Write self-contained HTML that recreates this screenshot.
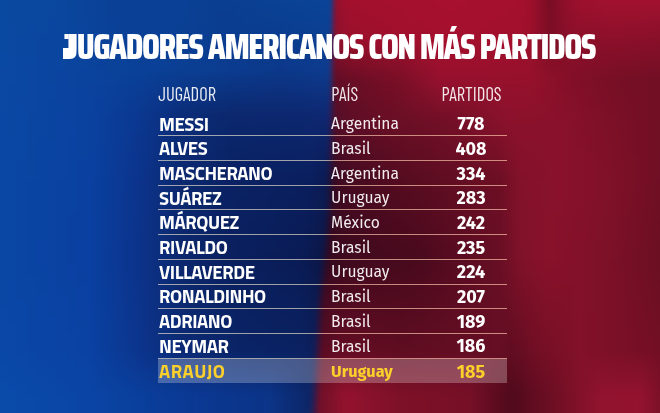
<!DOCTYPE html>
<html><head><meta charset="utf-8"><style>
html,body{margin:0;padding:0}
body{width:660px;height:413px;overflow:hidden;position:relative;background:#0b4a9c}
#bg{position:absolute;left:-10px;top:-10px;width:680px;height:433px;filter:blur(1.5px)}
#bg i{position:absolute;left:0;width:680px;display:block}

.t{position:absolute;left:62.5px;top:27.2px;font-family:'Saira Condensed','Liberation Sans Narrow','Liberation Sans',sans-serif;font-weight:800;font-size:35.5px;letter-spacing:-1.45px;word-spacing:0.2px;line-height:40px;color:#fff;white-space:nowrap}
.j{display:inline-block;position:relative;transform:scaleX(1.42);transform-origin:0 0;margin-right:4.6px}
.j:before,.j:after{content:'';position:absolute;left:1.1px;top:6.9px;width:3.4px;height:5.2px;background:#fff}
.j:after{left:-0.24px;width:4.74px;top:20.5px;height:11.2px}
.fb .j{transform:none;margin-right:0} .fb .j:before,.fb .j:after{display:none}
.h{position:absolute;top:84px;font-family:'Barlow Condensed','Liberation Sans Narrow','Liberation Sans',sans-serif;font-weight:400;font-size:18.5px;line-height:20px;color:rgba(255,255,255,.9);white-space:nowrap}
.row{position:absolute;left:0;width:660px;height:24px;color:#fff}
.row span{position:absolute;top:0;line-height:24px;white-space:nowrap}
.n{top:0.5px!important;left:159px;font-family:'Titillium Web','Liberation Sans',sans-serif;font-weight:700;font-size:18.6px;letter-spacing:-0.45px}
.c{top:1.3px!important;left:331.1px;font-family:'Fira Sans','Liberation Sans',sans-serif;font-weight:400;font-size:15.6px;color:rgba(255,255,255,.92)}
.v{top:1.2px!important;left:431px;width:80px;text-align:center;font-family:'Fira Sans','Liberation Sans',sans-serif;font-weight:700;font-size:18px}
.hl{background:rgba(255,255,255,.25);left:158px;width:349px;top:358.5px!important;height:24px}
.hl span{color:#fcd02a!important}
.hl .n{left:1px;letter-spacing:0.5px} .hl .c{left:173.1px;font-weight:700;font-size:16.3px} .hl .v{left:273px}
.ln{position:absolute;left:158px;width:349px;height:1px;background:rgba(255,238,228,.64)}
</style></head><body>
<div id="bg">
<i style="top:-2px;height:3px;background:linear-gradient(90deg,#0a49a0 0px,#0a49a0 10px,#0a489f 20px,#0a489f 30px,#0a489f 40px,#0a479e 50px,#0a479e 60px,#0a479e 70px,#0a459c 80px,#0a449b 90px,#0a4399 100px,#0a4298 110px,#0a4196 120px,#0a4196 130px,#0a4196 140px,#0a4197 150px,#0a4197 160px,#0a4298 170px,#0a4196 180px,#0a4095 190px,#0a4094 200px,#0a3f93 210px,#0a3e91 220px,#0a3e90 230px,#0a3e90 240px,#0a3f91 250px,#0a3f92 260px,#0a4093 270px,#0a4194 280px,#0a4296 290px,#0a4296 300px,#0a4296 310px,#0a4397 320px,#0a4397 330px,#0a4397 337px,#0a4397 339px,#0f4193 340px,#1e3b87 341px,#4b2a63 343px,#7a183e 345px,#93102e 347px,#97102e 349px,#98102e 350px,#a2102e 360px,#a2102e 370px,#a3102e 380px,#a4102e 390px,#a4102e 400px,#a5102f 410px,#a5102f 420px,#a6102f 430px,#a6102f 440px,#a7102f 450px,#a81030 460px,#a7102f 470px,#a6102f 480px,#a6102f 490px,#a5102e 500px,#a5102e 510px,#a4102e 520px,#a4102e 530px,#a00f2d 540px,#8c0f28 550px,#780d23 560px,#880e28 570px,#950f2b 580px,#9c102d 590px,#9e102e 600px,#a0112f 610px,#a21230 620px,#a21230 630px,#a21230 640px,#a21230 650px,#a21230 660px,#a21230 670px,#a21230 680px)"></i>
<i style="top:1px;height:3px;background:linear-gradient(90deg,#0a49a0 0px,#0a49a0 10px,#0a489f 20px,#0a489f 30px,#0a489f 40px,#0a479e 50px,#0a479e 60px,#0a479e 70px,#0a459c 80px,#0a449b 90px,#0a4399 100px,#0a4298 110px,#0a4196 120px,#0a4196 130px,#0a4196 140px,#0a4197 150px,#0a4197 160px,#0a4298 170px,#0a4196 180px,#0a4095 190px,#0a4094 200px,#0a3f93 210px,#0a3e91 220px,#0a3e90 230px,#0a3e90 240px,#0a3f91 250px,#0a3f92 260px,#0a4093 270px,#0a4194 280px,#0a4296 290px,#0a4296 300px,#0a4296 310px,#0a4397 320px,#0a4397 330px,#0a4397 337px,#0a4397 339px,#0f4193 340px,#1e3b87 341px,#4b2a63 343px,#7a183e 345px,#93102e 347px,#97102e 349px,#98102e 350px,#a2102e 360px,#a2102e 370px,#a3102e 380px,#a4102e 390px,#a4102e 400px,#a5102f 410px,#a5102f 420px,#a6102f 430px,#a6102f 440px,#a7102f 450px,#a81030 460px,#a7102f 470px,#a6102f 480px,#a6102f 490px,#a5102e 500px,#a5102e 510px,#a4102e 520px,#a4102e 530px,#a00f2d 540px,#8c0f28 550px,#780d23 560px,#880e28 570px,#950f2b 580px,#9c102d 590px,#9e102e 600px,#a0112f 610px,#a21230 620px,#a21230 630px,#a21230 640px,#a21230 650px,#a21230 660px,#a21230 670px,#a21230 680px)"></i>
<i style="top:4px;height:3px;background:linear-gradient(90deg,#0a49a0 0px,#0a49a0 10px,#0a489f 20px,#0a489f 30px,#0a489f 40px,#0a479e 50px,#0a479e 60px,#0a479e 70px,#0a459c 80px,#0a449b 90px,#0a4399 100px,#0a4298 110px,#0a4196 120px,#0a4196 130px,#0a4196 140px,#0a4197 150px,#0a4197 160px,#0a4298 170px,#0a4196 180px,#0a4095 190px,#0a4094 200px,#0a3f93 210px,#0a3e91 220px,#0a3e90 230px,#0a3e90 240px,#0a3f91 250px,#0a3f92 260px,#0a4093 270px,#0a4194 280px,#0a4296 290px,#0a4296 300px,#0a4296 310px,#0a4397 320px,#0a4397 330px,#0a4397 337px,#0a4397 339px,#0f4193 340px,#1e3b87 341px,#4b2a63 343px,#7a183e 345px,#93102e 347px,#97102e 349px,#98102e 350px,#a2102e 360px,#a2102e 370px,#a3102e 380px,#a4102e 390px,#a4102e 400px,#a5102f 410px,#a5102f 420px,#a6102f 430px,#a6102f 440px,#a7102f 450px,#a81030 460px,#a7102f 470px,#a6102f 480px,#a6102f 490px,#a5102e 500px,#a5102e 510px,#a4102e 520px,#a4102e 530px,#a00f2d 540px,#8c0f28 550px,#780d23 560px,#880e28 570px,#950f2b 580px,#9c102d 590px,#9e102e 600px,#a0112f 610px,#a21230 620px,#a21230 630px,#a21230 640px,#a21230 650px,#a21230 660px,#a21230 670px,#a21230 680px)"></i>
<i style="top:7px;height:3px;background:linear-gradient(90deg,#0a49a0 0px,#0a49a0 10px,#0a489f 20px,#0a489f 30px,#0a489f 40px,#0a479e 50px,#0a479e 60px,#0a479e 70px,#0a459c 80px,#0a449b 90px,#0a4399 100px,#0a4298 110px,#0a4196 120px,#0a4196 130px,#0a4196 140px,#0a4197 150px,#0a4197 160px,#0a4298 170px,#0a4196 180px,#0a4095 190px,#0a4094 200px,#0a3f93 210px,#0a3e91 220px,#0a3e90 230px,#0a3e90 240px,#0a3f91 250px,#0a3f92 260px,#0a4093 270px,#0a4194 280px,#0a4296 290px,#0a4296 300px,#0a4296 310px,#0a4397 320px,#0a4397 330px,#0a4397 337px,#0a4397 339px,#0f4193 340px,#1e3b87 341px,#4b2a63 343px,#7a183e 345px,#93102e 347px,#97102e 349px,#98102e 350px,#a2102e 360px,#a2102e 370px,#a3102e 380px,#a4102e 390px,#a4102e 400px,#a5102f 410px,#a5102f 420px,#a6102f 430px,#a6102f 440px,#a7102f 450px,#a81030 460px,#a7102f 470px,#a6102f 480px,#a6102f 490px,#a5102e 500px,#a5102e 510px,#a4102e 520px,#a4102e 530px,#a00f2d 540px,#8c0f28 550px,#780d23 560px,#880e28 570px,#950f2b 580px,#9c102d 590px,#9e102e 600px,#a0112f 610px,#a21230 620px,#a21230 630px,#a21230 640px,#a21230 650px,#a21230 660px,#a21230 670px,#a21230 680px)"></i>
<i style="top:10px;height:3px;background:linear-gradient(90deg,#0a49a0 0px,#0a49a0 10px,#0a489f 20px,#0a489f 30px,#0a479f 40px,#0a479e 50px,#0a479e 60px,#0a469e 70px,#0a459c 80px,#0a449b 90px,#0a4399 100px,#0a4298 110px,#0a4196 120px,#0a4196 130px,#0a4196 140px,#0a4197 150px,#0a4197 160px,#0a4197 170px,#0a4196 180px,#0a4095 190px,#0a4094 200px,#0a3f93 210px,#0a3e91 220px,#0a3e90 230px,#0a3e90 240px,#0a3f91 250px,#0a3f92 260px,#0a4093 270px,#0a4194 280px,#0a4195 290px,#0a4296 300px,#0a4296 310px,#0a4296 320px,#0a4397 330px,#0a4397 337px,#0a4397 339px,#0f4192 340px,#1e3b86 341px,#4b2962 343px,#7a173e 345px,#93102d 347px,#96102d 349px,#98102d 350px,#a2102e 360px,#a2102e 370px,#a3102e 380px,#a3102e 390px,#a4102e 400px,#a4102e 410px,#a5102f 420px,#a6102f 430px,#a6102f 440px,#a7102f 450px,#a7102f 460px,#a7102f 470px,#a6102f 480px,#a6102f 490px,#a5102e 500px,#a5102e 510px,#a4102e 520px,#a4102e 530px,#9f0f2c 540px,#8c0e28 550px,#780d23 560px,#880e27 570px,#940f2b 580px,#9b102d 590px,#9d102e 600px,#9f112e 610px,#a1112f 620px,#a1112f 630px,#a1112f 640px,#a1112f 650px,#a1112f 660px,#a1112f 670px,#a1112f 680px)"></i>
<i style="top:13px;height:3px;background:linear-gradient(90deg,#0a49a0 0px,#0a49a0 10px,#0a489f 20px,#0a489f 30px,#0a479f 40px,#0a479e 50px,#0a479e 60px,#0a469e 70px,#0a459c 80px,#0a449b 90px,#0a4399 100px,#0a4298 110px,#0a4197 120px,#0a4196 130px,#0a4196 140px,#0a4197 150px,#0a4197 160px,#0a4197 170px,#0a4196 180px,#0a4095 190px,#0a4094 200px,#0a3f93 210px,#0a3e91 220px,#0a3e90 230px,#0a3e90 240px,#0a3e91 250px,#0a3f92 260px,#0a4093 270px,#0a4094 280px,#0a4195 290px,#0a4195 300px,#0a4296 310px,#0a4296 320px,#0a4296 330px,#0a4397 337px,#0a4397 339px,#104091 340px,#1f3a85 341px,#4c2961 343px,#7b173d 345px,#92102d 347px,#96102d 349px,#97102d 350px,#a1102d 360px,#a2102e 370px,#a2102e 380px,#a3102e 390px,#a3102e 400px,#a4102e 410px,#a5102f 420px,#a5102f 430px,#a6102f 440px,#a7102f 450px,#a7102f 460px,#a7102f 470px,#a6102f 480px,#a6102f 490px,#a5102e 500px,#a5102e 510px,#a4102e 520px,#a3102d 530px,#9f0f2c 540px,#8c0e28 550px,#780d23 560px,#880e27 570px,#940f2b 580px,#9a102d 590px,#9b102d 600px,#9d112e 610px,#9f112f 620px,#9f112f 630px,#9f112f 640px,#9f112f 650px,#9f112f 660px,#9f112f 670px,#9f112f 680px)"></i>
<i style="top:16px;height:3px;background:linear-gradient(90deg,#0a49a0 0px,#0a49a0 10px,#0a48a0 20px,#0a489f 30px,#0a479f 40px,#0a479e 50px,#0a479e 60px,#0a469e 70px,#0a459c 80px,#0a449b 90px,#0a4399 100px,#0a4298 110px,#0a4197 120px,#0a4196 130px,#0a4196 140px,#0a4197 150px,#0a4197 160px,#0a4197 170px,#0a4196 180px,#0a4095 190px,#0a3f94 200px,#0a3f92 210px,#0a3e91 220px,#0a3e90 230px,#0a3e90 240px,#0a3e91 250px,#0a3f92 260px,#0a3f92 270px,#0a4093 280px,#0a4094 290px,#0a4195 300px,#0a4195 310px,#0a4295 320px,#0a4296 330px,#0a4296 337px,#0a4296 339px,#114090 340px,#213a84 341px,#4d285f 343px,#7b173c 345px,#91102d 347px,#95102d 349px,#97102d 350px,#a1102d 360px,#a1102d 370px,#a2102e 380px,#a2102e 390px,#a3102e 400px,#a4102e 410px,#a4102e 420px,#a5102f 430px,#a6102f 440px,#a6102f 450px,#a7102f 460px,#a6102f 470px,#a6102f 480px,#a5102e 490px,#a5102e 500px,#a4102e 510px,#a4102e 520px,#a3102d 530px,#9f0f2c 540px,#8c0e28 550px,#780d23 560px,#870e27 570px,#930f2b 580px,#99102c 590px,#9a102d 600px,#9c112e 610px,#9d112e 620px,#9d112e 630px,#9d112e 640px,#9d112e 650px,#9d112e 660px,#9d112e 670px,#9d112e 680px)"></i>
<i style="top:19px;height:3px;background:linear-gradient(90deg,#0a49a0 0px,#0a49a0 10px,#0a48a0 20px,#0a489f 30px,#0a479f 40px,#0a479f 50px,#0a479e 60px,#0a469e 70px,#0a459c 80px,#0a449b 90px,#0a439a 100px,#0a4298 110px,#0a4197 120px,#0a4196 130px,#0a4197 140px,#0a4197 150px,#0a4197 160px,#0a4197 170px,#0a4196 180px,#0a4095 190px,#0a3f94 200px,#0a3f92 210px,#0a3e91 220px,#0a3e90 230px,#0a3d90 240px,#0a3e91 250px,#0a3e91 260px,#0a3f92 270px,#0a3f93 280px,#0a4094 290px,#0a4094 300px,#0a4195 310px,#0a4195 320px,#0a4295 330px,#0a4296 337px,#0a4296 339px,#123f8f 340px,#223982 341px,#4e275e 343px,#7b163b 345px,#91102d 347px,#94102d 349px,#96102d 350px,#a0102d 360px,#a1102d 370px,#a1102d 380px,#a2102e 390px,#a3102e 400px,#a3102e 410px,#a4102e 420px,#a5102e 430px,#a5102f 440px,#a6102f 450px,#a7102f 460px,#a6102f 470px,#a6102e 480px,#a5102e 490px,#a5102e 500px,#a4102e 510px,#a3102d 520px,#a3102d 530px,#9f0f2c 540px,#8c0e28 550px,#790d23 560px,#870e27 570px,#920f2a 580px,#97102c 590px,#99102d 600px,#9a112d 610px,#9c112e 620px,#9c112e 630px,#9b112e 640px,#9b112e 650px,#9b112e 660px,#9b112e 670px,#9b112e 680px)"></i>
<i style="top:22px;height:3px;background:linear-gradient(90deg,#0a49a0 0px,#0a49a0 10px,#0a48a0 20px,#0a489f 30px,#0a479f 40px,#0a479f 50px,#0a479e 60px,#0a469e 70px,#0a459d 80px,#0a449b 90px,#0a439a 100px,#0a4298 110px,#0a4197 120px,#0a4196 130px,#0a4197 140px,#0a4197 150px,#0a4197 160px,#0a4197 170px,#0a4196 180px,#0a4095 190px,#0a3f94 200px,#0a3f92 210px,#0a3e91 220px,#0a3d90 230px,#0a3d90 240px,#0a3e90 250px,#0a3e91 260px,#0a3f92 270px,#0a3f92 280px,#0a4093 290px,#0a4094 300px,#0a4094 310px,#0a4195 320px,#0a4195 330px,#0a4295 337px,#0b4295 339px,#133e8e 340px,#233881 341px,#4f275d 343px,#7b163b 345px,#90102d 347px,#94102d 349px,#96102d 350px,#9f102d 360px,#a0102d 370px,#a1102d 380px,#a2102d 390px,#a2102e 400px,#a3102e 410px,#a4102e 420px,#a4102e 430px,#a5102e 440px,#a6102f 450px,#a6102f 460px,#a6102f 470px,#a5102e 480px,#a5102e 490px,#a4102e 500px,#a4102e 510px,#a3102d 520px,#a3102d 530px,#9e0f2c 540px,#8c0e28 550px,#790d23 560px,#860e27 570px,#910f2a 580px,#96102c 590px,#97102c 600px,#99102d 610px,#9a112d 620px,#9a112d 630px,#9a112d 640px,#99112d 650px,#99112d 660px,#99112d 670px,#99112d 680px)"></i>
<i style="top:25px;height:3px;background:linear-gradient(90deg,#0a49a0 0px,#0a49a0 10px,#0a48a0 20px,#0a48a0 30px,#0a479f 40px,#0a479f 50px,#0a469e 60px,#0a469e 70px,#0a459d 80px,#0a449b 90px,#0a439a 100px,#0a4299 110px,#0a4197 120px,#0a4197 130px,#0a4197 140px,#0a4197 150px,#0a4197 160px,#0a4197 170px,#0a4096 180px,#0a4095 190px,#0a3f93 200px,#0a3f92 210px,#0a3e91 220px,#0a3d90 230px,#0a3d90 240px,#0a3e90 250px,#0a3e91 260px,#0a3e91 270px,#0a3f92 280px,#0a3f93 290px,#0a4093 300px,#0a4094 310px,#0a4194 320px,#0a4195 330px,#0a4195 337px,#0b4194 339px,#143e8d 340px,#243780 341px,#4f265c 343px,#7b163a 345px,#8f102d 347px,#93102d 349px,#95102d 350px,#9f102d 360px,#a0102d 370px,#a0102d 380px,#a1102d 390px,#a2102e 400px,#a3102e 410px,#a3102e 420px,#a4102e 430px,#a5102e 440px,#a6102e 450px,#a6102f 460px,#a6102e 470px,#a5102e 480px,#a5102e 490px,#a4102e 500px,#a3102d 510px,#a3102d 520px,#a2102d 530px,#9e0f2c 540px,#8c0e28 550px,#790d23 560px,#860e27 570px,#900f2a 580px,#95102c 590px,#96102c 600px,#97102d 610px,#98112d 620px,#98112d 630px,#98112d 640px,#98112d 650px,#97112d 660px,#97112d 670px,#97112d 680px)"></i>
<i style="top:28px;height:3px;background:linear-gradient(90deg,#0a49a1 0px,#0a49a1 10px,#0a48a0 20px,#0a48a0 30px,#0a479f 40px,#0a479f 50px,#0a469e 60px,#0a469e 70px,#0a459d 80px,#0a449b 90px,#0a439a 100px,#0a4299 110px,#0a4197 120px,#0a4197 130px,#0a4197 140px,#0a4197 150px,#0a4197 160px,#0a4197 170px,#0a4096 180px,#0a4095 190px,#0a3f93 200px,#0a3f92 210px,#0a3e91 220px,#0a3d90 230px,#0a3d90 240px,#0a3d90 250px,#0a3e91 260px,#0a3e91 270px,#0a3e92 280px,#0a3f92 290px,#0a3f93 300px,#0a4093 310px,#0a4094 320px,#0a4194 330px,#0b4194 337px,#0c4194 339px,#153d8c 340px,#25377f 341px,#50255a 343px,#7b1639 345px,#8f102d 347px,#93102d 349px,#95102d 350px,#9e102d 360px,#9f102d 370px,#a0102d 380px,#a1102d 390px,#a1102d 400px,#a2102e 410px,#a3102e 420px,#a4102e 430px,#a5102e 440px,#a5102e 450px,#a6102f 460px,#a5102e 470px,#a5102e 480px,#a4102e 490px,#a4102d 500px,#a3102d 510px,#a3102d 520px,#a2102d 530px,#9e0f2c 540px,#8c0e28 550px,#790d23 560px,#860e27 570px,#900f2a 580px,#94102b 590px,#95102c 600px,#96102c 610px,#97112d 620px,#97112d 630px,#96112c 640px,#96112c 650px,#95112c 660px,#95112c 670px,#95112c 680px)"></i>
<i style="top:31px;height:3px;background:linear-gradient(90deg,#0a49a1 0px,#0a49a1 10px,#0a48a0 20px,#0a48a0 30px,#0a479f 40px,#0a479f 50px,#0a469f 60px,#0a469e 70px,#0a459d 80px,#0a449c 90px,#0a439a 100px,#0a4299 110px,#0a4198 120px,#0a4197 130px,#0a4197 140px,#0a4197 150px,#0a4197 160px,#0a4197 170px,#0a4096 180px,#0a4095 190px,#0a3f93 200px,#0a3f92 210px,#0a3e91 220px,#0a3d90 230px,#0a3d90 240px,#0a3d90 250px,#0a3e90 260px,#0a3e91 270px,#0a3e91 280px,#0a3e92 290px,#0a3f92 300px,#0a3f93 310px,#0b4093 320px,#0b4094 330px,#0b4194 337px,#0c4093 339px,#163c8b 340px,#26367d 341px,#512559 343px,#7b1539 345px,#8e102c 347px,#92102c 349px,#94102c 350px,#9e102c 360px,#9f102d 370px,#a0102d 380px,#a0102d 390px,#a1102d 400px,#a2102d 410px,#a3102e 420px,#a3102e 430px,#a4102e 440px,#a5102e 450px,#a6102e 460px,#a5102e 470px,#a5102e 480px,#a4102e 490px,#a3102d 500px,#a3102d 510px,#a2102d 520px,#a2102d 530px,#9e0f2c 540px,#8c0e28 550px,#7a0d24 560px,#850e27 570px,#8f0f2a 580px,#93102b 590px,#93102b 600px,#94102c 610px,#95102c 620px,#95102c 630px,#95102c 640px,#94102c 650px,#93102c 660px,#93102c 670px,#93102c 680px)"></i>
<i style="top:34px;height:3px;background:linear-gradient(90deg,#0a49a1 0px,#0a49a1 10px,#0a48a1 20px,#0a48a0 30px,#0a47a0 40px,#0a479f 50px,#0a469f 60px,#0a469e 70px,#0a459d 80px,#0a449c 90px,#0a439a 100px,#0a4299 110px,#0a4198 120px,#0a4197 130px,#0a4197 140px,#0a4197 150px,#0a4197 160px,#0a4197 170px,#0a4096 180px,#0a4094 190px,#0a3f93 200px,#0a3e92 210px,#0a3e91 220px,#0a3d90 230px,#0a3d8f 240px,#0a3d90 250px,#0a3d90 260px,#0a3d90 270px,#0a3e91 280px,#0a3e91 290px,#0a3e92 300px,#0b3f92 310px,#0b3f93 320px,#0b4093 330px,#0b4094 337px,#0d4092 339px,#173c8a 340px,#27357c 341px,#522458 343px,#7c1538 345px,#8e102c 347px,#91102c 349px,#93102c 350px,#9d102c 360px,#9e102d 370px,#9f102d 380px,#a0102d 390px,#a1102d 400px,#a2102d 410px,#a2102d 420px,#a3102e 430px,#a4102e 440px,#a5102e 450px,#a6102e 460px,#a5102e 470px,#a4102e 480px,#a4102d 490px,#a3102d 500px,#a3102d 510px,#a2102d 520px,#a1102c 530px,#9d0f2b 540px,#8c0e28 550px,#7a0d24 560px,#850e27 570px,#8e0f2a 580px,#91102b 590px,#92102b 600px,#93102b 610px,#93102c 620px,#93102c 630px,#93102c 640px,#92102b 650px,#92102b 660px,#91102b 670px,#91102b 680px)"></i>
<i style="top:37px;height:3px;background:linear-gradient(90deg,#0a49a1 0px,#0a49a1 10px,#0a48a1 20px,#0a48a0 30px,#0a47a0 40px,#0a479f 50px,#0a469f 60px,#0a469e 70px,#0a459d 80px,#0a449c 90px,#0a439b 100px,#0a4299 110px,#0a4198 120px,#0a4197 130px,#0a4197 140px,#0a4197 150px,#0a4197 160px,#0a4197 170px,#0a4096 180px,#0a4094 190px,#0a3f93 200px,#0a3e92 210px,#0a3e91 220px,#0a3d90 230px,#0a3d8f 240px,#0a3d90 250px,#0a3d90 260px,#0a3d90 270px,#0a3d90 280px,#0a3d91 290px,#0a3e91 300px,#0b3f92 310px,#0b3f92 320px,#0b4093 330px,#0b4093 337px,#0d3f91 339px,#173b89 340px,#28357b 341px,#532457 343px,#7c1537 345px,#8d102c 347px,#91102c 349px,#93102c 350px,#9d102c 360px,#9e102c 370px,#9f102d 380px,#9f102d 390px,#a0102d 400px,#a1102d 410px,#a2102d 420px,#a3102e 430px,#a4102e 440px,#a5102e 450px,#a5102e 460px,#a5102e 470px,#a4102e 480px,#a4102d 490px,#a3102d 500px,#a2102d 510px,#a2102d 520px,#a1102c 530px,#9d0f2b 540px,#8c0e28 550px,#7a0d24 560px,#840e27 570px,#8d0f2a 580px,#90102a 590px,#91102b 600px,#91102b 610px,#92102b 620px,#92102b 630px,#91102b 640px,#90102b 650px,#90102b 660px,#8f102b 670px,#8f102b 680px)"></i>
<i style="top:40px;height:3px;background:linear-gradient(90deg,#0a49a1 0px,#0a49a1 10px,#0a48a1 20px,#0a48a0 30px,#0a47a0 40px,#0a479f 50px,#0a469f 60px,#0a469e 70px,#0a459d 80px,#0a449c 90px,#0a439b 100px,#0a4299 110px,#0a4198 120px,#0a4197 130px,#0a4197 140px,#0a4197 150px,#0a4197 160px,#0a4197 170px,#0a4095 180px,#0a3f94 190px,#0a3f93 200px,#0a3e92 210px,#0a3e91 220px,#0a3d90 230px,#0a3d8f 240px,#0a3d90 250px,#0a3d90 260px,#0a3d90 270px,#0a3d90 280px,#0a3d90 290px,#0b3e91 300px,#0b3e91 310px,#0b3f92 320px,#0b3f92 330px,#0b4093 336px,#0b4093 338px,#183b88 340px,#3d2c68 342px,#691b45 344px,#88102e 346px,#8e102c 348px,#92102c 350px,#9c102c 360px,#9d102c 370px,#9e102c 380px,#9f102d 390px,#a0102d 400px,#a1102d 410px,#a2102d 420px,#a3102d 430px,#a3102e 440px,#a4102e 450px,#a5102e 460px,#a5102e 470px,#a4102d 480px,#a3102d 490px,#a3102d 500px,#a2102d 510px,#a1102c 520px,#a1102c 530px,#9d0f2b 540px,#8c0e28 550px,#7b0d24 560px,#840e27 570px,#8c0f29 580px,#8f102a 590px,#8f102a 600px,#90102b 610px,#90102b 620px,#90102b 630px,#8f102b 640px,#8f102a 650px,#8e102a 660px,#8d102a 670px,#8d102a 680px)"></i>
<i style="top:43px;height:3px;background:linear-gradient(90deg,#0a49a1 0px,#0a49a1 10px,#0a48a1 20px,#0a48a0 30px,#0a47a0 40px,#0a479f 50px,#0a469f 60px,#0a469e 70px,#0a459d 80px,#0a449c 90px,#0a439b 100px,#0a429a 110px,#0a4298 120px,#0a4198 130px,#0a4197 140px,#0a4197 150px,#0a4197 160px,#0a4197 170px,#0a4095 180px,#0a3f94 190px,#0a3f93 200px,#0a3e92 210px,#0a3e91 220px,#0a3d90 230px,#0a3d8f 240px,#0a3d8f 250px,#0a3d8f 260px,#0a3d8f 270px,#0a3d90 280px,#0a3d90 290px,#0b3d90 300px,#0b3e91 310px,#0b3e91 320px,#0b3f92 330px,#0b3f92 336px,#0b3f92 338px,#193a87 340px,#3e2b67 342px,#691b44 344px,#88102d 346px,#8e102c 348px,#92102c 350px,#9c102c 360px,#9d102c 370px,#9e102c 380px,#9f102c 390px,#a0102d 400px,#a0102d 410px,#a1102d 420px,#a2102d 430px,#a3102d 440px,#a4102e 450px,#a5102e 460px,#a4102e 470px,#a4102d 480px,#a3102d 490px,#a2102d 500px,#a2102c 510px,#a1102c 520px,#a1102c 530px,#9d0f2b 540px,#8c0e28 550px,#7b0d24 560px,#840e27 570px,#8c0f29 580px,#8e102a 590px,#8e102a 600px,#8e102a 610px,#8f102a 620px,#8f102a 630px,#8e102a 640px,#8d102a 650px,#8c102a 660px,#8b1029 670px,#8b1029 680px)"></i>
<i style="top:46px;height:3px;background:linear-gradient(90deg,#0a49a2 0px,#0a49a2 10px,#0a48a1 20px,#0a47a1 30px,#0a47a0 40px,#0a46a0 50px,#0a469f 60px,#0a459f 70px,#0a459d 80px,#0a449c 90px,#0a439b 100px,#0a429a 110px,#0a4299 120px,#0a4198 130px,#0a4197 140px,#0a4197 150px,#0a4197 160px,#0a4096 170px,#0a4095 180px,#0a3f94 190px,#0a3f93 200px,#0a3e92 210px,#0a3e91 220px,#0a3d90 230px,#0a3c8f 240px,#0a3c8f 250px,#0a3c8f 260px,#0a3c8f 270px,#0b3c8f 280px,#0b3c8f 290px,#0b3d90 300px,#0b3d90 310px,#0b3e91 320px,#0b3e91 330px,#0c3f92 336px,#0c3f92 338px,#1a3985 340px,#3f2b66 342px,#6a1a43 344px,#87102d 346px,#8d102c 348px,#91102c 350px,#9b102c 360px,#9c102c 370px,#9d102c 380px,#9e102c 390px,#9f102c 400px,#a0102d 410px,#a1102d 420px,#a2102d 430px,#a3102d 440px,#a4102d 450px,#a5102e 460px,#a4102d 470px,#a3102d 480px,#a3102d 490px,#a2102d 500px,#a2102c 510px,#a1102c 520px,#a0102c 530px,#9c0f2b 540px,#8c0e28 550px,#7b0d24 560px,#830e27 570px,#8b0f29 580px,#8d102a 590px,#8d102a 600px,#8d102a 610px,#8d102a 620px,#8d102a 630px,#8c102a 640px,#8b1029 650px,#8a1029 660px,#891029 670px,#891029 680px)"></i>
<i style="top:49px;height:3px;background:linear-gradient(90deg,#0a49a2 0px,#0a49a2 10px,#0a48a1 20px,#0a47a1 30px,#0a47a0 40px,#0a46a0 50px,#0a469f 60px,#0a459f 70px,#0a459d 80px,#0a449c 90px,#0a439b 100px,#0a429a 110px,#0a4299 120px,#0a4198 130px,#0a4198 140px,#0a4197 150px,#0a4197 160px,#0a4096 170px,#0a4095 180px,#0a3f94 190px,#0a3f93 200px,#0a3e92 210px,#0a3d91 220px,#0a3d90 230px,#0a3c8f 240px,#0a3c8f 250px,#0a3c8f 260px,#0b3c8f 270px,#0b3c8f 280px,#0b3c8f 290px,#0b3c8f 300px,#0b3d90 310px,#0b3e90 320px,#0c3e91 330px,#0c3e91 336px,#0c3f91 338px,#1b3984 340px,#402a64 342px,#6a1a42 344px,#87102d 346px,#8c0f2b 348px,#900f2b 350px,#9a0f2c 360px,#9b0f2c 370px,#9c0f2c 380px,#9d0f2c 390px,#9e0f2c 400px,#9f0f2c 410px,#a00f2d 420px,#a1102d 430px,#a2102d 440px,#a3102d 450px,#a4102d 460px,#a4102d 470px,#a3102d 480px,#a2102d 490px,#a2102c 500px,#a1102c 510px,#a1102c 520px,#a0102c 530px,#9c0f2b 540px,#8c0e28 550px,#7c0e25 560px,#830e27 570px,#8a0f29 580px,#8b0f29 590px,#8b0f29 600px,#8b0f29 610px,#8b0f29 620px,#8b0f29 630px,#8a0f29 640px,#890f29 650px,#880f29 660px,#870f28 670px,#870f28 680px)"></i>
<i style="top:52px;height:3px;background:linear-gradient(90deg,#0a49a2 0px,#0a49a2 10px,#0a48a1 20px,#0a47a1 30px,#0a47a0 40px,#0a46a0 50px,#0a469f 60px,#0a459f 70px,#0a459e 80px,#0a449c 90px,#0a439b 100px,#0a429a 110px,#0a4299 120px,#0a4198 130px,#0a4198 140px,#0a4197 150px,#0a4097 160px,#0a4096 170px,#0a4095 180px,#0a3f94 190px,#0a3f93 200px,#0a3e92 210px,#0a3d91 220px,#0a3d90 230px,#0a3c8f 240px,#0a3c8f 250px,#0b3c8f 260px,#0b3c8e 270px,#0b3b8e 280px,#0b3b8e 290px,#0b3c8f 300px,#0b3d8f 310px,#0b3d90 320px,#0c3e91 330px,#0c3e91 336px,#0c3e91 338px,#1c3883 340px,#402963 342px,#681941 344px,#84102c 346px,#890f2b 348px,#8d0f2b 350px,#970f2b 360px,#980f2b 370px,#990f2b 380px,#9a0f2c 390px,#9b0f2c 400px,#9c0f2c 410px,#9e0f2c 420px,#9f102d 430px,#a1102d 440px,#a2102d 450px,#a3102d 460px,#a3102d 470px,#a2102d 480px,#a1102d 490px,#a1102c 500px,#a0102c 510px,#a0102c 520px,#9f102c 530px,#9c0f2b 540px,#8c0f28 550px,#7d0e25 560px,#830e27 570px,#890f29 580px,#8a0f29 590px,#8a0f29 600px,#8a0f29 610px,#8a0f29 620px,#8a0f29 630px,#890f29 640px,#880f29 650px,#870f28 660px,#860f28 670px,#860f28 680px)"></i>
<i style="top:55px;height:3px;background:linear-gradient(90deg,#0a49a2 0px,#0a49a2 10px,#0a48a2 20px,#0a47a1 30px,#0a47a0 40px,#0a46a0 50px,#0a469f 60px,#0a459f 70px,#0a449e 80px,#0a449d 90px,#0a439b 100px,#0a429a 110px,#0a4299 120px,#0a4198 130px,#0a4198 140px,#0a4197 150px,#0a4097 160px,#0a4096 170px,#0a4095 180px,#0a3f94 190px,#0a3f93 200px,#0a3e92 210px,#0a3d91 220px,#0a3d90 230px,#0a3c8f 240px,#0a3c8f 250px,#0b3c8e 260px,#0b3b8e 270px,#0b3b8e 280px,#0b3b8e 290px,#0b3b8e 300px,#0b3c8f 310px,#0c3d8f 320px,#0c3d90 330px,#0c3e90 336px,#0c3e91 338px,#1c3782 340px,#402962 342px,#671940 344px,#81102c 346px,#860f2b 348px,#890f2b 350px,#930f2a 360px,#940f2b 370px,#950f2b 380px,#970f2b 390px,#980f2b 400px,#9a0f2c 410px,#9b0f2c 420px,#9d102c 430px,#9f102d 440px,#a1102d 450px,#a2102d 460px,#a2102d 470px,#a1102d 480px,#a0102d 490px,#a0102c 500px,#9f102c 510px,#9f102c 520px,#9e102c 530px,#9b102b 540px,#8d0f28 550px,#7e0e25 560px,#840f27 570px,#890f29 580px,#8a0f29 590px,#890f29 600px,#890f29 610px,#880f29 620px,#880f29 630px,#870f28 640px,#860f28 650px,#850f28 660px,#840f28 670px,#840f28 680px)"></i>
<i style="top:58px;height:3px;background:linear-gradient(90deg,#0a49a2 0px,#0a49a2 10px,#0a48a2 20px,#0a47a1 30px,#0a47a1 40px,#0a46a0 50px,#0a469f 60px,#0a459f 70px,#0a449e 80px,#0a449d 90px,#0a439c 100px,#0a429a 110px,#0a4299 120px,#0a4198 130px,#0a4198 140px,#0a4197 150px,#0a4097 160px,#0a4096 170px,#0a4095 180px,#0a3f94 190px,#0a3e93 200px,#0a3e92 210px,#0a3d91 220px,#0a3d90 230px,#0a3c8f 240px,#0b3c8f 250px,#0b3b8e 260px,#0b3b8e 270px,#0b3b8d 280px,#0b3a8d 290px,#0b3b8e 300px,#0b3c8e 310px,#0c3c8f 320px,#0c3d90 330px,#0c3d90 336px,#0c3e90 338px,#1d3781 340px,#3f2860 342px,#66183f 344px,#7e0f2b 346px,#830f2a 348px,#860f2a 350px,#8f0f2a 360px,#910f2a 370px,#920f2a 380px,#940f2b 390px,#950f2b 400px,#970f2b 410px,#990f2c 420px,#9b102c 430px,#9e102d 440px,#a0102d 450px,#a1102d 460px,#a0102d 470px,#a0102d 480px,#9f102d 490px,#9f102c 500px,#9e102c 510px,#9e102c 520px,#9e102c 530px,#9b102b 540px,#8d0f28 550px,#800e26 560px,#840f27 570px,#890f29 580px,#890f29 590px,#880f29 600px,#870f29 610px,#870f28 620px,#860f28 630px,#850f28 640px,#840f28 650px,#830f28 660px,#820f28 670px,#820f28 680px)"></i>
<i style="top:61px;height:3px;background:linear-gradient(90deg,#0a49a3 0px,#0a49a3 10px,#0a48a2 20px,#0a47a1 30px,#0a47a1 40px,#0a46a0 50px,#0a46a0 60px,#0a459f 70px,#0a449e 80px,#0a449d 90px,#0a439c 100px,#0a429b 110px,#0a4299 120px,#0a4199 130px,#0a4198 140px,#0a4197 150px,#0a4097 160px,#0a4096 170px,#0a3f95 180px,#0a3f94 190px,#0a3e93 200px,#0a3e92 210px,#0a3d91 220px,#0a3c90 230px,#0b3c8f 240px,#0b3c8e 250px,#0b3b8e 260px,#0b3b8d 270px,#0b3a8d 280px,#0b3a8d 290px,#0b3b8d 300px,#0c3b8e 310px,#0c3c8f 320px,#0c3d8f 330px,#0c3d90 336px,#0d3d90 338px,#1e367f 340px,#3f275f 342px,#64183e 344px,#7c0f2b 346px,#7f0f2a 348px,#820f2a 350px,#8b0f29 360px,#8d0f2a 370px,#8f0f2a 380px,#900f2a 390px,#920f2a 400px,#940f2b 410px,#970f2b 420px,#99102c 430px,#9c102d 440px,#9f102d 450px,#a0102d 460px,#9f102d 470px,#9f102d 480px,#9e102d 490px,#9e102c 500px,#9e102c 510px,#9d102c 520px,#9d102c 530px,#9a102b 540px,#8d0f28 550px,#810e26 560px,#840f27 570px,#880f28 580px,#880f29 590px,#870f28 600px,#860f28 610px,#850f28 620px,#850f28 630px,#840f28 640px,#830f28 650px,#820f27 660px,#810f27 670px,#810f27 680px)"></i>
<i style="top:64px;height:3px;background:linear-gradient(90deg,#0a49a3 0px,#0a49a3 10px,#0a48a2 20px,#0a47a1 30px,#0a47a1 40px,#0a46a0 50px,#0a46a0 60px,#0a459f 70px,#0a449e 80px,#0a449d 90px,#0a439c 100px,#0a429b 110px,#0a429a 120px,#0a4199 130px,#0a4198 140px,#0a4197 150px,#0a4097 160px,#0a4096 170px,#0a3f95 180px,#0a3f94 190px,#0a3e93 200px,#0a3e92 210px,#0a3d91 220px,#0a3c90 230px,#0b3c8f 240px,#0b3b8e 250px,#0b3b8e 260px,#0b3a8d 270px,#0b3a8d 280px,#0b3a8c 290px,#0b3a8d 300px,#0c3b8d 310px,#0c3c8e 320px,#0c3c8f 330px,#0c3d8f 336px,#0d3d8f 338px,#1e357e 340px,#3f275e 342px,#63183d 344px,#790f2a 346px,#7c0f29 348px,#7f0f29 350px,#870f29 360px,#890f29 370px,#8b0f29 380px,#8d0f2a 390px,#8f0f2a 400px,#910f2a 410px,#940f2b 420px,#98102c 430px,#9b102d 440px,#9e102d 450px,#9f102d 460px,#9e102d 470px,#9e102d 480px,#9e102d 490px,#9d102c 500px,#9d102c 510px,#9c102c 520px,#9c102c 530px,#9a102b 540px,#8e0f29 550px,#820e26 560px,#850f27 570px,#880f28 580px,#870f28 590px,#860f28 600px,#850f28 610px,#840f28 620px,#830f28 630px,#820f27 640px,#810f27 650px,#800f27 660px,#7f0f27 670px,#7f0f27 680px)"></i>
<i style="top:67px;height:3px;background:linear-gradient(90deg,#0a49a3 0px,#0a49a3 10px,#0a48a2 20px,#0a47a2 30px,#0a47a1 40px,#0a46a0 50px,#0a45a0 60px,#0a459f 70px,#0a449e 80px,#0a449d 90px,#0a439c 100px,#0a429b 110px,#0a429a 120px,#0a4199 130px,#0a4198 140px,#0a4197 150px,#0a4097 160px,#0a4096 170px,#0a3f95 180px,#0a3f94 190px,#0a3e93 200px,#0a3e92 210px,#0a3d91 220px,#0b3c90 230px,#0b3c8f 240px,#0b3b8e 250px,#0b3b8d 260px,#0b3a8d 270px,#0b3a8c 280px,#0b398b 290px,#0b3a8c 300px,#0c3b8d 310px,#0c3b8e 320px,#0c3c8e 330px,#0d3c8f 336px,#0d3c8e 338px,#1f357d 340px,#3f265d 342px,#61173c 344px,#760f2a 346px,#790f29 348px,#7c0f29 350px,#840f28 360px,#860f29 370px,#880f29 380px,#8a0f29 390px,#8c0f29 400px,#8e0f2a 410px,#920f2b 420px,#96102c 430px,#99102c 440px,#9d102d 450px,#9e102d 460px,#9d102d 470px,#9d102d 480px,#9d102d 490px,#9c102c 500px,#9c102c 510px,#9b102c 520px,#9b102c 530px,#99102b 540px,#8e0f29 550px,#830e26 560px,#850f27 570px,#870f28 580px,#860f28 590px,#850f28 600px,#840f28 610px,#820f27 620px,#810f27 630px,#800f27 640px,#7f0f27 650px,#7e0f27 660px,#7d0f27 670px,#7d0f27 680px)"></i>
<i style="top:70px;height:3px;background:linear-gradient(90deg,#0a49a3 0px,#0a49a3 10px,#0a48a2 20px,#0a47a2 30px,#0a47a1 40px,#0a46a1 50px,#0a45a0 60px,#0a459f 70px,#0a449e 80px,#0a449d 90px,#0a439c 100px,#0a429b 110px,#0a429a 120px,#0a4199 130px,#0a4198 140px,#0a4197 150px,#0a4097 160px,#0a4096 170px,#0a3f95 180px,#0a3f94 190px,#0a3e93 200px,#0a3e92 210px,#0a3d91 220px,#0b3c90 230px,#0b3c8f 240px,#0b3b8e 250px,#0b3a8d 260px,#0b3a8c 270px,#0b398c 280px,#0b398b 290px,#0c398c 300px,#0c3a8c 310px,#0c3b8d 320px,#0d3c8e 330px,#0d3c8e 336px,#0d3c8e 338px,#1f347c 340px,#3e255c 342px,#5f173b 344px,#730f29 346px,#760e28 348px,#780e28 350px,#800e28 360px,#820f28 370px,#840f28 380px,#870f29 390px,#890f29 400px,#8b0f29 410px,#8f0f2a 420px,#94102b 430px,#98102c 440px,#9c102d 450px,#9c102d 460px,#9c102d 470px,#9c102d 480px,#9c102d 490px,#9b102c 500px,#9b102c 510px,#9b102c 520px,#9a102c 530px,#99102b 540px,#8f0f29 550px,#850f27 560px,#860f27 570px,#870f28 580px,#850f28 590px,#840f28 600px,#820f27 610px,#810f27 620px,#800f27 630px,#7f0f27 640px,#7e0f27 650px,#7d0f26 660px,#7c0f26 670px,#7c0f26 680px)"></i>
<i style="top:73px;height:3px;background:linear-gradient(90deg,#0a49a3 0px,#0a49a3 10px,#0a48a3 20px,#0a47a2 30px,#0a47a1 40px,#0a46a1 50px,#0a45a0 60px,#0a459f 70px,#0a449e 80px,#0a449d 90px,#0a439c 100px,#0a429b 110px,#0a429a 120px,#0a4199 130px,#0a4198 140px,#0a4197 150px,#0a4097 160px,#0a4096 170px,#0a3f95 180px,#0a3f94 190px,#0a3e93 200px,#0a3e92 210px,#0b3d91 220px,#0b3c90 230px,#0b3b8f 240px,#0b3b8e 250px,#0b3a8d 260px,#0b3a8c 270px,#0b398b 280px,#0b388a 290px,#0c398b 300px,#0c3a8c 310px,#0c3b8d 320px,#0d3b8d 330px,#0d3c8e 336px,#0e3c8d 338px,#1f337b 340px,#3d255b 342px,#5d163a 344px,#700f29 346px,#730e28 348px,#750e28 350px,#7c0e27 360px,#7f0e28 370px,#810f28 380px,#830f28 390px,#860f29 400px,#880f29 410px,#8d0f2a 420px,#92102b 430px,#96102c 440px,#9b102d 450px,#9b102d 460px,#9b102d 470px,#9b102d 480px,#9b102d 490px,#9a102c 500px,#9a102c 510px,#9a102c 520px,#9a102c 530px,#98102b 540px,#8f0f29 550px,#860f27 560px,#860f27 570px,#860f28 580px,#840f28 590px,#830f27 600px,#810f27 610px,#800f27 620px,#7e0f26 630px,#7d0f26 640px,#7c0f26 650px,#7b0f26 660px,#7a0f26 670px,#7a0f26 680px)"></i>
<i style="top:76px;height:3px;background:linear-gradient(90deg,#0a49a3 0px,#0a49a3 10px,#0a48a3 20px,#0a47a2 30px,#0a47a1 40px,#0a46a1 50px,#0a45a0 60px,#0a459f 70px,#0a449e 80px,#0a449d 90px,#0a439c 100px,#0a429b 110px,#0a429a 120px,#0a4199 130px,#0a4198 140px,#0a4197 150px,#0a4097 160px,#0a4096 170px,#0a3f95 180px,#0a3f94 190px,#0a3e93 200px,#0a3e92 210px,#0b3d91 220px,#0b3c90 230px,#0b3b8f 240px,#0b3b8e 250px,#0b3a8d 260px,#0b398c 270px,#0b398b 280px,#0b388a 290px,#0c398b 300px,#0c398b 310px,#0d3a8c 320px,#0d3b8d 330px,#0d3b8d 336px,#0e3b8d 338px,#1f337a 340px,#3c245a 342px,#5b163a 344px,#6d0e28 346px,#6f0e28 348px,#710e27 350px,#780e27 360px,#7b0e27 370px,#7e0e27 380px,#800f28 390px,#830f28 400px,#850f28 410px,#8b0f2a 420px,#90102b 430px,#95102c 440px,#9a102d 450px,#9a102d 460px,#9a102d 470px,#9a102d 480px,#9a102d 490px,#99102c 500px,#99102c 510px,#99102c 520px,#99102c 530px,#98102b 540px,#8f1029 550px,#870f27 560px,#860f28 570px,#860f28 580px,#830f27 590px,#820f27 600px,#800f27 610px,#7e0f26 620px,#7c0f26 630px,#7b0f26 640px,#7a0f26 650px,#790f26 660px,#780f26 670px,#780f26 680px)"></i>
<i style="top:79px;height:3px;background:linear-gradient(90deg,#0a48a4 0px,#0a48a4 10px,#0a48a3 20px,#0a47a2 30px,#0a46a2 40px,#0a46a1 50px,#0a45a0 60px,#0a44a0 70px,#0a449f 80px,#0a439e 90px,#0a439d 100px,#0a429c 110px,#0a429a 120px,#0a4199 130px,#0a4198 140px,#0a4097 150px,#0a4096 160px,#0a3f95 170px,#0a3f94 180px,#0a3e93 190px,#0a3e92 200px,#0b3d91 210px,#0b3d90 220px,#0b3c8f 230px,#0b3b8e 240px,#0b3a8d 250px,#0b3a8c 260px,#0b398b 270px,#0b388a 280px,#0c3789 290px,#0c388a 300px,#0c398b 310px,#0d3a8c 320px,#0d3a8c 330px,#0d3b8d 336px,#0e3b8c 338px,#1f3279 340px,#3c2459 342px,#591639 344px,#6a0e28 346px,#6c0e27 348px,#6e0e27 350px,#740e26 360px,#770e27 370px,#7a0e27 380px,#7d0e27 390px,#800f28 400px,#830f28 410px,#880f29 420px,#8e102b 430px,#93102c 440px,#99102d 450px,#99102d 460px,#99102d 470px,#99102d 480px,#99102d 490px,#98102c 500px,#98102c 510px,#98102c 520px,#98102c 530px,#97102b 540px,#90102a 550px,#880f28 560px,#870f28 570px,#850f28 580px,#820f27 590px,#800f27 600px,#7f0f26 610px,#7d0f26 620px,#7b0f26 630px,#7a0f26 640px,#790f26 650px,#780f26 660px,#770f25 670px,#770f25 680px)"></i>
<i style="top:82px;height:3px;background:linear-gradient(90deg,#0a48a4 0px,#0a48a4 10px,#0a48a3 20px,#0a47a2 30px,#0a46a2 40px,#0a46a1 50px,#0a45a0 60px,#0a44a0 70px,#0a449f 80px,#0a439e 90px,#0a439d 100px,#0a429c 110px,#0a429a 120px,#0a4199 130px,#0a4098 140px,#0a4097 150px,#0a3f96 160px,#0a3e94 170px,#0a3e93 180px,#0a3d91 190px,#0b3d90 200px,#0b3c8f 210px,#0b3b8e 220px,#0b3a8d 230px,#0b3a8c 240px,#0b398b 250px,#0b388a 260px,#0b3889 270px,#0b3788 280px,#0c3687 290px,#0c3788 300px,#0c3889 310px,#0d388a 320px,#0d398a 330px,#0d3a8b 336px,#0f398a 338px,#1f3177 340px,#3b2357 342px,#571538 344px,#670e27 346px,#690e27 348px,#6a0e27 350px,#710e26 360px,#740e26 370px,#770e26 380px,#7a0e27 390px,#7d0e27 400px,#800f27 410px,#860f29 420px,#8c102a 430px,#92102c 440px,#98102d 450px,#98102d 460px,#98102d 470px,#98102d 480px,#98102d 490px,#98102c 500px,#97102c 510px,#97102c 520px,#97102c 530px,#97102b 540px,#90102a 550px,#8a0f28 560px,#870f28 570px,#850f28 580px,#810f27 590px,#7f0f27 600px,#7d0f26 610px,#7b0f26 620px,#790f25 630px,#780f25 640px,#770f25 650px,#760f25 660px,#750f25 670px,#750f25 680px)"></i>
<i style="top:85px;height:3px;background:linear-gradient(90deg,#0a48a4 0px,#0a48a4 10px,#0a48a3 20px,#0a47a2 30px,#0a46a2 40px,#0a46a1 50px,#0a45a0 60px,#0a44a0 70px,#0a449f 80px,#0a439e 90px,#0a439d 100px,#0a429c 110px,#0a419a 120px,#0a4199 130px,#0a4098 140px,#0a3f96 150px,#0a3e95 160px,#0a3e93 170px,#0a3d91 180px,#0b3c90 190px,#0b3b8f 200px,#0b3b8d 210px,#0b3a8c 220px,#0b398b 230px,#0b388a 240px,#0b3889 250px,#0b3788 260px,#0b3687 270px,#0b3686 280px,#0c3586 290px,#0c3686 300px,#0c3787 310px,#0d3788 320px,#0d3889 330px,#0e3889 336px,#0f3888 338px,#1f3075 340px,#3a2256 342px,#551537 344px,#640e27 346px,#660e26 348px,#670e26 350px,#6d0e25 360px,#700e26 370px,#730e26 380px,#760e26 390px,#7a0e27 400px,#7d0f27 410px,#830f29 420px,#8a102a 430px,#90102c 440px,#97102d 450px,#97102d 460px,#97102d 470px,#97102d 480px,#97102d 490px,#97102c 500px,#97102c 510px,#96102c 520px,#96102c 530px,#96102b 540px,#91102a 550px,#8b0f28 560px,#880f28 570px,#840f27 580px,#810f27 590px,#7e0f26 600px,#7c0f26 610px,#7a0f25 620px,#770f25 630px,#760f25 640px,#750f25 650px,#740f25 660px,#730f25 670px,#730f25 680px)"></i>
<i style="top:88px;height:3px;background:linear-gradient(90deg,#0a48a4 0px,#0a48a4 10px,#0a48a3 20px,#0a47a2 30px,#0a46a2 40px,#0a46a1 50px,#0a45a0 60px,#0a44a0 70px,#0a449f 80px,#0a439e 90px,#0a439d 100px,#0a429c 110px,#0a419a 120px,#0a4099 130px,#0a3f97 140px,#0a3f96 150px,#0a3e94 160px,#0a3d92 170px,#0a3c90 180px,#0b3b8e 190px,#0b3a8d 200px,#0b398b 210px,#0b398a 220px,#0b3889 230px,#0b3788 240px,#0b3687 250px,#0b3686 260px,#0b3585 270px,#0c3585 280px,#0c3484 290px,#0c3585 300px,#0c3585 310px,#0d3686 320px,#0d3787 330px,#0e3787 336px,#0f3686 338px,#1f2e73 340px,#392155 342px,#521537 344px,#610e27 346px,#620e26 348px,#640e26 350px,#690e25 360px,#6d0e25 370px,#700e25 380px,#730e26 390px,#770e26 400px,#7a0f27 410px,#810f28 420px,#88102a 430px,#8f102c 440px,#96102d 450px,#96102d 460px,#96102d 470px,#96102d 480px,#96102d 490px,#96102c 500px,#96102c 510px,#96102c 520px,#96102c 530px,#96102b 540px,#91102a 550px,#8c1029 560px,#880f28 570px,#840f27 580px,#800f27 590px,#7d0f26 600px,#7b0f26 610px,#780f25 620px,#760f25 630px,#750f25 640px,#740f25 650px,#730f25 660px,#720f25 670px,#720f25 680px)"></i>
<i style="top:91px;height:3px;background:linear-gradient(90deg,#0a48a4 0px,#0a48a4 10px,#0a48a3 20px,#0a47a2 30px,#0a46a2 40px,#0a46a1 50px,#0a45a0 60px,#0a44a0 70px,#0a449f 80px,#0a439e 90px,#0a439d 100px,#0a429c 110px,#0a419a 120px,#0a4099 130px,#0a3f97 140px,#0a3e95 150px,#0a3d93 160px,#0a3c91 170px,#0b3b8f 180px,#0b3a8c 190px,#0b398b 200px,#0b388a 210px,#0b3788 220px,#0b3787 230px,#0b3685 240px,#0b3585 250px,#0b3584 260px,#0b3483 270px,#0c3483 280px,#0c3382 290px,#0c3483 300px,#0c3483 310px,#0d3584 320px,#0d3585 330px,#0e3686 336px,#0f3584 338px,#1f2d71 340px,#382053 342px,#511436 344px,#600e27 346px,#610e26 348px,#620e26 350px,#680e25 360px,#6b0e25 370px,#6f0e25 380px,#720e26 390px,#750e26 400px,#790f26 410px,#7f0f28 420px,#860f2a 430px,#8d102b 440px,#93102d 450px,#93102d 460px,#94102d 470px,#94102d 480px,#94102c 490px,#94112c 500px,#95112c 510px,#95112c 520px,#95112c 530px,#95112b 540px,#91102a 550px,#8c1029 560px,#880f28 570px,#840f27 580px,#800f27 590px,#7d0f26 600px,#7b0f26 610px,#780f25 620px,#760f25 630px,#750f25 640px,#740f25 650px,#730f25 660px,#720f25 670px,#720f25 680px)"></i>
<i style="top:94px;height:3px;background:linear-gradient(90deg,#0a48a4 0px,#0a48a4 10px,#0a47a3 20px,#0a47a2 30px,#0a46a2 40px,#0a45a1 50px,#0a45a1 60px,#0a44a0 70px,#0a449f 80px,#0a439e 90px,#0a429e 100px,#0a419c 110px,#0a409a 120px,#0a3f98 130px,#0a3e97 140px,#0a3d95 150px,#0a3c92 160px,#0a3b90 170px,#0b3a8d 180px,#0b388b 190px,#0b3889 200px,#0b3788 210px,#0b3686 220px,#0b3585 230px,#0b3483 240px,#0b3483 250px,#0b3382 260px,#0b3381 270px,#0c3281 280px,#0c3280 290px,#0c3281 300px,#0c3382 310px,#0d3482 320px,#0e3483 330px,#0e3484 336px,#103482 338px,#202c6f 340px,#382052 342px,#501436 344px,#5f0e27 346px,#600e26 348px,#610e26 350px,#670e25 360px,#6a0e25 370px,#6e0e25 380px,#710e26 390px,#740e26 400px,#770f26 410px,#7e0f28 420px,#840f29 430px,#8a102b 440px,#91102d 450px,#91102c 460px,#91102c 470px,#92102c 480px,#92102c 490px,#93112c 500px,#94112c 510px,#94112c 520px,#94112c 530px,#94112b 540px,#90102a 550px,#8c1029 560px,#880f28 570px,#840f28 580px,#800f27 590px,#7e0f26 600px,#7b0f26 610px,#790f25 620px,#760f25 630px,#750f25 640px,#740f25 650px,#730f25 660px,#720f25 670px,#720f25 680px)"></i>
<i style="top:97px;height:3px;background:linear-gradient(90deg,#0a48a4 0px,#0a48a4 10px,#0a47a3 20px,#0a47a2 30px,#0a46a2 40px,#0a45a1 50px,#0a45a1 60px,#0a44a0 70px,#0a449f 80px,#0a439f 90px,#0a429e 100px,#0a419c 110px,#0a409a 120px,#0a3f98 130px,#0a3e96 140px,#0a3d94 150px,#0a3b91 160px,#0b3a8f 170px,#0b398c 180px,#0b3789 190px,#0b3687 200px,#0b3686 210px,#0b3584 220px,#0b3483 230px,#0b3381 240px,#0b3380 250px,#0b3280 260px,#0c3280 270px,#0c317f 280px,#0c317f 290px,#0c317f 300px,#0c3280 310px,#0d3281 320px,#0e3381 330px,#0e3382 336px,#103280 338px,#202a6d 340px,#381f51 342px,#4f1436 344px,#5d0e27 346px,#5f0e26 348px,#600e26 350px,#660e25 360px,#690e25 370px,#6d0e25 380px,#700e26 390px,#730e26 400px,#760f26 410px,#7c0f28 420px,#820f29 430px,#88102b 440px,#8e102c 450px,#8e102c 460px,#8f102c 470px,#90102c 480px,#91102c 490px,#92112c 500px,#92112c 510px,#93112c 520px,#93112c 530px,#93112b 540px,#90102a 550px,#8c1029 560px,#880f28 570px,#840f28 580px,#800f27 590px,#7e0f27 600px,#7b0f26 610px,#790f25 620px,#760f25 630px,#750f25 640px,#740f25 650px,#730f25 660px,#720f25 670px,#720f25 680px)"></i>
<i style="top:100px;height:3px;background:linear-gradient(90deg,#0a48a4 0px,#0a48a4 10px,#0a47a3 20px,#0a47a2 30px,#0a46a2 40px,#0a45a1 50px,#0a45a1 60px,#0a44a0 70px,#0a439f 80px,#0a439f 90px,#0a429e 100px,#0a419c 110px,#0a409a 120px,#0a3f98 130px,#0a3d96 140px,#0a3c94 150px,#0a3b91 160px,#0b398d 170px,#0b378a 180px,#0b3687 190px,#0b3585 200px,#0b3484 210px,#0b3482 220px,#0b3380 230px,#0b327f 240px,#0b317e 250px,#0b317e 260px,#0c317e 270px,#0c307d 280px,#0c307d 290px,#0c307d 300px,#0c317e 310px,#0d317f 320px,#0e3180 330px,#0e3280 336px,#11317d 338px,#20296b 340px,#381e50 342px,#4f1436 344px,#5c0e27 346px,#5e0e26 348px,#600e26 350px,#650e25 360px,#680e25 370px,#6c0e25 380px,#6f0e25 390px,#720e26 400px,#750f26 410px,#7b0f27 420px,#800f29 430px,#86102a 440px,#8b102c 450px,#8c102b 460px,#8c102b 470px,#8e102c 480px,#8f102c 490px,#90112c 500px,#91112c 510px,#93112c 520px,#93112c 530px,#92112b 540px,#8f102a 550px,#8c1029 560px,#881029 570px,#850f28 580px,#810f27 590px,#7e0f27 600px,#7c0f26 610px,#790f26 620px,#770f25 630px,#750f25 640px,#740f25 650px,#730f25 660px,#720f25 670px,#720f25 680px)"></i>
<i style="top:103px;height:3px;background:linear-gradient(90deg,#0a48a4 0px,#0a48a4 10px,#0a47a3 20px,#0a47a2 30px,#0a46a2 40px,#0a45a1 50px,#0a45a1 60px,#0a44a0 70px,#0a43a0 80px,#0a439f 90px,#0a429e 100px,#0a419c 110px,#0a409a 120px,#0a3e98 130px,#0a3d95 140px,#0a3c93 150px,#0a3a90 160px,#0b388c 170px,#0b3689 180px,#0b3585 190px,#0b3484 200px,#0b3382 210px,#0b3280 220px,#0b317e 230px,#0b307d 240px,#0b307c 250px,#0b307c 260px,#0c2f7c 270px,#0c2f7b 280px,#0c2f7b 290px,#0c2f7c 300px,#0c2f7c 310px,#0d307d 320px,#0e307e 330px,#0e307e 336px,#112f7b 338px,#212869 340px,#371d4f 342px,#4e1336 344px,#5b0e28 346px,#5d0e27 348px,#5f0e26 350px,#640e25 360px,#680e25 370px,#6b0e25 380px,#6e0e25 390px,#710e26 400px,#740f26 410px,#790f27 420px,#7e0f28 430px,#83102a 440px,#89102b 450px,#89102b 460px,#8a102b 470px,#8b102b 480px,#8d102b 490px,#8f112b 500px,#90112c 510px,#92112c 520px,#92112c 530px,#92112b 540px,#8f102a 550px,#8b1029 560px,#891029 570px,#850f28 580px,#810f27 590px,#7f0f27 600px,#7c0f26 610px,#7a0f26 620px,#770f25 630px,#760f25 640px,#740f25 650px,#730f25 660px,#720f25 670px,#720f25 680px)"></i>
<i style="top:106px;height:3px;background:linear-gradient(90deg,#0a48a4 0px,#0a48a4 10px,#0a47a3 20px,#0a47a2 30px,#0a46a2 40px,#0a45a1 50px,#0a45a1 60px,#0a44a0 70px,#0a43a0 80px,#0a439f 90px,#0a429e 100px,#0a419c 110px,#0a3f9a 120px,#0a3e97 130px,#0a3c95 140px,#0a3b93 150px,#0b398f 160px,#0b378b 170px,#0b3587 180px,#0b3484 190px,#0b3382 200px,#0b3280 210px,#0b317e 220px,#0b307c 230px,#0b2f7a 240px,#0b2f7a 250px,#0c2f7a 260px,#0c2e7a 270px,#0c2e79 280px,#0c2e79 290px,#0c2e7a 300px,#0c2e7a 310px,#0d2f7b 320px,#0e2f7c 330px,#0e2f7c 336px,#112e79 338px,#212768 340px,#371d4e 342px,#4d1336 344px,#5a0e28 346px,#5c0e27 348px,#5e0e26 350px,#630e25 360px,#670e25 370px,#6a0e25 380px,#6d0e25 390px,#700e25 400px,#730f26 410px,#780f27 420px,#7c0f28 430px,#811029 440px,#86102b 450px,#87102b 460px,#88102b 470px,#89102b 480px,#8b102b 490px,#8d112b 500px,#8f112c 510px,#91112c 520px,#91112c 530px,#91112b 540px,#8e102a 550px,#8b102a 560px,#891029 570px,#851028 580px,#820f28 590px,#7f0f27 600px,#7c0f27 610px,#7a0f26 620px,#770f25 630px,#760f25 640px,#740f25 650px,#730f25 660px,#720f25 670px,#720f25 680px)"></i>
<i style="top:109px;height:3px;background:linear-gradient(90deg,#0a48a4 0px,#0a48a4 10px,#0a47a3 20px,#0a46a2 30px,#0a46a2 40px,#0a45a1 50px,#0a44a1 60px,#0a44a0 70px,#0a43a0 80px,#0a439f 90px,#0a429f 100px,#0a409c 110px,#0a3f9a 120px,#0a3d97 130px,#0a3c95 140px,#0a3a92 150px,#0b388e 160px,#0b368a 170px,#0b3486 180px,#0b3282 190px,#0b3180 200px,#0b317e 210px,#0b307c 220px,#0b2f7a 230px,#0b2e78 240px,#0b2e78 250px,#0c2d78 260px,#0c2d78 270px,#0c2d78 280px,#0c2d77 290px,#0c2d78 300px,#0c2d78 310px,#0d2d79 320px,#0e2e7a 330px,#0e2e7b 336px,#122c77 338px,#212666 340px,#371c4d 342px,#4c1336 344px,#590e28 346px,#5b0e27 348px,#5d0e27 350px,#630e25 360px,#660e25 370px,#690e25 380px,#6c0e25 390px,#6f0e25 400px,#720f26 410px,#760f27 420px,#7a0f28 430px,#7f1029 440px,#83102a 450px,#84102a 460px,#85102a 470px,#87102b 480px,#8a102b 490px,#8c112b 500px,#8e112b 510px,#90112c 520px,#90112c 530px,#90112b 540px,#8e102b 550px,#8b102a 560px,#891029 570px,#851029 580px,#820f28 590px,#7f0f27 600px,#7d0f27 610px,#7a0f26 620px,#780f26 630px,#760f25 640px,#750f25 650px,#730f25 660px,#720f25 670px,#720f25 680px)"></i>
<i style="top:112px;height:3px;background:linear-gradient(90deg,#0a48a4 0px,#0a48a4 10px,#0a47a3 20px,#0a46a2 30px,#0a46a2 40px,#0a45a1 50px,#0a44a1 60px,#0a44a0 70px,#0a43a0 80px,#0a439f 90px,#0a429f 100px,#0a409c 110px,#0a3f99 120px,#0a3d97 130px,#0a3b94 140px,#0a3a92 150px,#0b388d 160px,#0b3589 170px,#0b3384 180px,#0b3180 190px,#0b307e 200px,#0b2f7c 210px,#0b2e7a 220px,#0b2d78 230px,#0b2d76 240px,#0b2c76 250px,#0c2c76 260px,#0c2c76 270px,#0c2c76 280px,#0c2c76 290px,#0c2c76 300px,#0c2c77 310px,#0d2c77 320px,#0e2c78 330px,#0f2c79 336px,#122b75 338px,#222464 340px,#361b4c 342px,#4b1336 344px,#580e28 346px,#5a0e27 348px,#5c0e27 350px,#620e26 360px,#650e25 370px,#680e25 380px,#6b0e25 390px,#6e0e25 400px,#710f26 410px,#750f27 420px,#790f28 430px,#7d0f28 440px,#811029 450px,#82102a 460px,#83102a 470px,#85102a 480px,#88102b 490px,#8a112b 500px,#8d112b 510px,#90112c 520px,#8f112b 530px,#8f112b 540px,#8d112b 550px,#8b102a 560px,#891029 570px,#861029 580px,#820f28 590px,#800f27 600px,#7d0f27 610px,#7a0f26 620px,#780f26 630px,#760f25 640px,#750f25 650px,#730f25 660px,#720f25 670px,#720f25 680px)"></i>
<i style="top:115px;height:3px;background:linear-gradient(90deg,#0a48a4 0px,#0a48a4 10px,#0a47a3 20px,#0a46a3 30px,#0a46a2 40px,#0a45a2 50px,#0a44a1 60px,#0a44a1 70px,#0a43a0 80px,#0a429f 90px,#0a429f 100px,#0a409c 110px,#0a3e99 120px,#0a3d97 130px,#0a3b94 140px,#0a3991 150px,#0b378c 160px,#0b3588 170px,#0b3283 180px,#0b307e 190px,#0b2f7c 200px,#0b2e7a 210px,#0b2d78 220px,#0b2c76 230px,#0b2b74 240px,#0c2b74 250px,#0c2b74 260px,#0c2b74 270px,#0c2b74 280px,#0c2b74 290px,#0c2b74 300px,#0c2b75 310px,#0d2b76 320px,#0e2b77 330px,#0f2b77 336px,#132a73 338px,#222362 340px,#361b4b 342px,#4a1336 344px,#570e29 346px,#5a0e27 348px,#5b0e27 350px,#610e26 360px,#640e26 370px,#670e25 380px,#6a0e25 390px,#6d0e25 400px,#6f0f25 410px,#730f26 420px,#770f27 430px,#7a0f28 440px,#7e1029 450px,#7f1029 460px,#801029 470px,#83102a 480px,#86102a 490px,#89112b 500px,#8c112b 510px,#8f112c 520px,#8f112b 530px,#8e112b 540px,#8d112b 550px,#8b102a 560px,#89102a 570px,#861029 580px,#831028 590px,#800f28 600px,#7d0f27 610px,#7b0f26 620px,#780f26 630px,#760f25 640px,#750f25 650px,#730f25 660px,#720f25 670px,#720f25 680px)"></i>
<i style="top:118px;height:3px;background:linear-gradient(90deg,#0a48a4 0px,#0a48a4 10px,#0a47a3 20px,#0a46a3 30px,#0a46a2 40px,#0a45a2 50px,#0a44a1 60px,#0a44a1 70px,#0a43a0 80px,#0a42a0 90px,#0a429f 100px,#0a409c 110px,#0a3e99 120px,#0a3c96 130px,#0a3a93 140px,#0a3990 150px,#0b368c 160px,#0b3487 170px,#0b3182 180px,#0b2f7d 190px,#0b2e7a 200px,#0b2d78 210px,#0b2c76 220px,#0b2b74 230px,#0b2a72 240px,#0c2a72 250px,#0c2a72 260px,#0c2a72 270px,#0c2a72 280px,#0c2972 290px,#0c2a73 300px,#0c2a73 310px,#0d2a74 320px,#0e2a75 330px,#0f2a75 336px,#132871 338px,#222260 340px,#361a4b 342px,#491236 344px,#560e29 346px,#590e27 348px,#5a0e27 350px,#600e26 360px,#630e26 370px,#660e25 380px,#690e25 390px,#6c0e25 400px,#6e0f25 410px,#720f26 420px,#750f27 430px,#780f28 440px,#7b1028 450px,#7d1029 460px,#7e1029 470px,#811029 480px,#84102a 490px,#88112b 500px,#8b112b 510px,#8e112c 520px,#8e112b 530px,#8e112b 540px,#8c112b 550px,#8b102a 560px,#89102a 570px,#861029 580px,#831028 590px,#801028 600px,#7e0f27 610px,#7b0f27 620px,#780f26 630px,#770f26 640px,#750f25 650px,#730f25 660px,#720f25 670px,#720f25 680px)"></i>
<i style="top:121px;height:3px;background:linear-gradient(90deg,#0a48a4 0px,#0a48a4 10px,#0a47a3 20px,#0a46a3 30px,#0a46a2 40px,#0a45a2 50px,#0a44a1 60px,#0a44a1 70px,#0a43a0 80px,#0a42a0 90px,#0a429f 100px,#0a409c 110px,#0a3e99 120px,#0a3c96 130px,#0a3a93 140px,#0a3890 150px,#0b358b 160px,#0b3385 170px,#0b3080 180px,#0b2e7b 190px,#0b2d79 200px,#0b2c76 210px,#0b2b74 220px,#0b2a72 230px,#0b296f 240px,#0c2970 250px,#0c2970 260px,#0c2870 270px,#0c2870 280px,#0c2870 290px,#0c2871 300px,#0c2871 310px,#0d2972 320px,#0e2973 330px,#0f2973 336px,#14276f 338px,#22215f 340px,#35194a 342px,#481236 344px,#550e29 346px,#580e28 348px,#590e27 350px,#5f0e26 360px,#620e26 370px,#650e25 380px,#680e25 390px,#6b0e25 400px,#6d0f25 410px,#700f26 420px,#730f27 430px,#760f27 440px,#780f28 450px,#7a1028 460px,#7c1029 470px,#7f1029 480px,#83102a 490px,#86112a 500px,#8a112b 510px,#8d112c 520px,#8d112b 530px,#8d112b 540px,#8c112b 550px,#8a102a 560px,#89102a 570px,#861029 580px,#831029 590px,#811028 600px,#7e1027 610px,#7b0f27 620px,#790f26 630px,#770f26 640px,#750f25 650px,#730f25 660px,#720f25 670px,#720f25 680px)"></i>
<i style="top:124px;height:3px;background:linear-gradient(90deg,#0a47a4 0px,#0a47a4 10px,#0a47a3 20px,#0a46a3 30px,#0a45a2 40px,#0a45a2 50px,#0a44a1 60px,#0a43a1 70px,#0a43a0 80px,#0a42a0 90px,#0a41a0 100px,#0a3f9c 110px,#0a3d99 120px,#0a3b96 130px,#0a3993 140px,#0b378f 150px,#0b358a 160px,#0b3284 170px,#0b2f7f 180px,#0c2c79 190px,#0b2b77 200px,#0b2a75 210px,#0b2972 220px,#0b2870 230px,#0b276d 240px,#0c276e 250px,#0c276e 260px,#0c276e 270px,#0c276f 280px,#0c276f 290px,#0c276f 300px,#0c276f 310px,#0d2770 320px,#0e2771 330px,#0f2772 336px,#14266d 338px,#22205d 340px,#351949 342px,#471235 344px,#540e29 346px,#570e28 348px,#580e27 350px,#5e0e26 360px,#610e26 370px,#640e25 380px,#670e25 390px,#6a0e25 400px,#6c0f25 410px,#6e0f26 420px,#710f26 430px,#730f27 440px,#760f27 450px,#770f28 460px,#791028 470px,#7d1029 480px,#811029 490px,#85112a 500px,#89112b 510px,#8d112c 520px,#8c112b 530px,#8c112b 540px,#8b112b 550px,#8a112a 560px,#89102a 570px,#86102a 580px,#841029 590px,#811028 600px,#7e1028 610px,#7c1027 620px,#790f26 630px,#770f26 640px,#750f25 650px,#730f25 660px,#720f25 670px,#720f25 680px)"></i>
<i style="top:127px;height:3px;background:linear-gradient(90deg,#0a47a4 0px,#0a47a4 10px,#0a47a3 20px,#0a46a3 30px,#0a45a2 40px,#0a45a2 50px,#0a44a1 60px,#0a43a1 70px,#0a43a0 80px,#0a42a0 90px,#0a41a0 100px,#0a3f9c 110px,#0a3d99 120px,#0a3b96 130px,#0a3993 140px,#0b378f 150px,#0b358a 160px,#0b3284 170px,#0b2f7f 180px,#0c2c79 190px,#0b2b77 200px,#0b2a74 210px,#0b2972 220px,#0b286f 230px,#0b276d 240px,#0c276d 250px,#0c276d 260px,#0c276e 270px,#0c276e 280px,#0c276e 290px,#0c276e 300px,#0c276f 310px,#0d276f 320px,#0e2770 330px,#0f2770 336px,#14256b 338px,#221f5c 340px,#341848 342px,#471235 344px,#530e2a 346px,#560e28 348px,#580e28 350px,#5d0e26 360px,#600e26 370px,#630e25 380px,#660e25 390px,#690e25 400px,#6b0f25 410px,#6d0f25 420px,#6f0f26 430px,#710f26 440px,#730f27 450px,#750f27 460px,#771028 470px,#7b1028 480px,#7f1029 490px,#83112a 500px,#88112b 510px,#8c112c 520px,#8b112b 530px,#8b112b 540px,#8b112b 550px,#8a112b 560px,#89102a 570px,#87102a 580px,#841029 590px,#811028 600px,#7f1028 610px,#7c1027 620px,#790f26 630px,#770f26 640px,#750f25 650px,#730f25 660px,#720f25 670px,#720f25 680px)"></i>
<i style="top:130px;height:3px;background:linear-gradient(90deg,#0a47a4 0px,#0a47a4 10px,#0a47a3 20px,#0a46a3 30px,#0a45a2 40px,#0a45a2 50px,#0a44a1 60px,#0a43a1 70px,#0a43a0 80px,#0a42a0 90px,#0a41a0 100px,#0a3f9c 110px,#0a3d99 120px,#0a3b96 130px,#0a3992 140px,#0b378f 150px,#0b3489 160px,#0b3284 170px,#0b2f7e 180px,#0c2c79 190px,#0b2b76 200px,#0b2a74 210px,#0b2971 220px,#0b286f 230px,#0b276d 240px,#0b276d 250px,#0c276d 260px,#0c276d 270px,#0c276d 280px,#0c276d 290px,#0c276e 300px,#0c276e 310px,#0d276f 320px,#0e266f 330px,#0e266f 335px,#10266d 337px,#1a2262 339px,#221f5a 340px,#2b1b51 341px,#3d153e 343px,#4d0f2e 345px,#540d28 347px,#560d27 350px,#5c0e26 360px,#5f0e26 370px,#620e25 380px,#650e25 390px,#680e24 400px,#6a0f25 410px,#6c0f25 420px,#6e0f26 430px,#6f0f26 440px,#710f27 450px,#730f27 460px,#750f27 470px,#791028 480px,#7e1029 490px,#82112a 500px,#86112b 510px,#8b112b 520px,#8b112b 530px,#8b112b 540px,#8a112b 550px,#8a112b 560px,#8a112b 570px,#87102a 580px,#841029 590px,#821029 600px,#7f1028 610px,#7c1027 620px,#7a1027 630px,#780f26 640px,#760f26 650px,#730f25 660px,#710f25 670px,#710f25 680px)"></i>
<i style="top:133px;height:3px;background:linear-gradient(90deg,#0a47a4 0px,#0a47a4 10px,#0a47a3 20px,#0a46a3 30px,#0a45a2 40px,#0a45a2 50px,#0a44a1 60px,#0a43a1 70px,#0a43a1 80px,#0a42a0 90px,#0a41a0 100px,#0a3f9c 110px,#0a3d99 120px,#0a3b96 130px,#0a3992 140px,#0b378f 150px,#0b3489 160px,#0b3183 170px,#0b2f7e 180px,#0c2c78 190px,#0b2b76 200px,#0b2a73 210px,#0b2971 220px,#0b286e 230px,#0b276c 240px,#0b276c 250px,#0b276c 260px,#0c266c 270px,#0c266d 280px,#0c266d 290px,#0c266d 300px,#0c266d 310px,#0d266e 320px,#0e266e 330px,#0e266d 335px,#10256c 337px,#1b2160 339px,#221e58 340px,#2b1b4f 341px,#3c143c 343px,#4c0f2e 345px,#520d28 347px,#550d27 350px,#5b0d26 360px,#5e0e25 370px,#610e25 380px,#640e25 390px,#670e24 400px,#690e25 410px,#6b0f25 420px,#6d0f25 430px,#6e0f26 440px,#700f26 450px,#720f27 460px,#740f27 470px,#781028 480px,#7d1029 490px,#811129 500px,#85112a 510px,#8a112b 520px,#8a112b 530px,#8a112b 540px,#8a112b 550px,#8a112b 560px,#8a112b 570px,#87102a 580px,#841029 590px,#821029 600px,#7f1028 610px,#7c1027 620px,#7a1027 630px,#780f26 640px,#760f26 650px,#730f25 660px,#710f25 670px,#710f25 680px)"></i>
<i style="top:136px;height:3px;background:linear-gradient(90deg,#0a47a4 0px,#0a47a4 10px,#0a47a3 20px,#0a46a3 30px,#0a45a2 40px,#0a45a2 50px,#0a44a1 60px,#0a43a1 70px,#0a43a1 80px,#0a42a0 90px,#0a41a0 100px,#0a3f9c 110px,#0a3d99 120px,#0a3b96 130px,#0a3992 140px,#0b378f 150px,#0b3489 160px,#0b3183 170px,#0b2e7d 180px,#0c2c78 190px,#0b2b75 200px,#0b2a73 210px,#0b2970 220px,#0b276e 230px,#0b266c 240px,#0b266c 250px,#0b266c 260px,#0b266c 270px,#0c266c 280px,#0c266c 290px,#0c266c 300px,#0c266c 310px,#0d266d 320px,#0e256c 330px,#0e256c 335px,#10246a 337px,#1b205f 339px,#221d56 340px,#2a1a4d 341px,#3c143b 343px,#4a0f2d 345px,#510d27 347px,#540d27 350px,#5a0d26 360px,#5d0d25 370px,#600e25 380px,#630e24 390px,#660e24 400px,#680e24 410px,#6a0e25 420px,#6c0f25 430px,#6d0f26 440px,#6f0f26 450px,#710f26 460px,#730f27 470px,#771028 480px,#7c1028 490px,#801029 500px,#84112a 510px,#89112b 520px,#8a112b 530px,#8a112b 540px,#8a112b 550px,#8a112b 560px,#8a112b 570px,#87102a 580px,#841029 590px,#821029 600px,#7f1028 610px,#7d1027 620px,#7a1027 630px,#780f26 640px,#760f26 650px,#730f25 660px,#710f25 670px,#710f25 680px)"></i>
<i style="top:139px;height:3px;background:linear-gradient(90deg,#0a47a4 0px,#0a47a4 10px,#0a47a3 20px,#0a46a3 30px,#0a45a2 40px,#0a45a2 50px,#0a44a1 60px,#0a43a1 70px,#0a43a1 80px,#0a42a0 90px,#0a41a0 100px,#0a3f9c 110px,#0a3d99 120px,#0a3b95 130px,#0a3992 140px,#0b378f 150px,#0b3489 160px,#0b3183 170px,#0b2e7d 180px,#0c2c77 190px,#0b2a75 200px,#0b2972 210px,#0b2870 220px,#0b276e 230px,#0b266b 240px,#0b266b 250px,#0b266b 260px,#0b266b 270px,#0b266b 280px,#0c266b 290px,#0c266b 300px,#0c256b 310px,#0d256c 320px,#0d256b 330px,#0e256b 335px,#102468 337px,#1b1f5d 339px,#221d55 340px,#2a194c 341px,#3b133a 343px,#490f2d 345px,#500d27 347px,#530d26 350px,#590d25 360px,#5c0d25 370px,#5f0e24 380px,#620e24 390px,#640e24 400px,#670e24 410px,#690e24 420px,#6a0e25 430px,#6c0f25 440px,#6e0f26 450px,#700f26 460px,#720f27 470px,#761027 480px,#7a1028 490px,#7e1029 500px,#82112a 510px,#88112b 520px,#8a112b 530px,#8a112b 540px,#8a112b 550px,#8a112b 560px,#8a112b 570px,#87112a 580px,#841029 590px,#821029 600px,#7f1028 610px,#7d1027 620px,#7a1027 630px,#780f26 640px,#760f26 650px,#730f25 660px,#710f25 670px,#710f25 680px)"></i>
<i style="top:142px;height:3px;background:linear-gradient(90deg,#0a47a4 0px,#0a47a4 10px,#0a47a3 20px,#0a46a3 30px,#0a45a2 40px,#0a45a2 50px,#0a44a1 60px,#0a43a1 70px,#0a43a1 80px,#0a42a0 90px,#0a41a0 100px,#0a3f9c 110px,#0a3d99 120px,#0a3b95 130px,#0b3992 140px,#0b368e 150px,#0b3488 160px,#0b3183 170px,#0b2e7d 180px,#0c2b77 190px,#0b2a74 200px,#0b2972 210px,#0b286f 220px,#0b276d 230px,#0b266b 240px,#0b266b 250px,#0b266b 260px,#0b256b 270px,#0b256b 280px,#0b256b 290px,#0c256b 300px,#0c256b 310px,#0c256b 320px,#0d246a 330px,#0e2469 335px,#102366 337px,#1b1f5b 339px,#221c53 340px,#2a194a 341px,#3a1339 343px,#480e2c 345px,#4f0d27 347px,#510d26 350px,#580d25 360px,#5b0d25 370px,#5d0d24 380px,#600e24 390px,#630e23 400px,#650e24 410px,#670e24 420px,#690e25 430px,#6b0e25 440px,#6d0f25 450px,#6f0f26 460px,#710f26 470px,#750f27 480px,#791028 490px,#7d1029 500px,#811029 510px,#87112a 520px,#89112b 530px,#89112b 540px,#89112b 550px,#89112b 560px,#8a112b 570px,#87112a 580px,#841029 590px,#821029 600px,#7f1028 610px,#7d1027 620px,#7a1027 630px,#780f26 640px,#760f26 650px,#730f25 660px,#710f25 670px,#710f25 680px)"></i>
<i style="top:145px;height:3px;background:linear-gradient(90deg,#0a47a4 0px,#0a47a4 10px,#0a47a3 20px,#0a46a3 30px,#0a45a2 40px,#0a45a2 50px,#0a44a1 60px,#0a43a1 70px,#0a43a1 80px,#0a42a0 90px,#0a41a0 100px,#0a3f9c 110px,#0a3d99 120px,#0a3b95 130px,#0b3892 140px,#0b368e 150px,#0b3388 160px,#0b3182 170px,#0b2e7c 180px,#0c2b76 190px,#0b2a74 200px,#0b2971 210px,#0b286f 220px,#0b276d 230px,#0b266a 240px,#0b256a 250px,#0b256a 260px,#0b256a 270px,#0b256a 280px,#0b256a 290px,#0b256a 300px,#0c256a 310px,#0c256a 320px,#0d2469 330px,#0e2368 335px,#112264 337px,#1b1e59 339px,#221b51 340px,#2a1849 341px,#391338 343px,#470e2c 345px,#4d0d26 347px,#500d26 350px,#560d25 360px,#590d24 370px,#5c0d24 380px,#5f0d24 390px,#620e23 400px,#640e23 410px,#660e24 420px,#680e24 430px,#6a0e25 440px,#6c0f25 450px,#6f0f26 460px,#710f26 470px,#740f27 480px,#781028 490px,#7c1028 500px,#801029 510px,#86112a 520px,#89112b 530px,#89112b 540px,#89112b 550px,#89112b 560px,#8a112b 570px,#87112a 580px,#851029 590px,#821029 600px,#801028 610px,#7d1027 620px,#7a1027 630px,#780f26 640px,#760f26 650px,#730f25 660px,#710f25 670px,#710f25 680px)"></i>
<i style="top:148px;height:3px;background:linear-gradient(90deg,#0a47a4 0px,#0a47a4 10px,#0a46a3 20px,#0a46a3 30px,#0a45a2 40px,#0a44a2 50px,#0a44a1 60px,#0a43a1 70px,#0a42a1 80px,#0a42a0 90px,#0a41a0 100px,#0a3f9c 110px,#0a3d99 120px,#0a3a95 130px,#0b3892 140px,#0b368e 150px,#0b3388 160px,#0b3082 170px,#0b2e7c 180px,#0c2b76 190px,#0b2a73 200px,#0b2971 210px,#0b286f 220px,#0b266c 230px,#0b256a 240px,#0b256a 250px,#0b256a 260px,#0b2569 270px,#0b2569 280px,#0b2569 290px,#0b2469 300px,#0b2469 310px,#0c2469 320px,#0d2367 330px,#0d2366 335px,#112163 337px,#1b1d57 339px,#221a4f 340px,#291847 341px,#391237 343px,#460e2b 345px,#4c0c26 347px,#4f0c26 350px,#550d24 360px,#580d24 370px,#5b0d24 380px,#5e0d23 390px,#610d23 400px,#630e23 410px,#650e24 420px,#670e24 430px,#690e25 440px,#6c0e25 450px,#6e0f25 460px,#700f26 470px,#730f27 480px,#771027 490px,#7b1028 500px,#7e1029 510px,#85112a 520px,#88112b 530px,#89112b 540px,#89112b 550px,#89112b 560px,#8a112b 570px,#87112a 580px,#851029 590px,#821029 600px,#801028 610px,#7d1027 620px,#7a1027 630px,#780f26 640px,#760f26 650px,#730f25 660px,#710f25 670px,#710f25 680px)"></i>
<i style="top:151px;height:3px;background:linear-gradient(90deg,#0a47a4 0px,#0a47a4 10px,#0a46a3 20px,#0a46a3 30px,#0a45a2 40px,#0a44a2 50px,#0a44a2 60px,#0a43a1 70px,#0a42a1 80px,#0a42a0 90px,#0a41a0 100px,#0a3f9c 110px,#0a3d99 120px,#0a3a95 130px,#0b3891 140px,#0b368e 150px,#0b3388 160px,#0b3082 170px,#0b2e7b 180px,#0c2b75 190px,#0b2a73 200px,#0b2870 210px,#0b276e 220px,#0b266c 230px,#0b2569 240px,#0b2569 250px,#0b2569 260px,#0b2469 270px,#0b2469 280px,#0b2469 290px,#0b2468 300px,#0b2468 310px,#0c2468 320px,#0d2366 330px,#0d2265 335px,#112161 337px,#1b1c55 339px,#221a4e 340px,#291746 341px,#381237 343px,#450e2b 345px,#4b0c26 347px,#4e0c25 350px,#540c24 360px,#570d24 370px,#5a0d23 380px,#5d0d23 390px,#600d23 400px,#620d23 410px,#640e23 420px,#660e24 430px,#680e24 440px,#6b0e25 450px,#6d0f25 460px,#6f0f26 470px,#720f26 480px,#760f27 490px,#7a1028 500px,#7d1028 510px,#84112a 520px,#88112b 530px,#88112b 540px,#89112b 550px,#89112b 560px,#8a112b 570px,#87112a 580px,#851129 590px,#821029 600px,#801028 610px,#7d1027 620px,#7b1027 630px,#780f26 640px,#760f26 650px,#730f25 660px,#710f25 670px,#710f25 680px)"></i>
<i style="top:154px;height:3px;background:linear-gradient(90deg,#0a47a4 0px,#0a47a4 10px,#0a46a3 20px,#0a46a3 30px,#0a45a2 40px,#0a44a2 50px,#0a44a2 60px,#0a43a1 70px,#0a42a1 80px,#0a42a0 90px,#0a41a0 100px,#0a3f9c 110px,#0a3c99 120px,#0a3a95 130px,#0b3891 140px,#0b368e 150px,#0b3387 160px,#0b3081 170px,#0b2d7b 180px,#0c2b75 190px,#0b2972 200px,#0b2870 210px,#0b276e 220px,#0b266b 230px,#0b2569 240px,#0b2569 250px,#0b2468 260px,#0b2468 270px,#0b2468 280px,#0b2468 290px,#0b2468 300px,#0b2367 310px,#0c2368 320px,#0d2265 330px,#0d2264 335px,#11205f 337px,#1b1c53 339px,#22194c 340px,#281644 341px,#371136 343px,#430d2a 345px,#490c25 347px,#4c0c25 350px,#530c24 360px,#560d23 370px,#590d23 380px,#5c0d23 390px,#5f0d22 400px,#610d23 410px,#630e23 420px,#650e24 430px,#670e24 440px,#6a0e24 450px,#6c0e25 460px,#6e0f25 470px,#710f26 480px,#750f27 490px,#781027 500px,#7c1028 510px,#83112a 520px,#87112b 530px,#88112b 540px,#88112b 550px,#89112b 560px,#8a112b 570px,#87112a 580px,#851129 590px,#821029 600px,#801028 610px,#7e1027 620px,#7b1027 630px,#780f26 640px,#760f26 650px,#730f25 660px,#710f25 670px,#710f25 680px)"></i>
<i style="top:157px;height:3px;background:linear-gradient(90deg,#0a47a4 0px,#0a47a4 10px,#0a46a3 20px,#0a46a3 30px,#0a45a2 40px,#0a44a2 50px,#0a44a2 60px,#0a43a1 70px,#0a42a1 80px,#0a42a0 90px,#0a41a0 100px,#0a3f9c 110px,#0a3c99 120px,#0a3a95 130px,#0b3891 140px,#0b358d 150px,#0b3387 160px,#0b3081 170px,#0b2d7b 180px,#0c2a74 190px,#0b2972 200px,#0b2870 210px,#0b276d 220px,#0b266b 230px,#0a2468 240px,#0b2468 250px,#0b2468 260px,#0b2468 270px,#0b2467 280px,#0b2367 290px,#0b2367 300px,#0b2367 310px,#0b2367 320px,#0c2264 330px,#0d2162 335px,#111f5d 337px,#1b1b52 339px,#21194b 340px,#281643 341px,#361135 343px,#420d2a 345px,#480c25 347px,#4b0c25 350px,#520c23 360px,#550c23 370px,#580d23 380px,#5b0d23 390px,#5e0d22 400px,#600d22 410px,#620d23 420px,#640e23 430px,#660e24 440px,#690e24 450px,#6b0e25 460px,#6d0f25 470px,#700f26 480px,#740f26 490px,#770f27 500px,#7a1028 510px,#821129 520px,#87112b 530px,#88112b 540px,#88112b 550px,#89112b 560px,#8a112b 570px,#87112a 580px,#85112a 590px,#821029 600px,#801028 610px,#7e1027 620px,#7b1027 630px,#780f26 640px,#760f26 650px,#730f25 660px,#710f25 670px,#710f25 680px)"></i>
<i style="top:160px;height:3px;background:linear-gradient(90deg,#0a47a4 0px,#0a47a4 10px,#0a46a3 20px,#0a46a3 30px,#0a45a2 40px,#0a44a2 50px,#0a44a2 60px,#0a43a1 70px,#0a42a1 80px,#0a42a0 90px,#0a41a0 100px,#0a3f9c 110px,#0a3c99 120px,#0a3a95 130px,#0b3891 140px,#0b358d 150px,#0b3387 160px,#0b3081 170px,#0b2d7a 180px,#0c2a74 190px,#0b2971 200px,#0b286f 210px,#0b276d 220px,#0b256a 230px,#0a2468 240px,#0a2468 250px,#0b2467 260px,#0b2367 270px,#0b2367 280px,#0b2366 290px,#0b2366 300px,#0b2366 310px,#0b2266 320px,#0c2162 330px,#0d2061 335px,#111e5b 337px,#1b1a50 339px,#211849 340px,#281542 341px,#361134 343px,#410d29 345px,#470c25 347px,#4a0c24 350px,#500c23 360px,#530c23 370px,#560c23 380px,#590d22 390px,#5c0d22 400px,#5f0d22 410px,#610d23 420px,#630d23 430px,#650e23 440px,#680e24 450px,#6a0e24 460px,#6c0e25 470px,#6f0f25 480px,#730f26 490px,#760f27 500px,#791027 510px,#811129 520px,#87112a 530px,#87112b 540px,#88112b 550px,#89112b 560px,#8a112b 570px,#87112a 580px,#85112a 590px,#831029 600px,#801028 610px,#7e1027 620px,#7b1027 630px,#780f26 640px,#760f26 650px,#730f25 660px,#700f25 670px,#700f25 680px)"></i>
<i style="top:163px;height:3px;background:linear-gradient(90deg,#0a47a4 0px,#0a47a4 10px,#0a46a3 20px,#0a46a3 30px,#0a45a2 40px,#0a44a2 50px,#0a44a2 60px,#0a43a1 70px,#0a42a1 80px,#0a42a0 90px,#0a41a0 100px,#0a3f9c 110px,#0a3c98 120px,#0a3a95 130px,#0b3791 140px,#0b358d 150px,#0b3287 160px,#0b3080 170px,#0b2d7a 180px,#0c2a73 190px,#0b2971 200px,#0b286f 210px,#0b266c 220px,#0b256a 230px,#0a2467 240px,#0a2467 250px,#0a2367 260px,#0a2366 270px,#0b2366 280px,#0b2366 290px,#0b2265 300px,#0b2265 310px,#0b2265 320px,#0c2161 330px,#0d205f 335px,#111e5a 337px,#1b1a4e 339px,#211747 340px,#271540 341px,#351033 343px,#400d28 345px,#460b24 347px,#490c24 350px,#4f0c23 360px,#520c23 370px,#550c22 380px,#580c22 390px,#5b0d22 400px,#5e0d22 410px,#600d22 420px,#620d23 430px,#640e23 440px,#670e24 450px,#690e24 460px,#6b0e25 470px,#6e0f25 480px,#710f26 490px,#750f26 500px,#781027 510px,#801129 520px,#86112a 530px,#87112b 540px,#88112b 550px,#89112b 560px,#8a112b 570px,#87112a 580px,#85112a 590px,#831129 600px,#801028 610px,#7e1027 620px,#7b1027 630px,#781026 640px,#760f26 650px,#730f25 660px,#700f25 670px,#700f25 680px)"></i>
<i style="top:166px;height:3px;background:linear-gradient(90deg,#0a47a4 0px,#0a47a4 10px,#0a46a3 20px,#0a46a3 30px,#0a45a2 40px,#0a44a2 50px,#0a44a2 60px,#0a43a1 70px,#0a42a1 80px,#0a42a1 90px,#0a41a0 100px,#0a3e9c 110px,#0a3c98 120px,#0a3a95 130px,#0b3791 140px,#0b358d 150px,#0b3286 160px,#0b2f80 170px,#0b2d79 180px,#0c2a73 190px,#0b2971 200px,#0b276e 210px,#0b266c 220px,#0a2569 230px,#0a2467 240px,#0a2367 250px,#0a2366 260px,#0a2366 270px,#0a2365 280px,#0a2265 290px,#0a2265 300px,#0b2264 310px,#0b2264 320px,#0c2060 330px,#0c1f5e 335px,#111d58 337px,#1b194d 339px,#211746 340px,#27143f 341px,#341032 343px,#3f0c28 345px,#440b24 347px,#470b24 350px,#4e0c23 360px,#510c22 370px,#540c22 380px,#570c22 390px,#5a0d21 400px,#5d0d22 410px,#5f0d22 420px,#610d22 430px,#630d23 440px,#660e23 450px,#680e24 460px,#6a0e24 470px,#6d0f25 480px,#700f26 490px,#730f26 500px,#760f27 510px,#7f1129 520px,#86112a 530px,#87112b 540px,#88112b 550px,#89112b 560px,#8a112b 570px,#87112a 580px,#85112a 590px,#831129 600px,#811028 610px,#7e1027 620px,#7b1027 630px,#791026 640px,#760f26 650px,#730f25 660px,#700f25 670px,#700f25 680px)"></i>
<i style="top:169px;height:3px;background:linear-gradient(90deg,#0a47a4 0px,#0a47a4 10px,#0a46a3 20px,#0a45a3 30px,#0a45a2 40px,#0a44a2 50px,#0a43a2 60px,#0a43a1 70px,#0a42a1 80px,#0a41a1 90px,#0a41a0 100px,#0a3e9c 110px,#0a3c98 120px,#0b3a95 130px,#0b3791 140px,#0b358d 150px,#0b3286 160px,#0b2f80 170px,#0b2c79 180px,#0c2a73 190px,#0b2870 200px,#0b276e 210px,#0b266b 220px,#0a2569 230px,#0a2367 240px,#0a2366 250px,#0a2366 260px,#0a2365 270px,#0a2265 280px,#0a2264 290px,#0a2264 300px,#0a2163 310px,#0b2163 320px,#0c205f 330px,#0c1f5c 335px,#111d57 337px,#1a184b 339px,#201644 340px,#26143e 341px,#330f31 343px,#3e0c27 345px,#430b24 347px,#460b23 350px,#4d0c22 360px,#500c22 370px,#530c22 380px,#560c22 390px,#590c21 400px,#5c0d21 410px,#5e0d22 420px,#600d22 430px,#620d23 440px,#650e23 450px,#670e24 460px,#690e24 470px,#6c0e25 480px,#6f0f25 490px,#720f26 500px,#750f26 510px,#7e1028 520px,#85112a 530px,#86112a 540px,#87112b 550px,#88112b 560px,#8a112b 570px,#87112a 580px,#85112a 590px,#831129 600px,#811028 610px,#7e1027 620px,#7b1027 630px,#791026 640px,#760f26 650px,#730f25 660px,#700f25 670px,#700f25 680px)"></i>
<i style="top:172px;height:3px;background:linear-gradient(90deg,#0a47a4 0px,#0a47a4 10px,#0a46a3 20px,#0a45a3 30px,#0a45a2 40px,#0a44a2 50px,#0a43a2 60px,#0a43a1 70px,#0a42a1 80px,#0a41a1 90px,#0a41a0 100px,#0a3e9c 110px,#0a3c98 120px,#0b3994 130px,#0b3790 140px,#0b358d 150px,#0b3286 160px,#0b2f7f 170px,#0b2c79 180px,#0c2a72 190px,#0b2870 200px,#0b276d 210px,#0b266b 220px,#0a2468 230px,#0a2366 240px,#0a2366 250px,#0a2265 260px,#0a2265 270px,#0a2264 280px,#0a2264 290px,#0a2163 300px,#0a2163 310px,#0b2162 320px,#0b1f5e 330px,#0c1e5b 335px,#111c55 337px,#1a184a 339px,#201543 340px,#26133c 341px,#330f30 343px,#3d0c27 345px,#420b23 347px,#450b23 350px,#4c0b22 360px,#4f0c22 370px,#520c22 380px,#550c21 390px,#580c21 400px,#5b0c21 410px,#5d0d21 420px,#5f0d22 430px,#610d22 440px,#640d23 450px,#660e23 460px,#680e24 470px,#6b0e24 480px,#6e0f25 490px,#710f26 500px,#740f26 510px,#7d1028 520px,#85112a 530px,#86112a 540px,#87112b 550px,#88112b 560px,#8a112b 570px,#87112a 580px,#85112a 590px,#831129 600px,#811028 610px,#7f1027 620px,#7c1027 630px,#791026 640px,#760f26 650px,#730f25 660px,#700f25 670px,#700f25 680px)"></i>
<i style="top:175px;height:3px;background:linear-gradient(90deg,#0a47a4 0px,#0a47a4 10px,#0a46a3 20px,#0a45a3 30px,#0a45a2 40px,#0a44a2 50px,#0a43a2 60px,#0a43a1 70px,#0a42a1 80px,#0a41a1 90px,#0a41a0 100px,#0a3e9c 110px,#0a3c98 120px,#0b3994 130px,#0b3790 140px,#0b348c 150px,#0b3286 160px,#0b2f7f 170px,#0b2c78 180px,#0c2972 190px,#0b286f 200px,#0b276d 210px,#0b256a 220px,#0a2468 230px,#0a2366 240px,#0a2265 250px,#0a2265 260px,#0a2264 270px,#0a2263 280px,#0a2163 290px,#0a2162 300px,#0a2162 310px,#0a2061 320px,#0b1e5c 330px,#0c1d5a 335px,#111b53 337px,#1a1748 339px,#1f1542 340px,#25133b 341px,#320e2f 343px,#3c0c26 345px,#400b23 347px,#440b23 350px,#4a0b22 360px,#4d0b21 370px,#510c21 380px,#540c21 390px,#570c21 400px,#590c21 410px,#5c0c21 420px,#5e0d22 430px,#600d22 440px,#630d23 450px,#650e23 460px,#680e24 470px,#6a0e24 480px,#6d0e25 490px,#700f25 500px,#720f26 510px,#7c1028 520px,#84112a 530px,#86112a 540px,#87112b 550px,#88112b 560px,#8a112b 570px,#87112b 580px,#85112a 590px,#831129 600px,#811128 610px,#7f1027 620px,#7c1027 630px,#791026 640px,#760f26 650px,#730f25 660px,#700f25 670px,#700f25 680px)"></i>
<i style="top:178px;height:3px;background:linear-gradient(90deg,#0a47a4 0px,#0a47a4 10px,#0a46a3 20px,#0a45a3 30px,#0a45a2 40px,#0a44a2 50px,#0a43a2 60px,#0a43a1 70px,#0a42a1 80px,#0a41a1 90px,#0a41a0 100px,#0a3e9c 110px,#0a3c98 120px,#0b3994 130px,#0b3790 140px,#0b348c 150px,#0b3185 160px,#0b2f7f 170px,#0b2c78 180px,#0c2971 190px,#0b286f 200px,#0b266c 210px,#0a256a 220px,#0a2468 230px,#0a2265 240px,#0a2265 250px,#0a2264 260px,#0a2263 270px,#0a2163 280px,#0a2162 290px,#0a2162 300px,#0a2061 310px,#0a2061 320px,#0b1e5b 330px,#0c1d58 335px,#111b52 337px,#1a1747 339px,#1f1440 340px,#25123a 341px,#310e2e 343px,#3b0b25 345px,#3f0b23 347px,#420b22 350px,#490b21 360px,#4c0b21 370px,#4f0b21 380px,#520c21 390px,#550c21 400px,#580c20 410px,#5b0c21 420px,#5d0d21 430px,#5f0d22 440px,#620d22 450px,#640e23 460px,#670e23 470px,#690e24 480px,#6c0e24 490px,#6e0f25 500px,#710f25 510px,#7b1028 520px,#84112a 530px,#85112a 540px,#87112b 550px,#88112b 560px,#8a112b 570px,#87112b 580px,#85112a 590px,#831129 600px,#811128 610px,#7f1027 620px,#7c1027 630px,#791026 640px,#760f26 650px,#730f25 660px,#700f25 670px,#700f25 680px)"></i>
<i style="top:181px;height:3px;background:linear-gradient(90deg,#0a47a4 0px,#0a47a4 10px,#0a46a3 20px,#0a45a3 30px,#0a45a2 40px,#0a44a2 50px,#0a43a2 60px,#0a43a1 70px,#0a42a1 80px,#0a41a1 90px,#0a41a0 100px,#0a3e9c 110px,#0a3c98 120px,#0b3994 130px,#0b3690 140px,#0b348c 150px,#0b3185 160px,#0b2e7e 170px,#0b2c77 180px,#0c2971 190px,#0b286e 200px,#0b266c 210px,#0a2569 220px,#0a2467 230px,#0a2265 240px,#0a2264 250px,#0a2263 260px,#0a2163 270px,#0a2162 280px,#0a2162 290px,#0a2061 300px,#0a2060 310px,#0a2060 320px,#0b1d5a 330px,#0c1c57 335px,#101a50 337px,#191645 339px,#1f143f 340px,#241239 341px,#300e2d 343px,#3a0b25 345px,#3e0a22 347px,#410b22 350px,#480b21 360px,#4b0b21 370px,#4e0b21 380px,#510c20 390px,#540c20 400px,#570c20 410px,#5a0c21 420px,#5c0d21 430px,#5e0d22 440px,#610d22 450px,#630d23 460px,#660e23 470px,#680e24 480px,#6b0e24 490px,#6d0e25 500px,#700f25 510px,#7a1028 520px,#83112a 530px,#85112a 540px,#86112b 550px,#88112b 560px,#8a112b 570px,#87112b 580px,#85112a 590px,#831129 600px,#811128 610px,#7f1027 620px,#7c1027 630px,#791026 640px,#760f26 650px,#730f25 660px,#700f25 670px,#700f25 680px)"></i>
<i style="top:184px;height:3px;background:linear-gradient(90deg,#0a47a4 0px,#0a47a4 10px,#0a46a3 20px,#0a45a3 30px,#0a45a2 40px,#0a44a2 50px,#0a43a2 60px,#0a43a1 70px,#0a42a1 80px,#0a41a1 90px,#0a41a0 100px,#0a3e9c 110px,#0a3b98 120px,#0b3994 130px,#0b3690 140px,#0b348c 150px,#0b3185 160px,#0b2e7e 170px,#0b2c77 180px,#0c2970 190px,#0b276e 200px,#0b266b 210px,#0a2569 220px,#0a2367 230px,#0a2264 240px,#0a2264 250px,#0a2163 260px,#0a2162 270px,#0a2161 280px,#0a2061 290px,#0a2060 300px,#0a1f5f 310px,#0a1f5f 320px,#0b1d59 330px,#0b1c56 334px,#0d1b52 336px,#141749 338px,#1e133d 340px,#2a0f31 342px,#340c28 344px,#3b0a22 346px,#400a22 350px,#470b21 360px,#4a0b21 370px,#4d0b20 380px,#500b20 390px,#530c20 400px,#560c20 410px,#590c20 420px,#5b0c21 430px,#5d0d21 440px,#600d22 450px,#620d22 460px,#650e23 470px,#670e23 480px,#6a0e24 490px,#6c0e24 500px,#6e0f25 510px,#791027 520px,#83112a 530px,#85112a 540px,#86112b 550px,#88112b 560px,#8a112b 570px,#87112b 580px,#85112a 590px,#831129 600px,#811128 610px,#7f1027 620px,#7c1027 630px,#791026 640px,#760f26 650px,#730f25 660px,#700f25 670px,#700f25 680px)"></i>
<i style="top:187px;height:3px;background:linear-gradient(90deg,#0a47a4 0px,#0a47a4 10px,#0a46a3 20px,#0a45a3 30px,#0a45a2 40px,#0a44a2 50px,#0a43a2 60px,#0a43a1 70px,#0a42a1 80px,#0a41a1 90px,#0a41a0 100px,#0a3e9c 110px,#0a3b98 120px,#0b3994 130px,#0b3690 140px,#0b348c 150px,#0b3185 160px,#0b2e7e 170px,#0b2b77 180px,#0c2970 190px,#0b276d 200px,#0b266b 210px,#0a2469 220px,#0a2366 230px,#0a2264 240px,#0a2163 250px,#0a2162 260px,#0a2162 270px,#0a2061 280px,#0a2060 290px,#0a1f5f 300px,#0a1f5f 310px,#0a1f5e 320px,#0b1c57 330px,#0b1b55 334px,#0d1a51 336px,#141748 338px,#1e133c 340px,#290f30 342px,#330c27 344px,#3a0a22 346px,#3f0a21 350px,#460b21 360px,#490b20 370px,#4c0b20 380px,#4f0b20 390px,#520b20 400px,#550c20 410px,#580c20 420px,#5a0c21 430px,#5c0d21 440px,#5f0d22 450px,#610d22 460px,#640e23 470px,#660e23 480px,#690e24 490px,#6b0e24 500px,#6d0e24 510px,#781027 520px,#83112a 530px,#84112a 540px,#86112b 550px,#88112b 560px,#8a112b 570px,#87112b 580px,#85112a 590px,#831129 600px,#811128 610px,#7f1027 620px,#7c1027 630px,#791026 640px,#760f26 650px,#730f25 660px,#700f25 670px,#700f25 680px)"></i>
<i style="top:190px;height:3px;background:linear-gradient(90deg,#0a47a4 0px,#0a47a4 10px,#0a46a3 20px,#0a45a3 30px,#0a44a3 40px,#0a44a2 50px,#0a43a2 60px,#0a42a2 70px,#0a42a1 80px,#0a41a1 90px,#0a40a1 100px,#0a3e9c 110px,#0a3b98 120px,#0b3994 130px,#0b3690 140px,#0c338b 150px,#0c3184 160px,#0c2e7d 170px,#0c2b76 180px,#0c286f 190px,#0b276d 200px,#0b266b 210px,#0a2468 220px,#0a2366 230px,#0a2163 240px,#0a2163 250px,#0a2162 260px,#0a2061 270px,#0a2060 280px,#0a2060 290px,#0a1f5f 300px,#0a1f5e 310px,#0a1e5d 320px,#0a1c56 330px,#0b1b54 334px,#0d1a50 336px,#141647 338px,#1e123b 340px,#290e30 342px,#330b26 344px,#3a0a22 346px,#3e0a21 350px,#450b20 360px,#480b20 370px,#4b0b20 380px,#4e0b20 390px,#510b20 400px,#540b1f 410px,#570c20 420px,#590c20 430px,#5c0c21 440px,#5e0d21 450px,#610d22 460px,#630d22 470px,#660e23 480px,#680e23 490px,#6a0e24 500px,#6c0e24 510px,#771027 520px,#82122a 530px,#84122a 540px,#86122b 550px,#88122b 560px,#89112b 570px,#87112b 580px,#85112a 590px,#831129 600px,#811128 610px,#7f1128 620px,#7c1027 630px,#791026 640px,#760f26 650px,#730f25 660px,#6f0f24 670px,#6f0f24 680px)"></i>
<i style="top:193px;height:3px;background:linear-gradient(90deg,#0a47a4 0px,#0a47a4 10px,#0a46a3 20px,#0a45a3 30px,#0a44a3 40px,#0a44a2 50px,#0a43a2 60px,#0a42a2 70px,#0a42a1 80px,#0a41a1 90px,#0a40a1 100px,#0a3e9c 110px,#0a3b98 120px,#0b3994 130px,#0b3690 140px,#0c338b 150px,#0c3184 160px,#0c2e7d 170px,#0c2b76 180px,#0c286f 190px,#0b276d 200px,#0b266b 210px,#0a2468 220px,#0a2366 230px,#0a2163 240px,#0a2162 250px,#0a2162 260px,#0a2061 270px,#0a2060 280px,#0a1f5f 290px,#0a1f5f 300px,#0a1f5e 310px,#0a1e5d 320px,#0b1c56 330px,#0b1b53 334px,#0d194f 336px,#141646 338px,#1e123a 340px,#290e2f 342px,#330b26 344px,#390a22 346px,#3e0a21 350px,#450b20 360px,#480b20 370px,#4b0b20 380px,#4e0b20 390px,#510b20 400px,#540b1f 410px,#560c20 420px,#590c20 430px,#5b0c21 440px,#5e0d21 450px,#600d22 460px,#630d22 470px,#650e23 480px,#680e23 490px,#6a0e24 500px,#6c0e24 510px,#771027 520px,#82122a 530px,#84122a 540px,#86122b 550px,#88122b 560px,#89112b 570px,#87112b 580px,#85112a 590px,#831129 600px,#811128 610px,#7f1128 620px,#7c1027 630px,#791026 640px,#760f26 650px,#720f25 660px,#6f0f24 670px,#6f0f24 680px)"></i>
<i style="top:196px;height:3px;background:linear-gradient(90deg,#0a47a4 0px,#0a47a4 10px,#0a46a3 20px,#0a45a3 30px,#0a44a3 40px,#0a44a2 50px,#0a43a2 60px,#0a42a2 70px,#0a42a1 80px,#0a41a1 90px,#0a40a1 100px,#0a3e9c 110px,#0a3b98 120px,#0b3994 130px,#0b3690 140px,#0c338b 150px,#0c3184 160px,#0c2e7d 170px,#0c2b76 180px,#0c286f 190px,#0b276d 200px,#0b266a 210px,#0a2468 220px,#0a2365 230px,#0a2163 240px,#0a2162 250px,#0a2161 260px,#0a2061 270px,#0a2060 280px,#0a1f5f 290px,#0a1f5e 300px,#0a1f5d 310px,#0a1e5c 320px,#0b1c55 330px,#0b1b53 334px,#0d194f 336px,#151645 338px,#1e123a 340px,#290e2f 342px,#330b26 344px,#390a21 346px,#3e0a21 350px,#450a20 360px,#480b20 370px,#4a0b20 380px,#4d0b20 390px,#500b1f 400px,#530b1f 410px,#560c20 420px,#580c20 430px,#5b0c21 440px,#5d0d21 450px,#600d22 460px,#630d22 470px,#650e23 480px,#670e23 490px,#6a0e24 500px,#6c0e24 510px,#771027 520px,#82122a 530px,#84122a 540px,#86122b 550px,#88122b 560px,#89112b 570px,#87112b 580px,#85112a 590px,#831129 600px,#811128 610px,#7f1128 620px,#7c1027 630px,#791026 640px,#760f26 650px,#720f25 660px,#6f0f24 670px,#6f0f24 680px)"></i>
<i style="top:199px;height:3px;background:linear-gradient(90deg,#0a47a4 0px,#0a47a4 10px,#0a46a3 20px,#0a45a3 30px,#0a44a3 40px,#0a44a2 50px,#0a43a2 60px,#0a42a2 70px,#0a42a1 80px,#0a41a1 90px,#0a40a1 100px,#0a3e9c 110px,#0a3b98 120px,#0b3994 130px,#0b368f 140px,#0c338b 150px,#0c3184 160px,#0c2e7d 170px,#0c2b76 180px,#0c286f 190px,#0b276d 200px,#0b266a 210px,#0a2468 220px,#0a2365 230px,#0a2163 240px,#0a2162 250px,#0a2061 260px,#0a2060 270px,#0a2060 280px,#0a1f5f 290px,#0a1f5e 300px,#0a1e5d 310px,#0a1e5c 320px,#0b1b55 330px,#0b1a52 334px,#0e194e 336px,#151645 338px,#1e1239 340px,#2a0e2e 342px,#330b25 344px,#390a21 346px,#3e0a21 350px,#440a20 360px,#470b20 370px,#4a0b20 380px,#4d0b20 390px,#500b1f 400px,#530b1f 410px,#550c20 420px,#570c20 430px,#5a0c21 440px,#5d0d21 450px,#5f0d22 460px,#620d22 470px,#650e23 480px,#670e23 490px,#690e24 500px,#6c0e24 510px,#771027 520px,#82122a 530px,#84122a 540px,#86122a 550px,#88122b 560px,#89112b 570px,#87112a 580px,#85112a 590px,#831129 600px,#811128 610px,#7f1128 620px,#7c1027 630px,#791026 640px,#750f26 650px,#720f25 660px,#6f0f24 670px,#6f0f24 680px)"></i>
<i style="top:202px;height:3px;background:linear-gradient(90deg,#0a47a4 0px,#0a47a4 10px,#0a46a3 20px,#0a45a3 30px,#0a44a3 40px,#0a44a2 50px,#0a43a2 60px,#0a42a2 70px,#0a42a1 80px,#0a41a1 90px,#0a40a1 100px,#0a3e9c 110px,#0a3b98 120px,#0b3994 130px,#0b368f 140px,#0c338b 150px,#0c3184 160px,#0c2e7d 170px,#0c2b76 180px,#0c286f 190px,#0b276d 200px,#0b256a 210px,#0a2468 220px,#0a2365 230px,#0a2163 240px,#0a2162 250px,#0a2061 260px,#0a2060 270px,#0a205f 280px,#0a1f5e 290px,#0a1f5e 300px,#0a1e5d 310px,#0a1e5b 320px,#0b1b55 330px,#0b1a52 334px,#0e194e 336px,#151544 338px,#1f1139 340px,#2a0e2e 342px,#340b25 344px,#390a21 346px,#3e0a21 350px,#440a20 360px,#470b20 370px,#4a0b20 380px,#4d0b1f 390px,#4f0b1f 400px,#520b1f 410px,#540b20 420px,#570c20 430px,#5a0c21 440px,#5c0c21 450px,#5f0d22 460px,#620d22 470px,#640d23 480px,#670e23 490px,#690e24 500px,#6c0e24 510px,#771027 520px,#82122a 530px,#84122a 540px,#86122a 550px,#88122b 560px,#89112b 570px,#87112a 580px,#85112a 590px,#831129 600px,#811128 610px,#7f1128 620px,#7c1027 630px,#781026 640px,#750f25 650px,#720f25 660px,#6f0f24 670px,#6f0f24 680px)"></i>
<i style="top:205px;height:3px;background:linear-gradient(90deg,#0a47a4 0px,#0a47a4 10px,#0a46a3 20px,#0a45a3 30px,#0a44a3 40px,#0a44a2 50px,#0a43a2 60px,#0a42a2 70px,#0a42a1 80px,#0a41a1 90px,#0a40a1 100px,#0a3e9c 110px,#0a3b98 120px,#0b3894 130px,#0b368f 140px,#0c338b 150px,#0c3184 160px,#0c2e7d 170px,#0c2b76 180px,#0c286f 190px,#0b276d 200px,#0b256a 210px,#0a2468 220px,#0a2365 230px,#0a2162 240px,#0a2162 250px,#0a2061 260px,#0a2060 270px,#0a1f5f 280px,#0a1f5e 290px,#0a1f5d 300px,#0a1e5c 310px,#0a1d5b 320px,#0b1b54 330px,#0b1a51 334px,#0e194d 336px,#151543 338px,#1f1138 340px,#2a0d2d 342px,#340b25 344px,#390a21 346px,#3d0a21 350px,#440a20 360px,#470b20 370px,#490b20 380px,#4c0b1f 390px,#4f0b1f 400px,#520b1f 410px,#540b1f 420px,#560c20 430px,#590c20 440px,#5c0c21 450px,#5f0d22 460px,#610d22 470px,#640d23 480px,#660e23 490px,#690e24 500px,#6b0e24 510px,#771027 520px,#82122a 530px,#84122a 540px,#86122a 550px,#88122b 560px,#89112b 570px,#87112a 580px,#85112a 590px,#831129 600px,#811128 610px,#7f1128 620px,#7b1027 630px,#781026 640px,#750f25 650px,#720f25 660px,#6f0f24 670px,#6f0f24 680px)"></i>
<i style="top:208px;height:3px;background:linear-gradient(90deg,#0a47a4 0px,#0a47a4 10px,#0a46a3 20px,#0a45a3 30px,#0a44a3 40px,#0a44a2 50px,#0a43a2 60px,#0a42a2 70px,#0a42a1 80px,#0a41a1 90px,#0a40a1 100px,#0a3e9c 110px,#0a3b98 120px,#0b3894 130px,#0b368f 140px,#0c338b 150px,#0c3184 160px,#0c2e7d 170px,#0c2b76 180px,#0c286f 190px,#0b276c 200px,#0b256a 210px,#0a2467 220px,#0a2265 230px,#0a2162 240px,#0a2161 250px,#0a2061 260px,#0a2060 270px,#0a1f5f 280px,#0a1f5e 290px,#0a1e5d 300px,#0a1e5c 310px,#0a1d5a 320px,#0b1b54 330px,#0b1a51 334px,#0e184c 336px,#161543 338px,#1f1137 340px,#2a0d2d 342px,#340b25 344px,#390a21 346px,#3d0a20 350px,#440a20 360px,#470a20 370px,#490b1f 380px,#4c0b1f 390px,#4f0b1f 400px,#510b1f 410px,#530b1f 420px,#560c20 430px,#580c20 440px,#5b0c21 450px,#5e0d21 460px,#610d22 470px,#640d23 480px,#660e23 490px,#690e24 500px,#6b0e24 510px,#771027 520px,#82122a 530px,#84122a 540px,#86122a 550px,#88122b 560px,#89112b 570px,#87112a 580px,#85112a 590px,#831129 600px,#811128 610px,#7f1128 620px,#7b1027 630px,#781026 640px,#750f25 650px,#720f25 660px,#6f0f24 670px,#6f0f24 680px)"></i>
<i style="top:211px;height:3px;background:linear-gradient(90deg,#0a47a4 0px,#0a47a4 10px,#0a46a3 20px,#0a45a3 30px,#0a44a3 40px,#0a44a2 50px,#0a43a2 60px,#0a42a2 70px,#0a42a1 80px,#0a41a1 90px,#0a40a1 100px,#0a3e9c 110px,#0a3b98 120px,#0b3894 130px,#0b368f 140px,#0c338b 150px,#0c3084 160px,#0c2e7d 170px,#0c2b76 180px,#0c286f 190px,#0b276c 200px,#0b256a 210px,#0a2467 220px,#0a2265 230px,#0a2162 240px,#0a2161 250px,#0a2060 260px,#0a205f 270px,#0a1f5e 280px,#0a1f5e 290px,#0a1e5d 300px,#0a1e5c 310px,#0a1d5a 320px,#0b1b53 330px,#0b1a50 334px,#0f184b 336px,#161441 338px,#201036 340px,#2b0d2c 342px,#350a24 344px,#390a21 346px,#3d0a20 350px,#440a20 360px,#460a1f 370px,#490b1f 380px,#4b0b1f 390px,#4e0b1f 400px,#510b1f 410px,#530b1f 420px,#550b20 430px,#580c20 440px,#5b0c21 450px,#5e0d21 460px,#610d22 470px,#630d23 480px,#660e23 490px,#680e24 500px,#6b0e24 510px,#761027 520px,#81122a 530px,#83122a 540px,#86122a 550px,#88122b 560px,#88112b 570px,#86112a 580px,#84112a 590px,#821129 600px,#801128 610px,#7e1128 620px,#7b1027 630px,#781026 640px,#750f25 650px,#720f25 660px,#6e0f24 670px,#6e0f24 680px)"></i>
<i style="top:214px;height:3px;background:linear-gradient(90deg,#0a47a4 0px,#0a47a4 10px,#0a46a3 20px,#0a45a3 30px,#0a44a3 40px,#0a44a2 50px,#0a43a2 60px,#0a42a2 70px,#0a42a1 80px,#0a41a1 90px,#0a40a1 100px,#0a3e9c 110px,#0a3b98 120px,#0b3894 130px,#0b368f 140px,#0c338b 150px,#0c3084 160px,#0c2e7d 170px,#0c2b76 180px,#0c286f 190px,#0b276c 200px,#0b256a 210px,#0a2467 220px,#0a2264 230px,#0a2162 240px,#0a2061 250px,#0a2060 260px,#0a205f 270px,#0a1f5e 280px,#0a1f5d 290px,#0a1e5c 300px,#0a1e5b 310px,#0a1d59 320px,#0b1b53 330px,#0b1950 334px,#0f174a 336px,#181440 338px,#221035 340px,#2c0c2a 342px,#350a23 344px,#390a21 346px,#3d0a20 350px,#430a1f 360px,#460a1f 370px,#490a1f 380px,#4b0b1f 390px,#4e0b1f 400px,#500b1f 410px,#520b1f 420px,#540b20 430px,#570c20 440px,#5a0c21 450px,#5d0c21 460px,#600d22 470px,#630d22 480px,#660e23 490px,#680e24 500px,#6b0e24 510px,#761027 520px,#81122a 530px,#83122a 540px,#86122a 550px,#88122b 560px,#88112b 570px,#86112a 580px,#841129 590px,#821129 600px,#801128 610px,#7e1128 620px,#7b1027 630px,#781026 640px,#750f25 650px,#710f25 660px,#6e0f24 670px,#6e0f24 680px)"></i>
<i style="top:217px;height:3px;background:linear-gradient(90deg,#0a47a4 0px,#0a47a4 10px,#0a46a3 20px,#0a45a3 30px,#0a44a3 40px,#0a44a2 50px,#0a43a2 60px,#0a42a2 70px,#0a42a1 80px,#0a41a1 90px,#0a40a1 100px,#0a3e9c 110px,#0a3b98 120px,#0b3893 130px,#0b368f 140px,#0c338b 150px,#0c3084 160px,#0c2e7d 170px,#0c2b76 180px,#0c286f 190px,#0b276c 200px,#0b256a 210px,#0a2467 220px,#0a2264 230px,#0a2162 240px,#0a2061 250px,#0a2060 260px,#0a1f5f 270px,#0a1f5e 280px,#0a1f5d 290px,#0a1e5c 300px,#0a1e5b 310px,#0a1d59 320px,#0b1a52 330px,#0b1a50 333px,#0d184c 335px,#141544 337px,#1e1138 339px,#230f33 340px,#280e2e 341px,#320b25 343px,#380a21 345px,#3d0a20 350px,#430a1f 360px,#460a1f 370px,#480a1f 380px,#4b0b1f 390px,#4d0b1f 400px,#500b1f 410px,#520b1f 420px,#540b1f 430px,#570c20 440px,#5a0c21 450px,#5d0c21 460px,#600d22 470px,#630d22 480px,#650e23 490px,#680e24 500px,#6b0e24 510px,#761027 520px,#81122a 530px,#83122a 540px,#85122a 550px,#88122b 560px,#88112b 570px,#86112a 580px,#841129 590px,#821129 600px,#801128 610px,#7e1128 620px,#7b1027 630px,#781026 640px,#740f25 650px,#710f25 660px,#6e0f24 670px,#6e0f24 680px)"></i>
<i style="top:220px;height:3px;background:linear-gradient(90deg,#0a47a4 0px,#0a47a4 10px,#0a46a4 20px,#0a45a3 30px,#0a44a3 40px,#0a44a2 50px,#0a43a2 60px,#0a42a2 70px,#0a42a1 80px,#0a41a1 90px,#0a40a1 100px,#0a3e9c 110px,#0a3b98 120px,#0b3893 130px,#0b368f 140px,#0c338b 150px,#0c3084 160px,#0c2e7d 170px,#0c2b76 180px,#0c286f 190px,#0b276c 200px,#0b2569 210px,#0a2467 220px,#0a2264 230px,#0a2162 240px,#0a2061 250px,#0a2060 260px,#0a1f5f 270px,#0a1f5e 280px,#0a1e5d 290px,#0a1e5c 300px,#0a1e5b 310px,#0a1d58 320px,#0b1a52 330px,#0b1950 333px,#0e184b 335px,#151542 337px,#1f1137 339px,#240f32 340px,#2a0d2c 341px,#330b24 343px,#380921 345px,#3d0a20 350px,#430a1f 360px,#460a1f 370px,#480a1f 380px,#4a0a1f 390px,#4d0b1f 400px,#4f0b1f 410px,#510b1f 420px,#530b1f 430px,#560c20 440px,#590c21 450px,#5c0c21 460px,#600d22 470px,#620d22 480px,#650e23 490px,#680e24 500px,#6b0e24 510px,#761027 520px,#81122a 530px,#83122a 540px,#85122a 550px,#88122a 560px,#88112b 570px,#86112a 580px,#841129 590px,#821129 600px,#801128 610px,#7e1128 620px,#7b1027 630px,#781026 640px,#740f25 650px,#710f24 660px,#6e0f24 670px,#6e0f24 680px)"></i>
<i style="top:223px;height:3px;background:linear-gradient(90deg,#0a47a4 0px,#0a47a4 10px,#0a46a4 20px,#0a45a3 30px,#0a44a3 40px,#0a44a2 50px,#0a43a2 60px,#0a42a2 70px,#0a41a1 80px,#0a41a1 90px,#0a40a1 100px,#0a3d9c 110px,#0a3b98 120px,#0b3893 130px,#0b368f 140px,#0c338b 150px,#0c3084 160px,#0c2e7d 170px,#0c2b76 180px,#0c286f 190px,#0b276c 200px,#0b2569 210px,#0a2467 220px,#0a2264 230px,#0a2161 240px,#0a2060 250px,#0a205f 260px,#0a1f5e 270px,#0a1f5d 280px,#0a1e5c 290px,#0a1e5b 300px,#0a1d5a 310px,#0a1c58 320px,#0b1a51 330px,#0b194f 333px,#0f174a 335px,#161440 337px,#201035 339px,#250e30 340px,#2b0d2b 341px,#340a23 343px,#380920 345px,#3d0a20 350px,#430a1f 360px,#450a1f 370px,#480a1f 380px,#4a0a1f 390px,#4c0b1f 400px,#4f0b1f 410px,#510b1f 420px,#530b1f 430px,#560b20 440px,#590c20 450px,#5c0c21 460px,#5f0d22 470px,#620d22 480px,#650d23 490px,#680e24 500px,#6a0e24 510px,#761027 520px,#81122a 530px,#83122a 540px,#85122a 550px,#88122a 560px,#88112a 570px,#86112a 580px,#841129 590px,#821129 600px,#801128 610px,#7e1128 620px,#7b1027 630px,#771026 640px,#740f25 650px,#710f24 660px,#6e0f24 670px,#6e0f24 680px)"></i>
<i style="top:226px;height:3px;background:linear-gradient(90deg,#0a47a4 0px,#0a47a4 10px,#0a46a4 20px,#0a45a3 30px,#0a44a3 40px,#0a44a2 50px,#0a43a2 60px,#0a42a2 70px,#0a41a1 80px,#0a41a1 90px,#0a40a1 100px,#0a3d9c 110px,#0a3b98 120px,#0b3893 130px,#0b368f 140px,#0c338b 150px,#0c3084 160px,#0c2e7d 170px,#0c2b76 180px,#0c286f 190px,#0b276c 200px,#0b2569 210px,#0a2467 220px,#0a2264 230px,#0a2161 240px,#0a2060 250px,#0a205f 260px,#0a1f5e 270px,#0a1f5d 280px,#0a1e5c 290px,#0a1e5b 300px,#0a1d5a 310px,#0a1c57 320px,#0b1a51 330px,#0b194e 333px,#0f1749 335px,#17133f 337px,#211034 339px,#270e2f 340px,#2c0c2a 341px,#350a23 343px,#380920 345px,#3d0a20 350px,#430a1f 360px,#450a1f 370px,#470a1f 380px,#4a0a1f 390px,#4c0a1f 400px,#4e0b1f 410px,#500b1f 420px,#520b1f 430px,#550b20 440px,#580c20 450px,#5c0c21 460px,#5f0d22 470px,#620d22 480px,#650d23 490px,#670e24 500px,#6a0e24 510px,#761027 520px,#81122a 530px,#83122a 540px,#85122a 550px,#88122a 560px,#88112a 570px,#86112a 580px,#841129 590px,#821129 600px,#801128 610px,#7e1128 620px,#7a1027 630px,#771026 640px,#740f25 650px,#710f24 660px,#6e0f24 670px,#6e0f24 680px)"></i>
<i style="top:229px;height:3px;background:linear-gradient(90deg,#0a47a4 0px,#0a47a4 10px,#0a46a4 20px,#0a45a3 30px,#0a44a3 40px,#0a44a2 50px,#0a43a2 60px,#0a42a2 70px,#0a41a1 80px,#0a41a1 90px,#0a40a1 100px,#0a3d9c 110px,#0a3b98 120px,#0b3893 130px,#0b368f 140px,#0c338a 150px,#0c3083 160px,#0c2d7c 170px,#0c2b75 180px,#0c286e 190px,#0b266c 200px,#0b2569 210px,#0a2366 220px,#0a2264 230px,#0a2061 240px,#0a2060 250px,#0a205f 260px,#0a1f5e 270px,#0a1f5d 280px,#0a1e5c 290px,#0a1e5b 300px,#0a1d5a 310px,#0a1c57 320px,#0b1950 330px,#0b194f 332px,#0d184b 334px,#141543 336px,#1d1138 338px,#280d2d 340px,#320b25 342px,#370920 344px,#3d0a20 350px,#430a1f 360px,#450a1f 370px,#470a1f 380px,#490a1f 390px,#4b0a1f 400px,#4e0a1e 410px,#4f0b1f 420px,#510b1f 430px,#550b20 440px,#580c20 450px,#5b0c21 460px,#5e0c21 470px,#610d22 480px,#640d23 490px,#670e23 500px,#6a0e24 510px,#751027 520px,#81122a 530px,#83122a 540px,#85122a 550px,#88122a 560px,#87112a 570px,#85112a 580px,#831129 590px,#811129 600px,#7f1128 610px,#7d1128 620px,#7a1027 630px,#771026 640px,#740f25 650px,#710f24 660px,#6d0f23 670px,#6d0f23 680px)"></i>
<i style="top:232px;height:3px;background:linear-gradient(90deg,#0a47a4 0px,#0a47a4 10px,#0a46a4 20px,#0a45a3 30px,#0a44a3 40px,#0a44a2 50px,#0a43a2 60px,#0a42a2 70px,#0a41a1 80px,#0a41a1 90px,#0a40a1 100px,#0a3d9c 110px,#0a3b98 120px,#0b3893 130px,#0b368f 140px,#0c338a 150px,#0c3083 160px,#0c2d7c 170px,#0c2b75 180px,#0c286e 190px,#0b266c 200px,#0b2569 210px,#0a2366 220px,#0a2264 230px,#0a2061 240px,#0a2060 250px,#0a1f5f 260px,#0a1f5e 270px,#0a1e5d 280px,#0a1e5c 290px,#0a1e5b 300px,#0a1d59 310px,#0a1c56 320px,#0b194f 330px,#0b194e 332px,#0e174a 334px,#151441 336px,#1e1036 338px,#290d2c 340px,#320a24 342px,#380920 344px,#3d0a1f 350px,#420a1f 360px,#450a1f 370px,#470a1f 380px,#490a1f 390px,#4b0a1e 400px,#4d0a1e 410px,#4f0b1f 420px,#510b1f 430px,#540b20 440px,#570c20 450px,#5b0c21 460px,#5e0c21 470px,#610d22 480px,#640d23 490px,#670e23 500px,#6a0e24 510px,#751027 520px,#81122a 530px,#83122a 540px,#85122a 550px,#88122a 560px,#87112a 570px,#85112a 580px,#831129 590px,#811129 600px,#7f1128 610px,#7d1128 620px,#7a1027 630px,#771026 640px,#740f25 650px,#710f24 660px,#6d0f23 670px,#6d0f23 680px)"></i>
<i style="top:235px;height:3px;background:linear-gradient(90deg,#0a47a4 0px,#0a47a4 10px,#0a46a4 20px,#0a45a3 30px,#0a44a3 40px,#0a44a2 50px,#0a43a2 60px,#0a42a2 70px,#0a41a1 80px,#0a41a1 90px,#0a40a1 100px,#0a3d9c 110px,#0a3b98 120px,#0b3893 130px,#0b368f 140px,#0c338a 150px,#0c3083 160px,#0c2d7c 170px,#0c2b75 180px,#0c286e 190px,#0b266c 200px,#0b2569 210px,#0a2366 220px,#0a2263 230px,#0a2061 240px,#0a2060 250px,#0a1f5e 260px,#0a1f5d 270px,#0a1e5c 280px,#0a1e5b 290px,#0a1d5a 300px,#0a1d59 310px,#0a1c56 320px,#0b194f 330px,#0b194e 332px,#0e1749 334px,#16143f 336px,#201035 338px,#2a0d2b 340px,#330a23 342px,#380920 344px,#3d0a1f 350px,#420a1f 360px,#440a1f 370px,#460a1f 380px,#480a1e 390px,#4a0a1e 400px,#4d0a1e 410px,#4e0a1f 420px,#500b1f 430px,#540b1f 440px,#570b20 450px,#5a0c21 460px,#5e0c21 470px,#610d22 480px,#640d23 490px,#670e23 500px,#6a0e24 510px,#751027 520px,#80122a 530px,#83122a 540px,#85122a 550px,#88122a 560px,#87112a 570px,#85112a 580px,#831129 590px,#811129 600px,#7f1128 610px,#7d1128 620px,#7a1027 630px,#771026 640px,#740f25 650px,#700f24 660px,#6d0f23 670px,#6d0f23 680px)"></i>
<i style="top:238px;height:3px;background:linear-gradient(90deg,#0a47a4 0px,#0a47a4 10px,#0a46a4 20px,#0a45a3 30px,#0a44a3 40px,#0a44a3 50px,#0a43a2 60px,#0a42a2 70px,#0a41a1 80px,#0a41a1 90px,#0a40a1 100px,#0a3d9c 110px,#0a3b98 120px,#0b3893 130px,#0b358f 140px,#0c338a 150px,#0c3083 160px,#0c2d7c 170px,#0c2b75 180px,#0c286e 190px,#0b266b 200px,#0b2569 210px,#0a2366 220px,#0a2263 230px,#0a2060 240px,#0a205f 250px,#0a1f5e 260px,#0a1f5d 270px,#0a1e5c 280px,#0a1e5b 290px,#0a1d5a 300px,#0a1d59 310px,#0a1b55 320px,#0b194e 330px,#0b184d 332px,#0f1647 334px,#17133e 336px,#210f33 338px,#2b0c29 340px,#340a22 342px,#380920 344px,#3d0a1f 350px,#420a1f 360px,#440a1f 370px,#460a1e 380px,#480a1e 390px,#4a0a1e 400px,#4c0a1e 410px,#4e0a1e 420px,#500b1f 430px,#530b1f 440px,#560b20 450px,#5a0c21 460px,#5d0c21 470px,#600d22 480px,#630d23 490px,#660e23 500px,#6a0e24 510px,#751027 520px,#80122a 530px,#83122a 540px,#85122a 550px,#88122a 560px,#87112a 570px,#85112a 580px,#831129 590px,#811129 600px,#7f1128 610px,#7d1128 620px,#7a1027 630px,#771026 640px,#730f25 650px,#700f24 660px,#6d0f23 670px,#6d0f23 680px)"></i>
<i style="top:241px;height:3px;background:linear-gradient(90deg,#0a47a4 0px,#0a47a4 10px,#0a46a4 20px,#0a45a3 30px,#0a44a3 40px,#0a44a3 50px,#0a43a2 60px,#0a42a2 70px,#0a41a1 80px,#0a41a1 90px,#0a40a1 100px,#0a3d9c 110px,#0a3b98 120px,#0b3893 130px,#0b358f 140px,#0c338a 150px,#0c3083 160px,#0c2d7c 170px,#0c2b75 180px,#0c286e 190px,#0b266b 200px,#0b2569 210px,#0a2366 220px,#0a2263 230px,#0a2060 240px,#0a205f 250px,#0a1f5e 260px,#0a1f5d 270px,#0a1e5c 280px,#0a1e5b 290px,#0a1d5a 300px,#0a1d59 310px,#0a1b54 320px,#0b194e 330px,#0b184d 331px,#0d174a 333px,#141441 335px,#1d1137 337px,#270d2d 339px,#2c0c28 340px,#310a24 341px,#370920 343px,#3d0a1f 350px,#420a1f 360px,#440a1e 370px,#460a1e 380px,#480a1e 390px,#4a0a1e 400px,#4c0a1e 410px,#4d0a1e 420px,#4f0a1f 430px,#520b1f 440px,#560b20 450px,#590c21 460px,#5d0c21 470px,#600d22 480px,#630d23 490px,#660e23 500px,#690e24 510px,#751027 520px,#80122a 530px,#83122a 540px,#85122a 550px,#88122a 560px,#87112a 570px,#851129 580px,#831129 590px,#811128 600px,#7f1128 610px,#7d1128 620px,#7a1027 630px,#761026 640px,#730f25 650px,#700f24 660px,#6d0f23 670px,#6d0f23 680px)"></i>
<i style="top:244px;height:3px;background:linear-gradient(90deg,#0a47a4 0px,#0a47a4 10px,#0a46a4 20px,#0a45a3 30px,#0a44a3 40px,#0a44a3 50px,#0a43a2 60px,#0a42a2 70px,#0a41a1 80px,#0a41a1 90px,#0a40a1 100px,#0a3d9c 110px,#0a3b98 120px,#0b3893 130px,#0b358f 140px,#0c338a 150px,#0c3083 160px,#0c2d7c 170px,#0c2b75 180px,#0c286e 190px,#0b266b 200px,#0b2568 210px,#0a2366 220px,#0a2263 230px,#0a2060 240px,#0a205f 250px,#0a1f5e 260px,#0a1f5d 270px,#0a1e5c 280px,#0a1e5a 290px,#0a1d59 300px,#0a1d58 310px,#0a1b54 320px,#0b184d 330px,#0b184d 331px,#0e1749 333px,#151440 335px,#1e1035 337px,#280d2b 339px,#2d0b27 340px,#320a23 341px,#370920 343px,#3d0a1f 350px,#420a1e 360px,#440a1e 370px,#450a1e 380px,#470a1e 390px,#490a1e 400px,#4b0a1e 410px,#4d0a1e 420px,#4e0a1e 430px,#520b1f 440px,#550b20 450px,#590c20 460px,#5d0c21 470px,#600d22 480px,#630d23 490px,#660e23 500px,#690e24 510px,#751027 520px,#80122a 530px,#83122a 540px,#85122a 550px,#88122a 560px,#87112a 570px,#851129 580px,#831129 590px,#811128 600px,#7f1128 610px,#7d1128 620px,#7a1027 630px,#761026 640px,#730f25 650px,#700f24 660px,#6d0f23 670px,#6d0f23 680px)"></i>
<i style="top:247px;height:3px;background:linear-gradient(90deg,#0a47a4 0px,#0a47a4 10px,#0a46a4 20px,#0a45a3 30px,#0a44a3 40px,#0a44a3 50px,#0a43a2 60px,#0a42a2 70px,#0a41a1 80px,#0a41a1 90px,#0a40a1 100px,#0a3d9c 110px,#0a3b98 120px,#0b3893 130px,#0b358f 140px,#0c338a 150px,#0c3083 160px,#0c2d7c 170px,#0c2b75 180px,#0c286e 190px,#0b266b 200px,#0b2568 210px,#0a2366 220px,#0a2263 230px,#0a2060 240px,#0a205f 250px,#0a1f5e 260px,#0a1e5c 270px,#0a1e5b 280px,#0a1d5a 290px,#0a1d59 300px,#0a1c58 310px,#0a1b53 320px,#0b184d 330px,#0b184c 331px,#0e1647 333px,#16133e 335px,#1f1034 337px,#2a0c2a 339px,#2e0b26 340px,#320a23 341px,#370920 343px,#3d091f 350px,#410a1e 360px,#430a1e 370px,#450a1e 380px,#470a1e 390px,#490a1e 400px,#4b0a1e 410px,#4c0a1e 420px,#4e0a1e 430px,#510b1f 440px,#550b20 450px,#590c20 460px,#5c0c21 470px,#5f0d22 480px,#630d23 490px,#660e23 500px,#690e24 510px,#751027 520px,#80122a 530px,#82122a 540px,#85122a 550px,#88122a 560px,#87112a 570px,#851129 580px,#831129 590px,#811128 600px,#7f1128 610px,#7d1128 620px,#791027 630px,#761026 640px,#730f25 650px,#700f24 660px,#6d0f23 670px,#6d0f23 680px)"></i>
<i style="top:250px;height:3px;background:linear-gradient(90deg,#0a47a4 0px,#0a47a4 10px,#0a46a4 20px,#0a45a3 30px,#0a44a3 40px,#0a43a3 50px,#0a43a2 60px,#0a42a2 70px,#0a41a1 80px,#0a40a1 90px,#0a40a1 100px,#0a3d9c 110px,#0a3b97 120px,#0b3893 130px,#0b358e 140px,#0c338a 150px,#0c3083 160px,#0c2d7c 170px,#0c2a75 180px,#0c286e 190px,#0b266b 200px,#0b2568 210px,#0a2365 220px,#0a2263 230px,#0a2060 240px,#0a1f5e 250px,#0a1f5d 260px,#0a1e5c 270px,#0a1e5b 280px,#0a1d5a 290px,#0a1d59 300px,#0a1c58 310px,#0a1a53 320px,#0b184c 330px,#0b184b 331px,#0f1646 333px,#17133d 335px,#200f32 337px,#2b0c29 339px,#2f0b25 340px,#330a22 341px,#370920 343px,#3c091f 350px,#410a1e 360px,#430a1e 370px,#450a1e 380px,#470a1e 390px,#480a1e 400px,#4a0a1e 410px,#4c0a1e 420px,#4d0a1e 430px,#510b1f 440px,#550b20 450px,#580c20 460px,#5c0c21 470px,#5f0d22 480px,#620d23 490px,#660e23 500px,#690e24 510px,#741027 520px,#80122a 530px,#82122a 540px,#85122a 550px,#88122a 560px,#86112a 570px,#841129 580px,#821129 590px,#801128 600px,#7e1128 610px,#7c1128 620px,#791027 630px,#761026 640px,#730f25 650px,#700f24 660px,#6c0f23 670px,#6c0f23 680px)"></i>
<i style="top:253px;height:3px;background:linear-gradient(90deg,#0a47a4 0px,#0a47a4 10px,#0a46a4 20px,#0a45a3 30px,#0a44a3 40px,#0a43a3 50px,#0a43a2 60px,#0a42a2 70px,#0a41a1 80px,#0a40a1 90px,#0a40a1 100px,#0a3d9c 110px,#0a3a97 120px,#0b3893 130px,#0b358e 140px,#0c338a 150px,#0c3083 160px,#0c2d7c 170px,#0c2a75 180px,#0c286e 190px,#0b266b 200px,#0b2568 210px,#0a2365 220px,#0a2162 230px,#0a205f 240px,#0a1f5e 250px,#0a1f5d 260px,#0a1e5c 270px,#0a1e5b 280px,#0a1d5a 290px,#0a1d58 300px,#0a1c57 310px,#0a1a52 320px,#0b184c 330px,#0d1748 332px,#131440 334px,#1d1036 336px,#270d2c 338px,#300a24 340px,#360920 342px,#3c091f 350px,#410a1e 360px,#430a1e 370px,#440a1e 380px,#460a1e 390px,#480a1e 400px,#490a1e 410px,#4b0a1e 420px,#4d0a1e 430px,#500a1f 440px,#540b1f 450px,#580b20 460px,#5b0c21 470px,#5f0c22 480px,#620d22 490px,#650e23 500px,#690e24 510px,#741027 520px,#80122a 530px,#82122a 540px,#85122a 550px,#88122a 560px,#86112a 570px,#841129 580px,#821129 590px,#801128 600px,#7e1128 610px,#7c1128 620px,#791027 630px,#761026 640px,#730f25 650px,#6f0f24 660px,#6c0f23 670px,#6c0f23 680px)"></i>
<i style="top:256px;height:3px;background:linear-gradient(90deg,#0a47a4 0px,#0a47a4 10px,#0a46a4 20px,#0a45a3 30px,#0a44a3 40px,#0a43a3 50px,#0a43a2 60px,#0a42a2 70px,#0a41a1 80px,#0a40a1 90px,#0a40a1 100px,#0a3d9c 110px,#0a3a97 120px,#0b3893 130px,#0b358e 140px,#0c338a 150px,#0c3083 160px,#0c2d7c 170px,#0c2a75 180px,#0c286e 190px,#0b266b 200px,#0b2568 210px,#0a2365 220px,#0a2162 230px,#0a205f 240px,#0a1f5e 250px,#0a1f5d 260px,#0a1e5c 270px,#0a1e5a 280px,#0a1d59 290px,#0a1d58 300px,#0a1c57 310px,#0a1a52 320px,#0b184b 330px,#0d1647 332px,#14133f 334px,#1e1035 336px,#280d2b 338px,#310a23 340px,#36091f 342px,#3c091f 350px,#410a1e 360px,#430a1e 370px,#440a1e 380px,#460a1e 390px,#470a1e 400px,#490a1e 410px,#4a0a1e 420px,#4c0a1e 430px,#500a1f 440px,#540b1f 450px,#570b20 460px,#5b0c21 470px,#5e0c22 480px,#620d22 490px,#650e23 500px,#680e24 510px,#741027 520px,#7f122a 530px,#82122a 540px,#85122a 550px,#88122a 560px,#86112a 570px,#841129 580px,#821129 590px,#801128 600px,#7e1128 610px,#7c1128 620px,#791027 630px,#761026 640px,#730f25 650px,#6f0f24 660px,#6c0f23 670px,#6c0f23 680px)"></i>
<i style="top:259px;height:3px;background:linear-gradient(90deg,#0a47a4 0px,#0a47a4 10px,#0a46a4 20px,#0a45a4 30px,#0a44a3 40px,#0a43a3 50px,#0a43a2 60px,#0a42a2 70px,#0a41a1 80px,#0a40a1 90px,#0a40a1 100px,#0a3d9c 110px,#0a3a97 120px,#0b3893 130px,#0b358e 140px,#0c338a 150px,#0c3083 160px,#0c2d7c 170px,#0c2a75 180px,#0c286e 190px,#0b266b 200px,#0b2468 210px,#0a2365 220px,#0a2162 230px,#0a205f 240px,#0a1f5e 250px,#0a1f5d 260px,#0a1e5b 270px,#0a1e5a 280px,#0a1d59 290px,#0a1c58 300px,#0a1c57 310px,#0a1a51 320px,#0b174b 330px,#0e1646 332px,#16133d 334px,#1f0f33 336px,#290c2a 338px,#320a22 340px,#36091f 342px,#3c091e 350px,#410a1e 360px,#420a1e 370px,#440a1e 380px,#450a1e 390px,#470a1e 400px,#480a1e 410px,#4a0a1e 420px,#4b0a1e 430px,#4f0a1f 440px,#530b1f 450px,#570b20 460px,#5b0c21 470px,#5e0c22 480px,#610d22 490px,#650e23 500px,#680e24 510px,#741027 520px,#7f122a 530px,#82122a 540px,#85122a 550px,#88122a 560px,#861129 570px,#841129 580px,#821129 590px,#801128 600px,#7e1128 610px,#7c1128 620px,#791027 630px,#761026 640px,#720f25 650px,#6f0f24 660px,#6c0f23 670px,#6c0f23 680px)"></i>
<i style="top:262px;height:3px;background:linear-gradient(90deg,#0a47a4 0px,#0a47a4 10px,#0a46a4 20px,#0a45a4 30px,#0a44a3 40px,#0a43a3 50px,#0a43a2 60px,#0a42a2 70px,#0a41a1 80px,#0a40a1 90px,#0a40a1 100px,#0a3d9c 110px,#0a3a97 120px,#0b3893 130px,#0b358e 140px,#0c338a 150px,#0c3083 160px,#0c2d7c 170px,#0c2a75 180px,#0c286e 190px,#0b266b 200px,#0b2468 210px,#0a2365 220px,#0a2162 230px,#0a205f 240px,#0a1f5e 250px,#0a1f5c 260px,#0a1e5b 270px,#0a1d5a 280px,#0a1d59 290px,#0a1c57 300px,#0a1c56 310px,#0a1a50 320px,#0b174a 330px,#0f1544 332px,#17123b 334px,#210f31 336px,#2b0c28 338px,#330921 340px,#36091f 342px,#3c091e 350px,#410a1e 360px,#420a1e 370px,#440a1e 380px,#450a1e 390px,#460a1e 400px,#480a1e 410px,#490a1e 420px,#4b0a1e 430px,#4f0a1e 440px,#530b1f 450px,#560b20 460px,#5a0c21 470px,#5e0c22 480px,#610d22 490px,#650e23 500px,#680e24 510px,#741027 520px,#7f122a 530px,#82122a 540px,#85122a 550px,#88122a 560px,#861129 570px,#841129 580px,#821129 590px,#801128 600px,#7e1128 610px,#7c1128 620px,#791027 630px,#751026 640px,#720f25 650px,#6f0f24 660px,#6c0f23 670px,#6c0f23 680px)"></i>
<i style="top:265px;height:3px;background:linear-gradient(90deg,#0a47a4 0px,#0a47a4 10px,#0a46a4 20px,#0a45a4 30px,#0a44a3 40px,#0a43a3 50px,#0a43a2 60px,#0a42a2 70px,#0a41a1 80px,#0a40a1 90px,#0a40a1 100px,#0a3d9c 110px,#0a3a97 120px,#0b3893 130px,#0b358e 140px,#0c338a 150px,#0c3083 160px,#0c2d7c 170px,#0c2a75 180px,#0c286e 190px,#0b266b 200px,#0b2468 210px,#0a2365 220px,#0a2162 230px,#0a205f 240px,#0a1f5d 250px,#0a1e5c 260px,#0a1e5b 270px,#0a1d5a 280px,#0a1d58 290px,#0a1c57 300px,#0a1c56 310px,#0a1950 320px,#0b174a 329px,#0b1749 330px,#0d1646 331px,#14133e 333px,#1d1034 335px,#270c2b 337px,#300a23 339px,#340920 340px,#36091f 341px,#3c091e 350px,#400a1e 360px,#420a1e 370px,#430a1e 380px,#450a1e 390px,#460a1e 400px,#470a1e 410px,#490a1e 420px,#4a0a1e 430px,#4e0a1e 440px,#520b1f 450px,#560b20 460px,#5a0c21 470px,#5d0c21 480px,#610d22 490px,#640e23 500px,#680e24 510px,#741027 520px,#7f122a 530px,#82122a 540px,#85122a 550px,#88122a 560px,#861129 570px,#841129 580px,#821129 590px,#801128 600px,#7e1128 610px,#7c1128 620px,#781027 630px,#751026 640px,#720f25 650px,#6f0f24 660px,#6c0f23 670px,#6c0f23 680px)"></i>
<i style="top:268px;height:3px;background:linear-gradient(90deg,#0a47a4 0px,#0a47a4 10px,#0a46a4 20px,#0a45a4 30px,#0a44a3 40px,#0a43a3 50px,#0a43a2 60px,#0a42a2 70px,#0a41a1 80px,#0a40a1 90px,#0a40a1 100px,#0a3d9c 110px,#0a3a97 120px,#0b3893 130px,#0b358e 140px,#0c338a 150px,#0c3083 160px,#0c2d7c 170px,#0c2a75 180px,#0c286e 190px,#0b266b 200px,#0b2468 210px,#0a2365 220px,#0a2162 230px,#0a205f 240px,#0a1f5d 250px,#0a1e5c 260px,#0a1e5b 270px,#0a1d59 280px,#0a1d58 290px,#0a1c57 300px,#0a1c56 310px,#0a194f 320px,#0b1749 329px,#0c1648 330px,#0e1545 331px,#15123c 333px,#1f0f32 335px,#290c29 337px,#310a22 339px,#340920 340px,#36091f 341px,#3c091e 350px,#400a1e 360px,#420a1e 370px,#430a1e 380px,#440a1e 390px,#460a1e 400px,#470a1e 410px,#480a1e 420px,#4a0a1e 430px,#4e0a1e 440px,#520b1f 450px,#560b20 460px,#5a0c21 470px,#5d0c21 480px,#610d22 490px,#640e23 500px,#680e24 510px,#741027 520px,#7f122a 530px,#82122a 540px,#85122a 550px,#88122a 560px,#861129 570px,#841129 580px,#821129 590px,#801128 600px,#7e1128 610px,#7c1128 620px,#781027 630px,#751026 640px,#720f25 650px,#6f0f24 660px,#6c0f23 670px,#6c0f23 680px)"></i>
<i style="top:271px;height:3px;background:linear-gradient(90deg,#0a47a5 0px,#0a47a5 10px,#0a46a4 20px,#0a45a4 30px,#0a44a3 40px,#0a43a3 50px,#0a43a2 60px,#0a42a2 70px,#0a41a1 80px,#0a40a1 90px,#0a40a1 100px,#0a3d9c 110px,#0a3a97 120px,#0b3893 130px,#0b358e 140px,#0c338a 150px,#0c3083 160px,#0c2d7c 170px,#0c2a75 180px,#0c286e 190px,#0b266b 200px,#0b2468 210px,#0a2365 220px,#0a2162 230px,#0a205f 240px,#0a1f5d 250px,#0a1e5c 260px,#0a1e5b 270px,#0a1d5a 280px,#0a1d58 290px,#0a1c57 300px,#0a1c56 310px,#0a194f 320px,#0b174a 329px,#0d1648 330px,#0f1544 331px,#17123b 333px,#210f31 335px,#2b0c28 337px,#330921 339px,#36091f 340px,#37091f 341px,#3d091e 350px,#410a1e 360px,#420a1e 370px,#440a1e 380px,#450a1e 390px,#460a1e 400px,#470a1e 410px,#490a1e 420px,#4a0a1e 430px,#4e0a1e 440px,#520b1f 450px,#560b20 460px,#5a0c21 470px,#5d0c21 480px,#610d22 490px,#640e23 500px,#680e24 510px,#731027 520px,#7e1129 530px,#811129 540px,#841129 550px,#871129 560px,#851129 570px,#831129 580px,#821129 590px,#801128 600px,#7e1128 610px,#7c1027 620px,#781027 630px,#751026 640px,#720f25 650px,#6f0f24 660px,#6c0f23 670px,#6c0f23 680px)"></i>
<i style="top:274px;height:3px;background:linear-gradient(90deg,#0a47a5 0px,#0a47a5 10px,#0a46a4 20px,#0a45a4 30px,#0a44a3 40px,#0a43a3 50px,#0a43a2 60px,#0a42a2 70px,#0a41a2 80px,#0a40a1 90px,#0a40a1 100px,#0a3d9c 110px,#0a3a97 120px,#0b3893 130px,#0b358e 140px,#0c338a 150px,#0c3083 160px,#0c2d7c 170px,#0c2a75 180px,#0c286e 190px,#0b266b 200px,#0b2568 210px,#0a2365 220px,#0a2162 230px,#0a205f 240px,#0a1f5e 250px,#0a1f5c 260px,#0a1e5b 270px,#0a1e5a 280px,#0a1d59 290px,#0a1c57 300px,#0a1c56 310px,#0a1950 320px,#0b184b 328px,#0d1647 330px,#15133f 332px,#1e1035 334px,#290d2b 336px,#320a23 338px,#38091f 340px,#3e091e 350px,#420a1e 360px,#430a1e 370px,#450a1e 380px,#460a1e 390px,#470a1e 400px,#480a1e 410px,#4a0a1e 420px,#4b0a1e 430px,#4f0a1e 440px,#520b1f 450px,#560b20 460px,#5a0c21 470px,#5d0c21 480px,#610d22 490px,#640e23 500px,#680e24 510px,#721027 520px,#7d1129 530px,#811129 540px,#841129 550px,#871129 560px,#851129 570px,#831129 580px,#821129 590px,#801128 600px,#7e1128 610px,#7c1027 620px,#781027 630px,#751026 640px,#720f25 650px,#6f0f24 660px,#6c0f23 670px,#6c0f23 680px)"></i>
<i style="top:277px;height:3px;background:linear-gradient(90deg,#0a47a5 0px,#0a47a5 10px,#0a46a4 20px,#0a45a4 30px,#0a44a3 40px,#0a44a3 50px,#0a43a2 60px,#0a42a2 70px,#0a41a2 80px,#0a40a1 90px,#0a40a1 100px,#0a3d9c 110px,#0a3a98 120px,#0b3893 130px,#0b358e 140px,#0c338a 150px,#0c3083 160px,#0c2d7c 170px,#0c2b75 180px,#0c286e 190px,#0b266b 200px,#0b2568 210px,#0a2365 220px,#0a2262 230px,#0a205f 240px,#0a1f5e 250px,#0a1f5d 260px,#0a1e5c 270px,#0a1e5a 280px,#0a1d59 290px,#0a1d58 300px,#0a1c57 310px,#0a1a50 320px,#0b184b 328px,#0f1647 330px,#17133e 332px,#210f33 334px,#2c0c2a 336px,#350a22 338px,#39091f 340px,#400a1e 350px,#430a1e 360px,#450a1e 370px,#460a1e 380px,#470a1e 390px,#480a1e 400px,#490a1e 410px,#4a0a1e 420px,#4c0a1e 430px,#4f0a1f 440px,#530b1f 450px,#570b20 460px,#5a0c21 470px,#5e0c21 480px,#610d22 490px,#640e23 500px,#680e24 510px,#721026 520px,#7d1129 530px,#801129 540px,#831129 550px,#861129 560px,#841129 570px,#831129 580px,#821129 590px,#801128 600px,#7e1128 610px,#7c1027 620px,#781027 630px,#751026 640px,#720f25 650px,#6f0f24 660px,#6c0f23 670px,#6c0f23 680px)"></i>
<i style="top:280px;height:3px;background:linear-gradient(90deg,#0a47a5 0px,#0a47a5 10px,#0a46a4 20px,#0a45a4 30px,#0a44a3 40px,#0a44a3 50px,#0a43a3 60px,#0a42a2 70px,#0a41a2 80px,#0a41a1 90px,#0a40a1 100px,#0a3d9c 110px,#0a3b98 120px,#0b3893 130px,#0b358e 140px,#0c338a 150px,#0c3083 160px,#0c2d7c 170px,#0c2b75 180px,#0c286f 190px,#0b266c 200px,#0b2569 210px,#0a2366 220px,#0a2263 230px,#0a2060 240px,#0a205e 250px,#0a1f5d 260px,#0a1e5c 270px,#0a1e5b 280px,#0a1d59 290px,#0a1d58 300px,#0a1c57 310px,#0b1a51 320px,#0b184c 328px,#101646 330px,#19133d 332px,#230f32 334px,#2e0c29 336px,#370a22 338px,#3b091f 340px,#410a1f 350px,#450a1e 360px,#460a1e 370px,#470a1e 380px,#480a1e 390px,#490a1e 400px,#4a0a1e 410px,#4b0a1e 420px,#4c0a1e 430px,#500a1f 440px,#540b1f 450px,#570b20 460px,#5b0c21 470px,#5e0c22 480px,#610d22 490px,#640e23 500px,#670e24 510px,#711026 520px,#7c1128 530px,#7f1129 540px,#831129 550px,#851129 560px,#841129 570px,#831129 580px,#821129 590px,#801128 600px,#7e1128 610px,#7c1027 620px,#791027 630px,#751026 640px,#720f25 650px,#6f0f24 660px,#6c0f23 670px,#6c0f23 680px)"></i>
<i style="top:283px;height:3px;background:linear-gradient(90deg,#0a47a5 0px,#0a47a5 10px,#0a46a4 20px,#0a45a4 30px,#0a44a3 40px,#0a44a3 50px,#0a43a3 60px,#0a42a2 70px,#0a41a2 80px,#0a41a1 90px,#0a40a1 100px,#0a3d9c 110px,#0a3b98 120px,#0b3893 130px,#0b358f 140px,#0c338a 150px,#0c3083 160px,#0c2d7c 170px,#0c2b76 180px,#0c286f 190px,#0b266c 200px,#0b2569 210px,#0a2366 220px,#0a2263 230px,#0a2060 240px,#0a205f 250px,#0a1f5d 260px,#0a1f5c 270px,#0a1e5b 280px,#0a1e5a 290px,#0a1d59 300px,#0a1c57 310px,#0b1a51 320px,#0b184d 327px,#0e1749 329px,#111645 330px,#161441 331px,#201036 333px,#2c0d2c 335px,#360a24 337px,#3b0920 339px,#3c091f 340px,#420a1f 350px,#460a1e 360px,#470a1e 370px,#480a1e 380px,#490a1e 390px,#4a0a1e 400px,#4b0a1e 410px,#4c0a1e 420px,#4d0a1e 430px,#510a1f 440px,#540b1f 450px,#580b20 460px,#5b0c21 470px,#5e0c22 480px,#610d22 490px,#640e23 500px,#670e24 510px,#710f26 520px,#7b1128 530px,#7f1129 540px,#821129 550px,#851129 560px,#841129 570px,#831129 580px,#821129 590px,#801128 600px,#7e1128 610px,#7c1027 620px,#791027 630px,#761026 640px,#730f25 650px,#700f24 660px,#6d0f23 670px,#6d0f23 680px)"></i>
<i style="top:286px;height:3px;background:linear-gradient(90deg,#0a47a5 0px,#0a47a5 10px,#0a46a4 20px,#0a45a4 30px,#0a44a4 40px,#0a44a3 50px,#0a43a3 60px,#0a42a2 70px,#0a41a2 80px,#0a41a1 90px,#0a40a1 100px,#0a3d9c 110px,#0a3b98 120px,#0b3893 130px,#0b358f 140px,#0c338a 150px,#0c3083 160px,#0c2d7d 170px,#0c2b76 180px,#0c286f 190px,#0b276c 200px,#0b2569 210px,#0a2466 220px,#0a2263 230px,#0a2160 240px,#0a205f 250px,#0a1f5e 260px,#0a1f5c 270px,#0a1e5b 280px,#0a1e5a 290px,#0a1d59 300px,#0a1d58 310px,#0b1a52 320px,#0b194d 327px,#0f1749 329px,#131544 330px,#18143f 331px,#231035 333px,#2f0d2b 335px,#380a23 337px,#3d0920 339px,#3d0920 340px,#430a1f 350px,#470a1e 360px,#480a1e 370px,#490a1e 380px,#4a0a1e 390px,#4b0a1e 400px,#4b0a1e 410px,#4d0a1e 420px,#4e0a1e 430px,#510b1f 440px,#550b20 450px,#580b20 460px,#5b0c21 470px,#5e0c22 480px,#610d22 490px,#640e23 500px,#670e24 510px,#700f26 520px,#7a1128 530px,#7e1128 540px,#811129 550px,#841129 560px,#831129 570px,#821129 580px,#821129 590px,#801128 600px,#7e1128 610px,#7c1027 620px,#791027 630px,#761026 640px,#730f25 650px,#700f24 660px,#6d0f23 670px,#6d0f23 680px)"></i>
<i style="top:289px;height:3px;background:linear-gradient(90deg,#0a47a5 0px,#0a47a5 10px,#0a46a5 20px,#0a45a4 30px,#0a44a4 40px,#0a44a3 50px,#0a43a3 60px,#0a42a2 70px,#0a41a2 80px,#0a41a1 90px,#0a40a1 100px,#0a3d9c 110px,#0a3b98 120px,#0b3893 130px,#0b368f 140px,#0c338a 150px,#0c3083 160px,#0c2e7d 170px,#0c2b76 180px,#0c286f 190px,#0b276c 200px,#0b2569 210px,#0a2467 220px,#0a2264 230px,#0a2161 240px,#0a205f 250px,#0a1f5e 260px,#0a1f5d 270px,#0a1e5c 280px,#0a1e5b 290px,#0a1d59 300px,#0a1d58 310px,#0b1a52 320px,#0c194d 327px,#101748 329px,#151543 330px,#1a133e 331px,#251033 333px,#310c29 335px,#3b0a22 337px,#3e0920 339px,#3f0a20 340px,#450a1f 350px,#480a1f 360px,#490a1f 370px,#4a0a1e 380px,#4b0a1e 390px,#4b0a1e 400px,#4c0a1e 410px,#4d0a1e 420px,#4f0a1e 430px,#520b1f 440px,#550b20 450px,#580c20 460px,#5c0c21 470px,#5f0c22 480px,#610d22 490px,#640e23 500px,#670e24 510px,#700f26 520px,#791028 530px,#7d1128 540px,#811128 550px,#841129 560px,#831129 570px,#821129 580px,#821129 590px,#801128 600px,#7e1128 610px,#7c1027 620px,#791027 630px,#761026 640px,#730f25 650px,#700f24 660px,#6d0f23 670px,#6d0f23 680px)"></i>
<i style="top:292px;height:3px;background:linear-gradient(90deg,#0a47a5 0px,#0a47a5 10px,#0a46a5 20px,#0a45a4 30px,#0a45a4 40px,#0a44a3 50px,#0a43a3 60px,#0a42a2 70px,#0a42a2 80px,#0a41a1 90px,#0a40a1 100px,#0a3d9c 110px,#0a3b98 120px,#0b3893 130px,#0b368f 140px,#0c338a 150px,#0c3084 160px,#0c2e7d 170px,#0c2b76 180px,#0c2870 190px,#0b276d 200px,#0b256a 210px,#0a2467 220px,#0a2264 230px,#0a2161 240px,#0a205f 250px,#0a205e 260px,#0a1f5d 270px,#0a1f5c 280px,#0a1e5b 290px,#0a1e5a 300px,#0a1d59 310px,#0b1b52 320px,#0b194f 326px,#0e184b 328px,#171542 330px,#221137 332px,#2e0e2d 334px,#390b24 336px,#3f0a20 338px,#400a20 340px,#460a1f 350px,#490a1f 360px,#4a0a1f 370px,#4b0a1f 380px,#4c0a1e 390px,#4c0a1e 400px,#4d0a1e 410px,#4e0a1e 420px,#4f0a1e 430px,#530b1f 440px,#560b20 450px,#590c20 460px,#5c0c21 470px,#5f0d22 480px,#620d22 490px,#640e23 500px,#670e24 510px,#6f0f25 520px,#781027 530px,#7d1128 540px,#801128 550px,#831129 560px,#831129 570px,#821129 580px,#821129 590px,#801128 600px,#7e1028 610px,#7c1027 620px,#791027 630px,#761026 640px,#730f25 650px,#700f24 660px,#6d0f23 670px,#6d0f23 680px)"></i>
<i style="top:295px;height:3px;background:linear-gradient(90deg,#0a47a5 0px,#0a47a5 10px,#0a46a5 20px,#0a45a4 30px,#0a45a4 40px,#0a44a3 50px,#0a43a3 60px,#0a42a2 70px,#0a42a2 80px,#0a41a2 90px,#0a40a1 100px,#0a3d9d 110px,#0a3b98 120px,#0b3893 130px,#0b368f 140px,#0c338a 150px,#0c3084 160px,#0c2e7d 170px,#0c2b76 180px,#0c2870 190px,#0b276d 200px,#0b256a 210px,#0a2467 220px,#0a2264 230px,#0a2161 240px,#0a2060 250px,#0a205f 260px,#0a1f5d 270px,#0a1f5c 280px,#0a1e5b 290px,#0a1e5a 300px,#0a1d59 310px,#0b1b53 320px,#0b194f 326px,#0f184a 328px,#191441 330px,#251136 332px,#310d2b 334px,#3c0b23 336px,#410a20 338px,#420a20 340px,#470a1f 350px,#4a0a1f 360px,#4b0a1f 370px,#4c0a1f 380px,#4c0a1f 390px,#4d0a1e 400px,#4e0a1e 410px,#4f0a1e 420px,#500a1f 430px,#530b1f 440px,#560b20 450px,#590c20 460px,#5c0c21 470px,#5f0d22 480px,#620d22 490px,#640e23 500px,#670e24 510px,#6f0f25 520px,#781027 530px,#7c1028 540px,#801128 550px,#831128 560px,#821128 570px,#821128 580px,#821129 590px,#801128 600px,#7e1028 610px,#7c1027 620px,#791027 630px,#761026 640px,#730f25 650px,#700f24 660px,#6e0f23 670px,#6e0f23 680px)"></i>
<i style="top:298px;height:3px;background:linear-gradient(90deg,#0a47a5 0px,#0a47a5 10px,#0a46a5 20px,#0a45a4 30px,#0a45a4 40px,#0a44a3 50px,#0a43a3 60px,#0a42a2 70px,#0a42a2 80px,#0a41a2 90px,#0a40a1 100px,#0a3e9d 110px,#0a3b98 120px,#0b3894 130px,#0b368f 140px,#0c338a 150px,#0c3084 160px,#0c2e7d 170px,#0c2b77 180px,#0c2870 190px,#0b276d 200px,#0b266a 210px,#0a2467 220px,#0a2365 230px,#0a2162 240px,#0a2060 250px,#0a205f 260px,#0a1f5e 270px,#0a1f5d 280px,#0a1e5c 290px,#0a1e5b 300px,#0a1d59 310px,#0b1b53 320px,#0c194f 326px,#11174a 328px,#1b1440 330px,#281034 332px,#340d2a 334px,#3e0a23 336px,#420a20 338px,#430a20 340px,#490a1f 350px,#4c0a1f 360px,#4c0a1f 370px,#4d0a1f 380px,#4d0a1f 390px,#4e0a1f 400px,#4f0a1e 410px,#500b1f 420px,#510b1f 430px,#540b1f 440px,#570b20 450px,#5a0c21 460px,#5d0c21 470px,#5f0d22 480px,#620d22 490px,#640e23 500px,#670e24 510px,#6e0f25 520px,#771027 530px,#7b1028 540px,#7f1128 550px,#821128 560px,#821128 570px,#821128 580px,#821129 590px,#801128 600px,#7e1028 610px,#7c1027 620px,#791027 630px,#761026 640px,#730f25 650px,#710f24 660px,#6e0f23 670px,#6e0f23 680px)"></i>
<i style="top:301px;height:3px;background:linear-gradient(90deg,#0a47a5 0px,#0a47a5 10px,#0a46a5 20px,#0a45a4 30px,#0a45a4 40px,#0a44a3 50px,#0a43a3 60px,#0a42a3 70px,#0a42a2 80px,#0a41a2 90px,#0a40a1 100px,#0a3e9d 110px,#0a3b98 120px,#0b3894 130px,#0b368f 140px,#0c338b 150px,#0c3184 160px,#0c2e7d 170px,#0c2b77 180px,#0c2970 190px,#0b276e 200px,#0b266b 210px,#0a2468 220px,#0a2365 230px,#0a2162 240px,#0a2160 250px,#0a205f 260px,#0a205e 270px,#0a1f5d 280px,#0a1f5c 290px,#0a1e5b 300px,#0a1e5a 310px,#0b1b54 320px,#0c1a51 325px,#0f194d 327px,#181644 329px,#1e143e 330px,#241239 331px,#310e2e 333px,#3d0b25 335px,#430a20 337px,#450a20 340px,#4a0a20 350px,#4d0b1f 360px,#4d0b1f 370px,#4e0b1f 380px,#4e0b1f 390px,#4f0b1f 400px,#4f0b1f 410px,#510b1f 420px,#520b1f 430px,#550b1f 440px,#570b20 450px,#5a0c21 460px,#5d0c21 470px,#600d22 480px,#620d22 490px,#640e23 500px,#670e23 510px,#6d0f25 520px,#761027 530px,#7b1027 540px,#7f1028 550px,#821128 560px,#821128 570px,#821128 580px,#821129 590px,#801128 600px,#7e1028 610px,#7c1027 620px,#791027 630px,#761026 640px,#730f25 650px,#710f24 660px,#6e0f23 670px,#6e0f23 680px)"></i>
<i style="top:304px;height:3px;background:linear-gradient(90deg,#0a47a5 0px,#0a47a5 10px,#0a46a5 20px,#0a45a4 30px,#0a45a4 40px,#0a44a4 50px,#0a43a3 60px,#0a42a3 70px,#0a42a2 80px,#0a41a2 90px,#0a40a1 100px,#0a3e9d 110px,#0a3b98 120px,#0b3894 130px,#0b368f 140px,#0c338b 150px,#0c3184 160px,#0c2e7e 170px,#0c2b77 180px,#0c2971 190px,#0b276e 200px,#0b266b 210px,#0a2468 220px,#0a2365 230px,#0a2262 240px,#0a2160 250px,#0a205f 260px,#0a205e 270px,#0a1f5d 280px,#0a1f5c 290px,#0a1e5b 300px,#0a1e5a 310px,#0b1b54 320px,#0c1a51 325px,#10184c 327px,#1a1543 329px,#20133d 330px,#271137 331px,#340e2c 333px,#3f0b24 335px,#440a20 337px,#460a20 340px,#4b0a20 350px,#4e0b1f 360px,#4e0b1f 370px,#4f0b1f 380px,#4f0b1f 390px,#500b1f 400px,#500b1f 410px,#510b1f 420px,#520b1f 430px,#550b20 440px,#580c20 450px,#5b0c21 460px,#5d0c21 470px,#600d22 480px,#620d22 490px,#640e23 500px,#670e23 510px,#6d0f25 520px,#751026 530px,#7a1027 540px,#7e1028 550px,#811128 560px,#811128 570px,#811128 580px,#821129 590px,#801128 600px,#7e1028 610px,#7c1027 620px,#791027 630px,#761026 640px,#740f25 650px,#710f24 660px,#6e0f23 670px,#6e0f23 680px)"></i>
<i style="top:307px;height:3px;background:linear-gradient(90deg,#0a47a5 0px,#0a47a5 10px,#0a46a5 20px,#0a45a4 30px,#0a45a4 40px,#0a44a4 50px,#0a43a3 60px,#0a43a3 70px,#0a42a2 80px,#0a41a2 90px,#0a40a1 100px,#0a3e9d 110px,#0a3b98 120px,#0b3994 130px,#0b368f 140px,#0c338b 150px,#0c3184 160px,#0c2e7e 170px,#0c2b77 180px,#0c2971 190px,#0b276e 200px,#0b266b 210px,#0a2568 220px,#0a2365 230px,#0a2263 240px,#0a2161 250px,#0a2060 260px,#0a205f 270px,#0a1f5e 280px,#0a1f5d 290px,#0a1f5c 300px,#0a1e5b 310px,#0b1c55 320px,#0c1a51 325px,#11184c 327px,#1c1541 329px,#23133b 330px,#2a1136 331px,#370d2b 333px,#420b23 335px,#460a20 337px,#470a20 340px,#4c0b20 350px,#4f0b20 360px,#4f0b1f 370px,#500b1f 380px,#500b1f 390px,#510b1f 400px,#510b1f 410px,#520b1f 420px,#530b1f 430px,#560b20 440px,#580c20 450px,#5b0c21 460px,#5e0c21 470px,#600d22 480px,#620d22 490px,#650e23 500px,#670e23 510px,#6c0f25 520px,#741026 530px,#791027 540px,#7e1028 550px,#811128 560px,#811128 570px,#811128 580px,#821129 590px,#801128 600px,#7e1028 610px,#7c1027 620px,#791027 630px,#761026 640px,#740f25 650px,#710f24 660px,#6e0f23 670px,#6e0f23 680px)"></i>
<i style="top:310px;height:3px;background:linear-gradient(90deg,#0a47a5 0px,#0a47a5 10px,#0a46a5 20px,#0a46a5 30px,#0a45a4 40px,#0a44a4 50px,#0a43a3 60px,#0a43a3 70px,#0a42a2 80px,#0a41a2 90px,#0a40a1 100px,#0a3e9d 110px,#0a3b98 120px,#0b3994 130px,#0b368f 140px,#0c338b 150px,#0c3184 160px,#0c2e7e 170px,#0c2c78 180px,#0c2971 190px,#0b276e 200px,#0b266b 210px,#0a2569 220px,#0a2366 230px,#0a2263 240px,#0a2161 250px,#0a2160 260px,#0a205f 270px,#0a205e 280px,#0a1f5d 290px,#0a1f5c 300px,#0a1e5b 310px,#0b1c55 320px,#0c1b53 324px,#0f1a4f 326px,#181646 328px,#25123a 330px,#330f2f 332px,#400c26 334px,#460a21 336px,#490a20 340px,#4e0b20 350px,#500b20 360px,#510b20 370px,#510b1f 380px,#510b1f 390px,#510b1f 400px,#520b1f 410px,#530b1f 420px,#540b1f 430px,#560b20 440px,#590c20 450px,#5c0c21 460px,#5e0c21 470px,#600d22 480px,#620d22 490px,#650e23 500px,#670e23 510px,#6c0f24 520px,#730f26 530px,#791027 540px,#7d1027 550px,#801028 560px,#811128 570px,#811128 580px,#821129 590px,#801128 600px,#7e1028 610px,#7c1027 620px,#791027 630px,#760f26 640px,#740f25 650px,#710f24 660px,#6f0f23 670px,#6f0f23 680px)"></i>
<i style="top:313px;height:3px;background:linear-gradient(90deg,#0a47a5 0px,#0a47a5 10px,#0a46a5 20px,#0a46a5 30px,#0a45a4 40px,#0a44a4 50px,#0a43a3 60px,#0a43a3 70px,#0a42a2 80px,#0a41a2 90px,#0a40a1 100px,#0a3e9d 110px,#0a3b98 120px,#0b3994 130px,#0b368f 140px,#0c338b 150px,#0c3185 160px,#0c2e7e 170px,#0c2c78 180px,#0c2971 190px,#0b286f 200px,#0b266c 210px,#0a2569 220px,#0a2366 230px,#0a2263 240px,#0a2161 250px,#0a2160 260px,#0a205f 270px,#0a205e 280px,#0a1f5d 290px,#0a1f5c 300px,#0a1e5b 310px,#0b1c55 320px,#0c1b53 324px,#0f1a4f 326px,#191646 328px,#27123a 330px,#350f2e 332px,#410c25 334px,#480a21 336px,#4a0a21 340px,#4f0b20 350px,#510b20 360px,#520b20 370px,#520b20 380px,#520b1f 390px,#520b1f 400px,#530b1f 410px,#540b1f 420px,#550b1f 430px,#570b20 440px,#5a0c20 450px,#5c0c21 460px,#5e0c21 470px,#600d22 480px,#630d22 490px,#650e23 500px,#670e23 510px,#6b0e24 520px,#720f26 530px,#781027 540px,#7c1027 550px,#801028 560px,#801028 570px,#811128 580px,#821129 590px,#801128 600px,#7e1028 610px,#7c1027 620px,#791027 630px,#770f26 640px,#740f25 650px,#720f24 660px,#6f0f23 670px,#6f0f23 680px)"></i>
<i style="top:316px;height:3px;background:linear-gradient(90deg,#0a47a6 0px,#0a47a6 10px,#0a46a5 20px,#0a46a5 30px,#0a45a4 40px,#0a44a4 50px,#0a43a3 60px,#0a43a3 70px,#0a42a2 80px,#0a41a2 90px,#0a41a2 100px,#0a3e9d 110px,#0a3b99 120px,#0b3994 130px,#0b3690 140px,#0c348b 150px,#0c3185 160px,#0c2e7e 170px,#0c2c78 180px,#0c2972 190px,#0b286f 200px,#0b266c 210px,#0a2569 220px,#0a2466 230px,#0a2264 240px,#0a2162 250px,#0a2161 260px,#0a2060 270px,#0a205f 280px,#0a205e 290px,#0a1f5d 300px,#0a1f5c 310px,#0b1c56 320px,#0c1b54 324px,#101a4f 326px,#1b1645 328px,#291239 330px,#370e2e 332px,#430c25 334px,#490a21 336px,#4b0a21 340px,#500b20 350px,#530b20 360px,#530b20 370px,#530b20 380px,#530b1f 390px,#530b1f 400px,#530b1f 410px,#540b1f 420px,#550b1f 430px,#580c20 440px,#5a0c20 450px,#5c0c21 460px,#5f0d22 470px,#610d22 480px,#630d22 490px,#650e23 500px,#670e23 510px,#6b0e24 520px,#720f25 530px,#771026 540px,#7c1027 550px,#7f1028 560px,#801028 570px,#811128 580px,#821129 590px,#801128 600px,#7e1028 610px,#7c1027 620px,#791027 630px,#770f26 640px,#740f25 650px,#720f24 660px,#6f0f24 670px,#6f0f24 680px)"></i>
<i style="top:319px;height:3px;background:linear-gradient(90deg,#0a47a6 0px,#0a47a6 10px,#0a46a5 20px,#0a46a5 30px,#0a45a4 40px,#0a44a4 50px,#0a43a3 60px,#0a43a3 70px,#0a42a3 80px,#0a41a2 90px,#0a41a2 100px,#0a3e9d 110px,#0a3b99 120px,#0b3994 130px,#0b3690 140px,#0c348b 150px,#0c3185 160px,#0c2e7f 170px,#0c2c78 180px,#0c2972 190px,#0b286f 200px,#0b266c 210px,#0a256a 220px,#0a2467 230px,#0a2264 240px,#0a2162 250px,#0a2161 260px,#0a2160 270px,#0a205f 280px,#0a205e 290px,#0a1f5d 300px,#0a1f5c 310px,#0b1c56 320px,#0c1b54 324px,#111a4f 326px,#1c1645 328px,#2a1239 330px,#390e2d 332px,#450c25 334px,#4b0a21 336px,#4d0b21 340px,#510b20 350px,#540b20 360px,#540b20 370px,#540b20 380px,#540b20 390px,#540b1f 400px,#540b1f 410px,#550b1f 420px,#560b20 430px,#580c20 440px,#5b0c21 450px,#5d0c21 460px,#5f0d22 470px,#610d22 480px,#630d22 490px,#650e23 500px,#660e23 510px,#6a0e24 520px,#710f25 530px,#771026 540px,#7b1027 550px,#7f1027 560px,#801028 570px,#811128 580px,#821129 590px,#801128 600px,#7e1028 610px,#7c1027 620px,#791027 630px,#770f26 640px,#740f25 650px,#720f24 660px,#6f0f24 670px,#6f0f24 680px)"></i>
<i style="top:322px;height:3px;background:linear-gradient(90deg,#0a47a6 0px,#0a47a6 10px,#0a46a5 20px,#0a46a5 30px,#0a45a4 40px,#0a44a4 50px,#0a44a3 60px,#0a43a3 70px,#0a42a3 80px,#0a41a2 90px,#0a41a2 100px,#0a3e9d 110px,#0a3b99 120px,#0b3994 130px,#0b3690 140px,#0c348b 150px,#0c3185 160px,#0c2e7f 170px,#0c2c79 180px,#0c2972 190px,#0b286f 200px,#0b276d 210px,#0a256a 220px,#0a2467 230px,#0a2364 240px,#0a2262 250px,#0a2161 260px,#0a2160 270px,#0a205f 280px,#0a205e 290px,#0a1f5e 300px,#0a1f5d 310px,#0b1d57 320px,#0c1c55 324px,#121a4f 326px,#1e1645 328px,#2c1238 330px,#3b0e2d 332px,#470c24 334px,#4c0b21 336px,#4e0b21 340px,#530b21 350px,#550b20 360px,#550b20 370px,#550b20 380px,#550b20 390px,#550b1f 400px,#550b1f 410px,#560b1f 420px,#570b20 430px,#590c20 440px,#5b0c21 450px,#5d0c21 460px,#5f0d22 470px,#610d22 480px,#630d22 490px,#650e23 500px,#660e23 510px,#6a0e24 520px,#700f25 530px,#760f26 540px,#7b1027 550px,#7e1027 560px,#7f1028 570px,#801128 580px,#821129 590px,#801028 600px,#7e1028 610px,#7c1027 620px,#791027 630px,#770f26 640px,#740f25 650px,#720f24 660px,#700f24 670px,#700f24 680px)"></i>
<i style="top:325px;height:3px;background:linear-gradient(90deg,#0a47a6 0px,#0a47a6 10px,#0a46a5 20px,#0a46a5 30px,#0a45a4 40px,#0a44a4 50px,#0a44a4 60px,#0a43a3 70px,#0a42a3 80px,#0a41a2 90px,#0a41a2 100px,#0a3e9d 110px,#0a3c99 120px,#0b3994 130px,#0b3690 140px,#0c348b 150px,#0c3185 160px,#0c2f7f 170px,#0c2c79 180px,#0c2973 190px,#0b2870 200px,#0b276d 210px,#0a256a 220px,#0a2467 230px,#0a2365 240px,#0a2262 250px,#0a2162 260px,#0a2161 270px,#0a2160 280px,#0a205f 290px,#0a205e 300px,#0a1f5d 310px,#0b1d57 320px,#0c1c55 324px,#131a4f 326px,#1f1644 328px,#2e1238 330px,#3d0e2d 332px,#490c24 334px,#4d0b21 336px,#4f0b21 340px,#540b21 350px,#560b21 360px,#560b20 370px,#560b20 380px,#560b20 390px,#560b20 400px,#560b1f 410px,#570b20 420px,#580c20 430px,#5a0c20 440px,#5c0c21 450px,#5e0c21 460px,#600d22 470px,#610d22 480px,#630d22 490px,#650e23 500px,#660e23 510px,#690e23 520px,#6f0f24 530px,#760f26 540px,#7a1027 550px,#7d1027 560px,#7f1028 570px,#801028 580px,#821129 590px,#801028 600px,#7e1028 610px,#7c1027 620px,#791027 630px,#770f26 640px,#750f25 650px,#720f24 660px,#700f24 670px,#700f24 680px)"></i>
<i style="top:328px;height:3px;background:linear-gradient(90deg,#0a47a6 0px,#0a47a6 10px,#0a46a5 20px,#0a46a5 30px,#0a45a4 40px,#0a44a4 50px,#0a44a4 60px,#0a43a3 70px,#0a42a3 80px,#0a42a2 90px,#0a41a2 100px,#0a3e9d 110px,#0a3c99 120px,#0b3994 130px,#0b3690 140px,#0c348b 150px,#0c3185 160px,#0c2f7f 170px,#0c2c79 180px,#0c2973 190px,#0b2870 200px,#0b276d 210px,#0a266a 220px,#0a2468 230px,#0a2365 240px,#0a2263 250px,#0a2262 260px,#0a2161 270px,#0a2160 280px,#0a205f 290px,#0a205e 300px,#0a1f5d 310px,#0c1d58 320px,#0d1c55 324px,#141a4f 326px,#211644 328px,#301237 330px,#3f0e2c 332px,#4b0b24 334px,#4f0b21 336px,#510b21 340px,#550b21 350px,#570b21 360px,#570b20 370px,#570b20 380px,#570b20 390px,#570b20 400px,#560b1f 410px,#570c20 420px,#580c20 430px,#5a0c20 440px,#5c0c21 450px,#5e0d21 460px,#600d22 470px,#620d22 480px,#630d22 490px,#650e23 500px,#660e23 510px,#680e23 520px,#6e0f24 530px,#750f26 540px,#7a1026 550px,#7d1027 560px,#7e1028 570px,#801028 580px,#821129 590px,#801028 600px,#7e1028 610px,#7c1027 620px,#791027 630px,#770f26 640px,#750f25 650px,#720f24 660px,#700f24 670px,#700f24 680px)"></i>
<i style="top:331px;height:3px;background:linear-gradient(90deg,#0a47a6 0px,#0a47a6 10px,#0a46a5 20px,#0a46a5 30px,#0a45a5 40px,#0a44a4 50px,#0a44a4 60px,#0a43a3 70px,#0a42a3 80px,#0a42a2 90px,#0a41a2 100px,#0a3e9d 110px,#0a3c99 120px,#0b3995 130px,#0b3690 140px,#0c348c 150px,#0c3185 160px,#0c2f7f 170px,#0c2c79 180px,#0c2a73 190px,#0b2870 200px,#0b276e 210px,#0a266b 220px,#0a2468 230px,#0a2365 240px,#0a2263 250px,#0a2262 260px,#0a2161 270px,#0a2160 280px,#0a2060 290px,#0a205f 300px,#0a205e 310px,#0c1d58 320px,#0c1d57 323px,#101b53 325px,#1b1849 327px,#2a143d 329px,#321237 330px,#3a1031 331px,#480d27 333px,#4f0b22 335px,#520b21 340px,#560b21 350px,#580c21 360px,#580c21 370px,#580c20 380px,#580c20 390px,#570c20 400px,#570c20 410px,#580c20 420px,#590c20 430px,#5b0c21 440px,#5d0c21 450px,#5f0d21 460px,#600d22 470px,#620d22 480px,#630d22 490px,#650e23 500px,#660e23 510px,#680e23 520px,#6d0e24 530px,#740f25 540px,#791026 550px,#7c1027 560px,#7e1027 570px,#801028 580px,#821129 590px,#801028 600px,#7e1028 610px,#7c1027 620px,#791027 630px,#770f26 640px,#750f25 650px,#730f25 660px,#700f24 670px,#700f24 680px)"></i>
<i style="top:334px;height:3px;background:linear-gradient(90deg,#0a47a6 0px,#0a47a6 10px,#0a47a6 20px,#0a46a5 30px,#0a45a5 40px,#0a44a4 50px,#0a44a4 60px,#0a43a3 70px,#0a42a3 80px,#0a42a2 90px,#0a41a2 100px,#0a3e9e 110px,#0a3c99 120px,#0b3995 130px,#0b3790 140px,#0c348c 150px,#0c3186 160px,#0c2f80 170px,#0c2c79 180px,#0c2a73 190px,#0b2871 200px,#0b276e 210px,#0a266b 220px,#0a2568 230px,#0a2366 240px,#0a2263 250px,#0a2262 260px,#0a2162 270px,#0a2161 280px,#0a2160 290px,#0a205f 300px,#0a205e 310px,#0c1e59 320px,#0c1d57 323px,#111b53 325px,#1d1849 327px,#2c133c 329px,#341136 330px,#3c1030 331px,#490c27 333px,#510b22 335px,#530b21 340px,#580b21 350px,#5a0c21 360px,#590c21 370px,#590c20 380px,#590c20 390px,#580c20 400px,#580c20 410px,#590c20 420px,#5a0c20 430px,#5c0c21 440px,#5d0c21 450px,#5f0d22 460px,#610d22 470px,#620d22 480px,#630d22 490px,#650e23 500px,#660e23 510px,#670e23 520px,#6d0e24 530px,#740f25 540px,#790f26 550px,#7c1027 560px,#7e1027 570px,#801028 580px,#821129 590px,#801028 600px,#7e1028 610px,#7c1027 620px,#7a1027 630px,#770f26 640px,#750f25 650px,#730f25 660px,#710f24 670px,#710f24 680px)"></i>
<i style="top:337px;height:3px;background:linear-gradient(90deg,#0a47a6 0px,#0a47a6 10px,#0a47a6 20px,#0a46a5 30px,#0a45a5 40px,#0a44a4 50px,#0a44a4 60px,#0a43a3 70px,#0a42a3 80px,#0a42a2 90px,#0a41a2 100px,#0a3e9e 110px,#0a3c99 120px,#0b3995 130px,#0b3790 140px,#0c348c 150px,#0c3186 160px,#0c2f80 170px,#0c2c7a 180px,#0c2a74 190px,#0b2971 200px,#0b276e 210px,#0a266b 220px,#0a2569 230px,#0a2366 240px,#0a2264 250px,#0a2263 260px,#0a2262 270px,#0a2161 280px,#0a2160 290px,#0a205f 300px,#0a205f 310px,#0c1e59 320px,#0c1d58 323px,#121b53 325px,#1e1848 327px,#2e133c 329px,#361136 330px,#3e0f30 331px,#4b0c26 333px,#520b22 335px,#550b22 340px,#590c21 350px,#5b0c21 360px,#5a0c21 370px,#5a0c21 380px,#5a0c20 390px,#590c20 400px,#590c20 410px,#5a0c20 420px,#5b0c20 430px,#5c0c21 440px,#5e0d21 450px,#600d22 460px,#610d22 470px,#620d22 480px,#640d22 490px,#650e23 500px,#660e23 510px,#670e23 520px,#6c0e23 530px,#730f25 540px,#780f26 550px,#7b1027 560px,#7d1027 570px,#7f1028 580px,#821129 590px,#801028 600px,#7e1028 610px,#7c1027 620px,#7a1027 630px,#770f26 640px,#750f25 650px,#730f25 660px,#710f24 670px,#710f24 680px)"></i>
<i style="top:340px;height:3px;background:linear-gradient(90deg,#0a47a6 0px,#0a47a6 10px,#0a47a6 20px,#0a46a5 30px,#0a45a5 40px,#0a45a4 50px,#0a44a4 60px,#0a43a3 70px,#0a42a3 80px,#0a42a3 90px,#0a41a2 100px,#0a3e9e 110px,#0a3c99 120px,#0b3995 130px,#0b3790 140px,#0c348c 150px,#0c3286 160px,#0c2f80 170px,#0c2c7a 180px,#0c2a74 190px,#0b2971 200px,#0b276e 210px,#0a266c 220px,#0a2569 230px,#0a2466 240px,#0a2364 250px,#0a2263 260px,#0a2262 270px,#0a2161 280px,#0a2161 290px,#0a2160 300px,#0a205f 310px,#0c1e5a 320px,#0c1d58 323px,#131b52 325px,#201748 327px,#30133b 329px,#381135 330px,#400f2f 331px,#4d0c26 333px,#540b22 335px,#560b22 340px,#5a0c22 350px,#5c0c21 360px,#5b0c21 370px,#5b0c21 380px,#5b0c20 390px,#5a0c20 400px,#5a0c20 410px,#5b0c20 420px,#5c0c20 430px,#5d0c21 440px,#5e0d21 450px,#600d22 460px,#610d22 470px,#630d22 480px,#640d22 490px,#650e23 500px,#660e23 510px,#660d22 520px,#6b0e23 530px,#720f25 540px,#780f26 550px,#7b1027 560px,#7d1027 570px,#7f1028 580px,#821129 590px,#801028 600px,#7e1028 610px,#7c1027 620px,#7a1027 630px,#780f26 640px,#750f25 650px,#730f25 660px,#710f24 670px,#710f24 680px)"></i>
<i style="top:343px;height:3px;background:linear-gradient(90deg,#0a47a6 0px,#0a47a6 10px,#0a47a6 20px,#0a46a5 30px,#0a45a5 40px,#0a45a4 50px,#0a44a4 60px,#0a43a3 70px,#0a43a3 80px,#0a42a3 90px,#0a41a2 100px,#0a3f9e 110px,#0a3c99 120px,#0b3995 130px,#0b3790 140px,#0c348c 150px,#0c3286 160px,#0c2f80 170px,#0c2d7a 180px,#0c2a74 190px,#0b2971 200px,#0b286f 210px,#0a266c 220px,#0a2569 230px,#0a2467 240px,#0a2364 250px,#0a2263 260px,#0a2263 270px,#0a2262 280px,#0a2161 290px,#0a2160 300px,#0a205f 310px,#0c1e5a 320px,#0d1d59 323px,#141b52 325px,#211747 327px,#32133b 329px,#3a1135 330px,#420f2f 331px,#4f0c26 333px,#550b22 335px,#570b22 340px,#5b0c22 350px,#5d0c21 360px,#5d0c21 370px,#5c0c21 380px,#5b0c21 390px,#5b0c20 400px,#5a0c20 410px,#5b0c20 420px,#5c0c21 430px,#5e0c21 440px,#5f0d21 450px,#600d22 460px,#620d22 470px,#630d22 480px,#640d22 490px,#650e23 500px,#660e23 510px,#660d22 520px,#6a0e23 530px,#720f25 540px,#770f26 550px,#7a1026 560px,#7d1027 570px,#7f1028 580px,#821129 590px,#801028 600px,#7e1028 610px,#7c1027 620px,#7a1027 630px,#780f26 640px,#760f25 650px,#730f25 660px,#710f24 670px,#710f24 680px)"></i>
<i style="top:346px;height:3px;background:linear-gradient(90deg,#0a47a6 0px,#0a47a6 10px,#0a47a6 20px,#0a46a5 30px,#0a45a5 40px,#0a45a4 50px,#0a44a4 60px,#0a43a4 70px,#0a43a3 80px,#0a42a3 90px,#0a41a2 100px,#0a3f9e 110px,#0a3c99 120px,#0b3995 130px,#0b3791 140px,#0c348c 150px,#0c3286 160px,#0c2f80 170px,#0c2d7a 180px,#0c2a74 190px,#0b2972 200px,#0b286f 210px,#0a266c 220px,#0a256a 230px,#0a2467 240px,#0a2364 250px,#0a2264 260px,#0a2263 270px,#0a2262 280px,#0a2161 290px,#0a2161 300px,#0a2160 310px,#0c1e5b 320px,#0d1e59 323px,#151b52 325px,#231747 327px,#34133a 329px,#3c1134 330px,#440f2e 331px,#510c25 333px,#560b22 335px,#580c22 340px,#5c0c22 350px,#5e0c22 360px,#5e0c21 370px,#5d0c21 380px,#5c0c21 390px,#5c0c20 400px,#5b0c20 410px,#5c0c20 420px,#5d0c21 430px,#5e0d21 440px,#600d21 450px,#610d22 460px,#620d22 470px,#630d22 480px,#640d22 490px,#650e23 500px,#660e23 510px,#650d22 520px,#690e23 530px,#710e24 540px,#760f26 550px,#7a0f26 560px,#7c1027 570px,#7f1028 580px,#821129 590px,#801028 600px,#7e1028 610px,#7c1027 620px,#7a1027 630px,#780f26 640px,#760f25 650px,#740f25 660px,#720f24 670px,#720f24 680px)"></i>
<i style="top:349px;height:3px;background:linear-gradient(90deg,#0a47a6 0px,#0a47a6 10px,#0a47a6 20px,#0a46a5 30px,#0a45a5 40px,#0a45a5 50px,#0a44a4 60px,#0a43a4 70px,#0a43a3 80px,#0a42a3 90px,#0a41a2 100px,#0a3f9e 110px,#0a3c99 120px,#0b3995 130px,#0b3791 140px,#0c348c 150px,#0c3286 160px,#0c2f80 170px,#0c2d7b 180px,#0c2a75 190px,#0b2972 200px,#0b286f 210px,#0a276d 220px,#0a256a 230px,#0a2467 240px,#0a2365 250px,#0a2364 260px,#0a2263 270px,#0a2262 280px,#0a2262 290px,#0a2161 300px,#0a2160 310px,#0c1f5b 320px,#0c1e5a 322px,#111d56 324px,#1d194c 326px,#2d1540 328px,#3e1133 330px,#4d0e29 332px,#570c23 334px,#5a0c22 340px,#5e0c22 350px,#5f0c22 360px,#5f0c21 370px,#5e0c21 380px,#5d0c21 390px,#5d0c21 400px,#5c0c20 410px,#5d0c20 420px,#5e0c21 430px,#5f0d21 440px,#600d22 450px,#610d22 460px,#620d22 470px,#630d22 480px,#640d22 490px,#650e23 500px,#660e23 510px,#650d22 520px,#680d22 530px,#700e24 540px,#760f25 550px,#790f26 560px,#7c1027 570px,#7f1028 580px,#821129 590px,#801028 600px,#7e1028 610px,#7c1027 620px,#7a1027 630px,#780f26 640px,#760f25 650px,#740f25 660px,#720f24 670px,#720f24 680px)"></i>
<i style="top:352px;height:3px;background:linear-gradient(90deg,#0a47a6 0px,#0a47a6 10px,#0a47a6 20px,#0a46a5 30px,#0a45a5 40px,#0a45a5 50px,#0a44a4 60px,#0a43a4 70px,#0a43a3 80px,#0a42a3 90px,#0a41a2 100px,#0a3f9e 110px,#0a3c9a 120px,#0b3a95 130px,#0b3791 140px,#0c348c 150px,#0c3286 160px,#0c2f81 170px,#0c2d7b 180px,#0c2a75 190px,#0b2972 200px,#0b2870 210px,#0a276d 220px,#0a256a 230px,#0a2467 240px,#0a2365 250px,#0a2364 260px,#0a2263 270px,#0a2263 280px,#0a2262 290px,#0a2161 300px,#0a2161 310px,#0c1f5c 320px,#0c1e5b 322px,#121d56 324px,#1f194c 326px,#2f153f 328px,#411133 330px,#4f0d28 332px,#580c23 334px,#5b0c22 340px,#5f0c22 350px,#610c22 360px,#600c22 370px,#5f0c21 380px,#5e0c21 390px,#5e0c21 400px,#5d0c20 410px,#5e0c21 420px,#5f0d21 430px,#600d21 440px,#610d22 450px,#620d22 460px,#630d22 470px,#630d22 480px,#640d22 490px,#650e23 500px,#660e23 510px,#640d22 520px,#680d22 530px,#700e24 540px,#750f25 550px,#790f26 560px,#7c1027 570px,#7f1028 580px,#821129 590px,#801028 600px,#7e1028 610px,#7c1027 620px,#7a1027 630px,#780f26 640px,#760f25 650px,#740f25 660px,#720f24 670px,#720f24 680px)"></i>
<i style="top:355px;height:3px;background:linear-gradient(90deg,#0a47a6 0px,#0a47a6 10px,#0a47a6 20px,#0a46a6 30px,#0a45a5 40px,#0a45a5 50px,#0a44a4 60px,#0a43a4 70px,#0a43a3 80px,#0a42a3 90px,#0a41a2 100px,#0a3f9e 110px,#0a3c9a 120px,#0b3a95 130px,#0b3791 140px,#0c348c 150px,#0c3287 160px,#0c2f81 170px,#0c2d7b 180px,#0c2a75 190px,#0b2973 200px,#0b2870 210px,#0a276d 220px,#0a266a 230px,#0a2468 240px,#0a2365 250px,#0a2364 260px,#0a2364 270px,#0a2263 280px,#0a2262 290px,#0a2262 300px,#0a2161 310px,#0c1f5c 320px,#0d1f5b 322px,#131d56 324px,#20194b 326px,#31153f 328px,#431132 330px,#520d28 332px,#5a0c23 334px,#5c0c22 340px,#600c22 350px,#620c22 360px,#610c22 370px,#600c21 380px,#5f0c21 390px,#5e0c21 400px,#5e0c20 410px,#5e0d21 420px,#5f0d21 430px,#600d21 440px,#610d22 450px,#620d22 460px,#630d22 470px,#640d22 480px,#640d22 490px,#650e23 500px,#660e23 510px,#630d21 520px,#670d22 530px,#6f0e24 540px,#750f25 550px,#780f26 560px,#7b1027 570px,#7e1028 580px,#821129 590px,#801028 600px,#7e1028 610px,#7c1027 620px,#7a1027 630px,#780f26 640px,#760f25 650px,#740f25 660px,#720f24 670px,#720f24 680px)"></i>
<i style="top:358px;height:3px;background:linear-gradient(90deg,#0a47a6 0px,#0a47a6 10px,#0a47a6 20px,#0a46a6 30px,#0a45a5 40px,#0a45a5 50px,#0a44a4 60px,#0a43a4 70px,#0a43a3 80px,#0a42a3 90px,#0a41a2 100px,#0a3f9e 110px,#0a3c9a 120px,#0b3a95 130px,#0b3791 140px,#0c348c 150px,#0c3287 160px,#0c2f81 170px,#0c2d7b 180px,#0c2a75 190px,#0b2973 200px,#0b2870 210px,#0a276d 220px,#0a266b 230px,#0a2568 240px,#0a2365 250px,#0a2365 260px,#0a2364 270px,#0a2263 280px,#0a2263 290px,#0a2262 300px,#0a2161 310px,#0c1f5d 320px,#0d1f5c 322px,#141d56 324px,#22194b 326px,#34143e 328px,#451031 330px,#540d28 332px,#5b0c23 334px,#5e0c22 340px,#610c22 350px,#630c22 360px,#620c22 370px,#610c22 380px,#600c21 390px,#5f0c21 400px,#5e0c20 410px,#5f0d21 420px,#600d21 430px,#610d21 440px,#620d22 450px,#630d22 460px,#630d22 470px,#640d22 480px,#640d22 490px,#650e23 500px,#660e23 510px,#630d21 520px,#660d22 530px,#6e0e24 540px,#740f25 550px,#780f26 560px,#7b1027 570px,#7e1028 580px,#821129 590px,#801028 600px,#7e1028 610px,#7c1027 620px,#7a1027 630px,#780f26 640px,#760f25 650px,#740f25 660px,#720f24 670px,#720f24 680px)"></i>
<i style="top:361px;height:3px;background:linear-gradient(90deg,#0a48a7 0px,#0a48a7 10px,#0a47a6 20px,#0a46a6 30px,#0a46a5 40px,#0a45a5 50px,#0a44a4 60px,#0a44a4 70px,#0a43a4 80px,#0a42a3 90px,#0a42a3 100px,#0a3f9e 110px,#0a3d9a 120px,#0b3a96 130px,#0b3892 140px,#0b358d 150px,#0b3388 160px,#0b3082 170px,#0b2e7d 180px,#0b2b77 190px,#0b2a75 200px,#0b2972 210px,#0b286f 220px,#0a276d 230px,#0a266a 240px,#0a2468 250px,#0a2467 260px,#0a2466 270px,#0a2365 280px,#0a2364 290px,#0a2263 300px,#0b2262 310px,#0c205e 320px,#0d1f5c 322px,#151d56 324px,#24194a 326px,#36143d 328px,#481031 330px,#560d27 332px,#5d0c23 334px,#600c23 340px,#640d23 350px,#660d23 360px,#650d23 370px,#630d22 380px,#620d22 390px,#610d21 400px,#600d21 410px,#610d21 420px,#620d22 430px,#620d22 440px,#630d22 450px,#640d22 460px,#650e23 470px,#650e23 480px,#650e23 490px,#650d22 500px,#650d22 510px,#620d21 520px,#650d21 530px,#6d0e23 540px,#730f25 550px,#770f26 560px,#7a1027 570px,#7e1028 580px,#821129 590px,#801028 600px,#7f1028 610px,#7d1027 620px,#7b1027 630px,#7a0f26 640px,#780f26 650px,#750f25 660px,#730f25 670px,#730f25 680px)"></i>
<i style="top:364px;height:3px;background:linear-gradient(90deg,#0a48a7 0px,#0a48a7 10px,#0a47a6 20px,#0a47a6 30px,#0a46a5 40px,#0a45a5 50px,#0a45a5 60px,#0a44a4 70px,#0a43a4 80px,#0a43a3 90px,#0a42a3 100px,#0a3f9f 110px,#0a3d9b 120px,#0b3b97 130px,#0b3892 140px,#0b368e 150px,#0b3389 160px,#0b3184 170px,#0b2f7f 180px,#0b2c79 190px,#0b2b77 200px,#0b2a74 210px,#0b2972 220px,#0a286f 230px,#0a276d 240px,#0a266a 250px,#0a2569 260px,#0a2569 270px,#0a2568 280px,#0a2466 290px,#0a2365 300px,#0b2263 310px,#0c205e 320px,#0e1f5d 322px,#171d55 324px,#26194a 326px,#38143d 328px,#4a1031 330px,#580d27 332px,#5f0c23 334px,#620d23 340px,#670d24 350px,#690d24 360px,#670d23 370px,#660d23 380px,#650d22 390px,#630d22 400px,#620d21 410px,#630d22 420px,#630d22 430px,#640d22 440px,#650e22 450px,#650e23 460px,#660e23 470px,#660e23 480px,#650e23 490px,#650d22 500px,#640d22 510px,#610c21 520px,#640d21 530px,#6c0e23 540px,#720e24 550px,#760f25 560px,#7a0f26 570px,#7e1028 580px,#821129 590px,#811028 600px,#801028 610px,#7e1028 620px,#7d1027 630px,#7b1027 640px,#7a0f27 650px,#770f26 660px,#740f25 670px,#740f25 680px)"></i>
<i style="top:367px;height:3px;background:linear-gradient(90deg,#0a48a7 0px,#0a48a7 10px,#0a47a7 20px,#0a47a6 30px,#0a46a6 40px,#0a45a5 50px,#0a45a5 60px,#0a44a4 70px,#0a43a4 80px,#0a43a3 90px,#0a42a3 100px,#0a409f 110px,#0a3d9b 120px,#0b3b97 130px,#0b3993 140px,#0b368f 150px,#0b348a 160px,#0b3285 170px,#0b3080 180px,#0b2d7b 190px,#0b2c79 200px,#0b2b76 210px,#0b2a74 220px,#0a2972 230px,#0a286f 240px,#0a276d 250px,#0a266c 260px,#0a266b 270px,#0a266a 280px,#0a2568 290px,#0b2466 300px,#0b2364 310px,#0c205f 320px,#0c205f 321px,#121e5a 323px,#1f1b50 325px,#311643 327px,#441236 329px,#4c1030 330px,#540f2b 331px,#5f0d25 333px,#640d24 340px,#6a0d24 350px,#6c0d24 360px,#6a0d24 370px,#690d23 380px,#670d23 390px,#660d22 400px,#640d22 410px,#650d22 420px,#650d22 430px,#660e23 440px,#660e23 450px,#670e23 460px,#670e23 470px,#670e23 480px,#660e23 490px,#650d22 500px,#630d22 510px,#600c20 520px,#630d21 530px,#6b0e23 540px,#710e24 550px,#750f25 560px,#790f26 570px,#7d1027 580px,#821129 590px,#811029 600px,#811029 610px,#801028 620px,#7f1028 630px,#7d1028 640px,#7c1027 650px,#780f26 660px,#740f25 670px,#740f25 680px)"></i>
<i style="top:370px;height:3px;background:linear-gradient(90deg,#0a48a7 0px,#0a48a7 10px,#0a48a7 20px,#0a47a6 30px,#0a46a6 40px,#0a46a5 50px,#0a45a5 60px,#0a44a4 70px,#0a44a4 80px,#0a43a3 90px,#0a42a3 100px,#0a409f 110px,#0a3e9c 120px,#0a3c98 130px,#0b3994 140px,#0b3790 150px,#0b358c 160px,#0b3387 170px,#0b3182 180px,#0b2e7e 190px,#0b2d7b 200px,#0b2c79 210px,#0b2b76 220px,#0a2a74 230px,#0a2972 240px,#0a286f 250px,#0a286e 260px,#0a276d 270px,#0a276c 280px,#0b266a 290px,#0b2567 300px,#0b2365 310px,#0c2160 320px,#0d215f 321px,#131f5a 323px,#211b4f 325px,#331642 327px,#461235 329px,#4f1030 330px,#560f2b 331px,#610d25 333px,#660d24 340px,#6d0e25 350px,#6f0e25 360px,#6d0e25 370px,#6b0e24 380px,#6a0e23 390px,#680e23 400px,#660e22 410px,#670e23 420px,#670e23 430px,#670e23 440px,#680e23 450px,#680e23 460px,#680e24 470px,#680e24 480px,#660e23 490px,#650d22 500px,#630d21 510px,#5e0c20 520px,#620c20 530px,#6a0d22 540px,#700e24 550px,#750f25 560px,#790f26 570px,#7d1027 580px,#821129 590px,#821129 600px,#831129 610px,#811029 620px,#801028 630px,#7f1028 640px,#7e1028 650px,#790f27 660px,#750f25 670px,#750f25 680px)"></i>
<i style="top:373px;height:3px;background:linear-gradient(90deg,#0a48a7 0px,#0a48a7 10px,#0a48a7 20px,#0a47a7 30px,#0a46a6 40px,#0a46a6 50px,#0a45a5 60px,#0a44a5 70px,#0a44a4 80px,#0a43a4 90px,#0a42a3 100px,#0a40a0 110px,#0a3e9c 120px,#0a3c99 130px,#0b3a95 140px,#0b3891 150px,#0b368d 160px,#0b3489 170px,#0b3284 180px,#0b2f80 190px,#0b2e7d 200px,#0b2d7b 210px,#0b2c79 220px,#0a2b76 230px,#0a2a74 240px,#0a2972 250px,#0a2971 260px,#0a2870 270px,#0a286f 280px,#0b276c 290px,#0b2569 300px,#0b2466 310px,#0c2160 320px,#0d2160 321px,#141f5a 323px,#231b4f 325px,#351642 327px,#481235 329px,#51102f 330px,#590f2b 331px,#630d25 333px,#680d25 340px,#700e26 350px,#720e26 360px,#700e25 370px,#6e0e25 380px,#6c0e24 390px,#6a0e23 400px,#680e23 410px,#680e23 420px,#690e23 430px,#690e23 440px,#690e23 450px,#690e24 460px,#6a0e24 470px,#6a0e24 480px,#670e23 490px,#640d22 500px,#620d21 510px,#5d0c1f 520px,#610c20 530px,#690d22 540px,#6f0e24 550px,#740f25 560px,#780f26 570px,#7d1027 580px,#821129 590px,#831129 600px,#841129 610px,#831129 620px,#821029 630px,#811029 640px,#801028 650px,#7b0f27 660px,#760f25 670px,#760f25 680px)"></i>
<i style="top:376px;height:3px;background:linear-gradient(90deg,#0a49a8 0px,#0a49a8 10px,#0a48a7 20px,#0a47a7 30px,#0a47a6 40px,#0a46a6 50px,#0a45a5 60px,#0a45a5 70px,#0a44a4 80px,#0a43a4 90px,#0a43a3 100px,#0a41a0 110px,#0a3f9d 120px,#0a3d99 130px,#0b3a96 140px,#0b3892 150px,#0b368e 160px,#0b348a 170px,#0b3286 180px,#0b3082 190px,#0b2f7f 200px,#0b2e7d 210px,#0b2d7b 220px,#0a2c79 230px,#0a2b76 240px,#0a2a74 250px,#0a2a73 260px,#0a2a72 270px,#0b2971 280px,#0b286e 290px,#0b266a 300px,#0b2466 310px,#0c2261 320px,#0d2160 321px,#151f5a 323px,#251b4e 325px,#371641 327px,#4b1234 329px,#54102f 330px,#5b0f2a 331px,#650d25 333px,#6a0e25 340px,#730e26 350px,#760e26 360px,#730e26 370px,#710e25 380px,#6f0e25 390px,#6c0e24 400px,#6a0e23 410px,#6a0e23 420px,#6a0e24 430px,#6b0e24 440px,#6b0e24 450px,#6b0e24 460px,#6b0e24 470px,#6b0e24 480px,#680e23 490px,#640d22 500px,#610c21 510px,#5c0c1f 520px,#600c20 530px,#680d22 540px,#6e0e23 550px,#730f25 560px,#780f26 570px,#7d1027 580px,#821129 590px,#831129 600px,#85112a 610px,#84112a 620px,#831129 630px,#821129 640px,#821029 650px,#7c1027 660px,#760f26 670px,#760f26 680px)"></i>
<i style="top:379px;height:3px;background:linear-gradient(90deg,#0a49a8 0px,#0a49a8 10px,#0a48a7 20px,#0a48a7 30px,#0a47a6 40px,#0a46a6 50px,#0a46a5 60px,#0a45a5 70px,#0a44a4 80px,#0a44a4 90px,#0a43a3 100px,#0a41a0 110px,#0a3f9d 120px,#0a3d9a 130px,#0b3b97 140px,#0b3993 150px,#0b3790 160px,#0b358c 170px,#0b3388 180px,#0b3184 190px,#0b3082 200px,#0b2f7f 210px,#0b2e7d 220px,#0a2d7b 230px,#0a2c79 240px,#0a2c77 250px,#0a2b76 260px,#0b2b75 270px,#0b2a73 280px,#0b286f 290px,#0b276b 300px,#0b2567 310px,#0d2262 320px,#0e2261 321px,#171f59 323px,#271b4e 325px,#3a1640 327px,#4d1234 329px,#56102f 330px,#5e0f2a 331px,#670d25 333px,#6c0e26 340px,#760f27 350px,#790f27 360px,#760f27 370px,#740f26 380px,#710f25 390px,#6f0e24 400px,#6c0e24 410px,#6c0e24 420px,#6c0e24 430px,#6c0e24 440px,#6c0e24 450px,#6c0e24 460px,#6c0e24 470px,#6c0e24 480px,#680e23 490px,#640d22 500px,#600c21 510px,#5b0b1f 520px,#5f0c20 530px,#670d22 540px,#6d0e23 550px,#720e24 560px,#770f26 570px,#7c1027 580px,#821129 590px,#841129 600px,#86112a 610px,#86112a 620px,#85112a 630px,#84112a 640px,#84112a 650px,#7d1028 660px,#770f26 670px,#770f26 680px)"></i>
<i style="top:382px;height:3px;background:linear-gradient(90deg,#0a49a8 0px,#0a49a8 10px,#0a48a8 20px,#0a48a7 30px,#0a47a7 40px,#0a46a6 50px,#0a46a6 60px,#0a45a5 70px,#0a44a5 80px,#0a44a4 90px,#0a43a4 100px,#0a41a1 110px,#0a3f9e 120px,#0a3d9b 130px,#0a3c98 140px,#0b3a95 150px,#0b3891 160px,#0b368d 170px,#0b348a 180px,#0b3386 190px,#0b3184 200px,#0b3082 210px,#0b2f7f 220px,#0a2e7d 230px,#0a2e7b 240px,#0a2d79 250px,#0a2c78 260px,#0b2c77 270px,#0b2b76 280px,#0b2971 290px,#0b276d 300px,#0b2568 310px,#0d2362 320px,#0e2261 321px,#181f59 323px,#291b4d 325px,#3c1640 327px,#501234 329px,#59102e 330px,#600f2a 331px,#690e26 333px,#6e0e26 340px,#780f28 350px,#7c0f28 360px,#790f27 370px,#760f26 380px,#740f26 390px,#710f25 400px,#6e0f24 410px,#6e0f24 420px,#6e0f24 430px,#6e0f24 440px,#6e0f24 450px,#6e0f25 460px,#6d0f25 470px,#6d0f25 480px,#690e23 490px,#640d22 500px,#600c20 510px,#5a0b1e 520px,#5e0c1f 530px,#660d21 540px,#6c0e23 550px,#710e24 560px,#760f26 570px,#7c1027 580px,#821129 590px,#85112a 600px,#88112b 610px,#87112b 620px,#87112a 630px,#86112a 640px,#86112a 650px,#7f1028 660px,#780f26 670px,#780f26 680px)"></i>
<i style="top:385px;height:3px;background:linear-gradient(90deg,#0a49a8 0px,#0a49a8 10px,#0a49a8 20px,#0a48a7 30px,#0a47a7 40px,#0a47a6 50px,#0a46a6 60px,#0a45a5 70px,#0a45a5 80px,#0a44a4 90px,#0a43a4 100px,#0a42a1 110px,#0a409e 120px,#0a3e9b 130px,#0a3c98 140px,#0b3a96 150px,#0b3992 160px,#0b378f 170px,#0b358b 180px,#0b3488 190px,#0b3286 200px,#0b3184 210px,#0b3082 220px,#0b3080 230px,#0a2f7e 240px,#0a2e7c 250px,#0b2d7b 260px,#0b2d79 270px,#0b2d78 280px,#0b2a73 290px,#0b286e 300px,#0b2669 310px,#0d2363 320px,#0f2261 321px,#1a1f59 323px,#2b1b4d 325px,#3e163f 327px,#521233 329px,#5b102e 330px,#620f2a 331px,#6a0e26 333px,#700f27 340px,#7b0f28 350px,#7f0f29 360px,#7c0f28 370px,#790f27 380px,#760f26 390px,#730f25 400px,#700f25 410px,#700f25 420px,#700f25 430px,#6f0f25 440px,#6f0f25 450px,#6f0f25 460px,#6f0f25 470px,#6e0f25 480px,#690e23 490px,#640d22 500px,#5f0c20 510px,#580b1e 520px,#5d0b1f 530px,#650d21 540px,#6b0d23 550px,#710e24 560px,#760f25 570px,#7c1027 580px,#821129 590px,#85112a 600px,#89112b 610px,#88112b 620px,#88112b 630px,#88112b 640px,#87112b 650px,#801029 660px,#780f26 670px,#780f26 680px)"></i>
<i style="top:388px;height:3px;background:linear-gradient(90deg,#0a49a8 0px,#0a49a8 10px,#0a49a8 20px,#0a48a7 30px,#0a47a7 40px,#0a47a6 50px,#0a46a6 60px,#0a45a5 70px,#0a45a5 80px,#0a44a4 90px,#0a43a4 100px,#0a42a1 110px,#0a409f 120px,#0a3e9c 130px,#0a3d99 140px,#0a3b97 150px,#0b3993 160px,#0b3890 170px,#0b368d 180px,#0b358a 190px,#0b3388 200px,#0b3286 210px,#0b3184 220px,#0b3182 230px,#0b3080 240px,#0b2f7e 250px,#0b2f7d 260px,#0b2e7c 270px,#0b2e7a 280px,#0b2b75 290px,#0b296f 300px,#0b266a 310px,#0d2364 320px,#14215e 322px,#231d53 324px,#371845 326px,#4b1438 328px,#5e102e 330px,#6a0e27 332px,#720f27 340px,#7e0f29 350px,#821029 360px,#7f1029 370px,#7c1028 380px,#780f27 390px,#750f26 400px,#720f25 410px,#720f25 420px,#710f25 430px,#710f25 440px,#710f25 450px,#700f25 460px,#700f25 470px,#6f0f25 480px,#6a0e23 490px,#640d21 500px,#5e0c20 510px,#570b1e 520px,#5c0b1f 530px,#640c21 540px,#6a0d22 550px,#700e24 560px,#750f25 570px,#7b1027 580px,#821129 590px,#86112a 600px,#8a122b 610px,#8a122b 620px,#8a112b 630px,#8a112b 640px,#89112b 650px,#811029 660px,#790f26 670px,#790f26 680px)"></i>
<i style="top:391px;height:3px;background:linear-gradient(90deg,#0a4aa9 0px,#0a4aa9 10px,#0a49a8 20px,#0a48a8 30px,#0a48a7 40px,#0a47a7 50px,#0a46a6 60px,#0a46a6 70px,#0a45a5 80px,#0a44a4 90px,#0a44a4 100px,#0a42a1 110px,#0a419f 120px,#0a3f9d 130px,#0a3d9a 140px,#0a3c98 150px,#0a3a95 160px,#0b3992 170px,#0b378f 180px,#0b368c 190px,#0b348a 200px,#0b3388 210px,#0b3386 220px,#0b3284 230px,#0b3183 240px,#0b3081 250px,#0b307f 260px,#0b2f7e 270px,#0b2f7d 280px,#0b2c77 290px,#0b2971 300px,#0b276b 310px,#0d2464 320px,#16215e 322px,#251d52 324px,#391845 326px,#4e1438 328px,#60102e 330px,#6c0f27 332px,#740f28 340px,#811029 350px,#86102a 360px,#821029 370px,#7e1028 380px,#7b1027 390px,#781026 400px,#740f26 410px,#740f26 420px,#730f26 430px,#730f26 440px,#720f26 450px,#720f26 460px,#710f25 470px,#710f25 480px,#6a0e23 490px,#640d21 500px,#5d0c1f 510px,#560b1d 520px,#5a0b1e 530px,#630c21 540px,#690d22 550px,#6f0e24 560px,#750f25 570px,#7b1027 580px,#821129 590px,#86112a 600px,#8b122c 610px,#8b122c 620px,#8b122c 630px,#8b122c 640px,#8b122c 650px,#831029 660px,#7a0f27 670px,#7a0f27 680px)"></i>
<i style="top:394px;height:3px;background:linear-gradient(90deg,#0a4aa9 0px,#0a4aa9 10px,#0a49a8 20px,#0a49a8 30px,#0a48a7 40px,#0a47a7 50px,#0a47a6 60px,#0a46a6 70px,#0a45a5 80px,#0a45a5 90px,#0a44a4 100px,#0a42a2 110px,#0a419f 120px,#0a3f9d 130px,#0a3e9b 140px,#0a3c99 150px,#0a3b96 160px,#0a3a93 170px,#0a3891 180px,#0b378e 190px,#0b358c 200px,#0b348a 210px,#0b3489 220px,#0b3387 230px,#0b3285 240px,#0b3183 250px,#0b3182 260px,#0b3080 270px,#0b307f 280px,#0b2d78 290px,#0b2a72 300px,#0b276b 310px,#0e2465 320px,#17215d 322px,#271d52 324px,#3b1844 326px,#501437 328px,#63112d 330px,#6e0f28 332px,#761028 340px,#84102a 350px,#89102b 360px,#85102a 370px,#811029 380px,#7d1028 390px,#7a1027 400px,#761026 410px,#761026 420px,#751026 430px,#740f26 440px,#740f26 450px,#730f26 460px,#720f26 470px,#720f26 480px,#6b0e23 490px,#640d21 500px,#5c0b1f 510px,#550a1d 520px,#590b1e 530px,#620c20 540px,#680d22 550px,#6e0e23 560px,#740f25 570px,#7b1027 580px,#821129 590px,#87112b 600px,#8d122c 610px,#8d122c 620px,#8d122c 630px,#8d122d 640px,#8d122d 650px,#84112a 660px,#7a0f27 670px,#7a0f27 680px)"></i>
<i style="top:397px;height:3px;background:linear-gradient(90deg,#0a4aa9 0px,#0a4aa9 10px,#0a49a9 20px,#0a49a8 30px,#0a48a7 40px,#0a47a7 50px,#0a47a6 60px,#0a46a6 70px,#0a45a5 80px,#0a45a5 90px,#0a44a4 100px,#0a43a2 110px,#0a41a0 120px,#0a409e 130px,#0a3f9c 140px,#0a3d9a 150px,#0a3c97 160px,#0a3a95 170px,#0a3993 180px,#0a3890 190px,#0b368f 200px,#0b358d 210px,#0b358b 220px,#0b3489 230px,#0b3387 240px,#0b3386 250px,#0b3284 260px,#0b3283 270px,#0b3181 280px,#0b2e7a 290px,#0b2b73 300px,#0c286c 310px,#0e2465 320px,#18215d 322px,#291d51 324px,#3e1843 326px,#531437 328px,#65112d 330px,#700f28 332px,#781028 340px,#87102b 350px,#8c112b 360px,#88112b 370px,#84112a 380px,#801029 390px,#7c1028 400px,#781026 410px,#771026 420px,#771026 430px,#761026 440px,#751026 450px,#740f26 460px,#740f26 470px,#730f26 480px,#6b0e24 490px,#630c21 500px,#5c0b1f 510px,#540a1d 520px,#580b1e 530px,#610c20 540px,#670d22 550px,#6e0e23 560px,#740f25 570px,#7b1027 580px,#821129 590px,#88112b 600px,#8e122d 610px,#8e122d 620px,#8f122d 630px,#8f122d 640px,#8f122d 650px,#85112a 660px,#7b0f27 670px,#7b0f27 680px)"></i>
<i style="top:400px;height:3px;background:linear-gradient(90deg,#0a4aa9 0px,#0a4aa9 10px,#0a4aa9 20px,#0a49a8 30px,#0a48a8 40px,#0a48a7 50px,#0a47a7 60px,#0a46a6 70px,#0a46a5 80px,#0a45a5 90px,#0a44a4 100px,#0a43a2 110px,#0a42a0 120px,#0a409f 130px,#0a3f9d 140px,#0a3e9b 150px,#0a3d99 160px,#0a3b97 170px,#0a3a95 180px,#0a3993 190px,#0a3791 200px,#0b368f 210px,#0b368d 220px,#0b358c 230px,#0b348a 240px,#0b3488 250px,#0b3387 260px,#0b3385 270px,#0b3284 280px,#0b2f7c 290px,#0b2c75 300px,#0c286d 310px,#0f2465 320px,#1a215d 322px,#2b1d51 324px,#401843 326px,#561437 328px,#67112d 330px,#720f28 332px,#7a1029 340px,#8a112b 350px,#8f112c 360px,#8b112b 370px,#86112a 380px,#821129 390px,#7e1028 400px,#7a1027 410px,#791027 420px,#781027 430px,#781027 440px,#771027 450px,#761026 460px,#750f26 470px,#740f26 480px,#6c0e24 490px,#630c21 500px,#5b0b1f 510px,#530a1c 520px,#570b1e 530px,#600c20 540px,#660d21 550px,#6d0e23 560px,#730f25 570px,#7a1027 580px,#821129 590px,#88112b 600px,#8f122d 610px,#90122d 620px,#90122d 630px,#91122e 640px,#91122e 650px,#86112b 660px,#7c0f27 670px,#7c0f27 680px)"></i>
<i style="top:403px;height:3px;background:linear-gradient(90deg,#0a4aa9 0px,#0a4aa9 10px,#0a4aa9 20px,#0a49a8 30px,#0a48a8 40px,#0a48a7 50px,#0a47a7 60px,#0a46a6 70px,#0a46a6 80px,#0a45a5 90px,#0a44a4 100px,#0a43a3 110px,#0a42a1 120px,#0a419f 130px,#0a409d 140px,#0a3e9c 150px,#0a3d9a 160px,#0a3c98 170px,#0a3b96 180px,#0a3a95 190px,#0a3993 200px,#0b3791 210px,#0b3790 220px,#0b368e 230px,#0b368c 240px,#0b358b 250px,#0b3489 260px,#0b3488 270px,#0b3386 280px,#0b307e 290px,#0b2c76 300px,#0c296e 310px,#0f2566 320px,#1b215d 322px,#2d1d50 324px,#431842 326px,#581436 328px,#6a112d 330px,#740f28 332px,#7c1029 340px,#8d112c 350px,#92112d 360px,#8e112c 370px,#89112b 380px,#85112a 390px,#801129 400px,#7c1027 410px,#7b1027 420px,#7a1027 430px,#791027 440px,#781027 450px,#771027 460px,#761027 470px,#750f26 480px,#6c0e24 490px,#630c21 500px,#5a0b1e 510px,#510a1c 520px,#560a1d 530px,#5f0c20 540px,#650d21 550px,#6c0e23 560px,#730f25 570px,#7a1027 580px,#821129 590px,#89112b 600px,#90122d 610px,#91122e 620px,#92122e 630px,#92122e 640px,#93122e 650px,#88112b 660px,#7c0f27 670px,#7c0f27 680px)"></i>
<i style="top:406px;height:3px;background:linear-gradient(90deg,#0a4baa 0px,#0a4baa 10px,#0a4aa9 20px,#0a49a8 30px,#0a49a8 40px,#0a48a7 50px,#0a47a7 60px,#0a47a6 70px,#0a46a6 80px,#0a45a5 90px,#0a45a5 100px,#0a43a3 110px,#0a42a1 120px,#0a419f 130px,#0a409e 140px,#0a3f9c 150px,#0a3d9a 160px,#0a3c98 170px,#0a3b97 180px,#0a3a95 190px,#0a3993 200px,#0b3892 210px,#0b3790 220px,#0b368e 230px,#0b368d 240px,#0b358b 250px,#0b358a 260px,#0b3488 270px,#0c3487 280px,#0c307e 290px,#0c2c76 300px,#0c296e 310px,#0d2668 319px,#102565 320px,#152361 321px,#261f56 323px,#3a1a48 325px,#50153b 327px,#631230 329px,#6b112c 330px,#71102a 331px,#7d112a 340px,#8d112c 350px,#93122d 360px,#8e122c 370px,#89112b 380px,#85112a 390px,#811129 400px,#7d1128 410px,#7c1027 420px,#7b1027 430px,#7a1027 440px,#791027 450px,#781027 460px,#771027 470px,#761027 480px,#6c0e24 490px,#630c21 500px,#5a0b1e 510px,#510a1c 520px,#560a1d 530px,#5f0c20 540px,#650d21 550px,#6c0e23 560px,#730f25 570px,#7a1027 580px,#821129 590px,#89122b 600px,#91132e 610px,#91132e 620px,#92132e 630px,#93132e 640px,#94132f 650px,#88112b 660px,#7d1028 670px,#7d1028 680px)"></i>
<i style="top:409px;height:3px;background:linear-gradient(90deg,#0a4baa 0px,#0a4baa 10px,#0a4aa9 20px,#0a49a8 30px,#0a49a8 40px,#0a48a7 50px,#0a47a7 60px,#0a47a6 70px,#0a46a6 80px,#0a45a5 90px,#0a45a5 100px,#0a43a3 110px,#0a42a1 120px,#0a419f 130px,#0a409e 140px,#0a3f9c 150px,#0a3d9a 160px,#0a3c98 170px,#0a3b97 180px,#0a3a95 190px,#0a3993 200px,#0b3892 210px,#0b3790 220px,#0b368e 230px,#0b368d 240px,#0b358b 250px,#0b358a 260px,#0b3488 270px,#0c3487 280px,#0c307e 290px,#0c2c76 300px,#0c296e 310px,#0d2567 319px,#112464 320px,#172360 321px,#271e54 323px,#3b1947 325px,#51153a 327px,#651230 329px,#6c102c 330px,#721029 331px,#7d112a 340px,#8d112c 350px,#93122d 360px,#8e122c 370px,#89112b 380px,#85112a 390px,#811129 400px,#7d1128 410px,#7c1027 420px,#7b1027 430px,#7a1027 440px,#791027 450px,#781027 460px,#771027 470px,#761027 480px,#6c0e24 490px,#630c21 500px,#5a0b1e 510px,#510a1c 520px,#560a1d 530px,#5f0c20 540px,#650d21 550px,#6c0e23 560px,#730f25 570px,#7a1027 580px,#821129 590px,#89122b 600px,#91132e 610px,#91132e 620px,#92132e 630px,#93132e 640px,#94132f 650px,#88112b 660px,#7d1028 670px,#7d1028 680px)"></i>
<i style="top:412px;height:3px;background:linear-gradient(90deg,#0a4baa 0px,#0a4baa 10px,#0a4aa9 20px,#0a49a8 30px,#0a49a8 40px,#0a48a7 50px,#0a47a7 60px,#0a47a6 70px,#0a46a6 80px,#0a45a5 90px,#0a45a5 100px,#0a43a3 110px,#0a42a1 120px,#0a419f 130px,#0a409e 140px,#0a3f9c 150px,#0a3d9a 160px,#0a3c98 170px,#0a3b97 180px,#0a3a95 190px,#0a3993 200px,#0b3892 210px,#0b3790 220px,#0b368e 230px,#0b368d 240px,#0b358b 250px,#0b358a 260px,#0b3488 270px,#0c3487 280px,#0c307e 290px,#0c2c76 300px,#0c296e 310px,#0e2567 319px,#122464 320px,#18225f 321px,#291e53 323px,#3d1946 325px,#531539 327px,#66112f 329px,#6d102b 330px,#721029 331px,#7d112a 340px,#8d112c 350px,#93122d 360px,#8e122c 370px,#89112b 380px,#85112a 390px,#811129 400px,#7d1128 410px,#7c1027 420px,#7b1027 430px,#7a1027 440px,#791027 450px,#781027 460px,#771027 470px,#761027 480px,#6c0e24 490px,#630c21 500px,#5a0b1e 510px,#510a1c 520px,#560a1d 530px,#5f0c20 540px,#650d21 550px,#6c0e23 560px,#730f25 570px,#7a1027 580px,#821129 590px,#89122b 600px,#91132e 610px,#91132e 620px,#92132e 630px,#93132e 640px,#94132f 650px,#88112b 660px,#7d1028 670px,#7d1028 680px)"></i>
<i style="top:415px;height:3px;background:linear-gradient(90deg,#0a4baa 0px,#0a4baa 10px,#0a4aa9 20px,#0a49a8 30px,#0a49a8 40px,#0a48a7 50px,#0a47a7 60px,#0a47a6 70px,#0a46a6 80px,#0a45a5 90px,#0a45a5 100px,#0a43a3 110px,#0a42a1 120px,#0a419f 130px,#0a409e 140px,#0a3f9c 150px,#0a3d9a 160px,#0a3c98 170px,#0a3b97 180px,#0a3a95 190px,#0a3993 200px,#0b3892 210px,#0b3790 220px,#0b368e 230px,#0b368d 240px,#0b358b 250px,#0b358a 260px,#0b3488 270px,#0c3487 280px,#0c307e 290px,#0c2c76 300px,#0c296e 310px,#0e2567 319px,#132463 320px,#19225e 321px,#2b1e52 323px,#3f1945 325px,#551538 327px,#67112e 329px,#6e102b 330px,#731029 331px,#7d112a 340px,#8d112c 350px,#93122d 360px,#8e122c 370px,#89112b 380px,#85112a 390px,#811129 400px,#7d1128 410px,#7c1027 420px,#7b1027 430px,#7a1027 440px,#791027 450px,#781027 460px,#771027 470px,#761027 480px,#6c0e24 490px,#630c21 500px,#5a0b1e 510px,#510a1c 520px,#560a1d 530px,#5f0c20 540px,#650d21 550px,#6c0e23 560px,#730f25 570px,#7a1027 580px,#821129 590px,#89122b 600px,#91132e 610px,#91132e 620px,#92132e 630px,#93132e 640px,#94132f 650px,#88112b 660px,#7d1028 670px,#7d1028 680px)"></i>
<i style="top:418px;height:3px;background:linear-gradient(90deg,#0a4baa 0px,#0a4baa 10px,#0a4aa9 20px,#0a49a8 30px,#0a49a8 40px,#0a48a7 50px,#0a47a7 60px,#0a47a6 70px,#0a46a6 80px,#0a45a5 90px,#0a45a5 100px,#0a43a3 110px,#0a42a1 120px,#0a419f 130px,#0a409e 140px,#0a3f9c 150px,#0a3d9a 160px,#0a3c98 170px,#0a3b97 180px,#0a3a95 190px,#0a3993 200px,#0b3892 210px,#0b3790 220px,#0b368e 230px,#0b368d 240px,#0b358b 250px,#0b358a 260px,#0b3488 270px,#0c3487 280px,#0c307e 290px,#0c2c76 300px,#0c296e 310px,#0f2566 319px,#142462 320px,#1b225d 321px,#2c1d51 323px,#411844 325px,#561437 327px,#68112e 329px,#6f102b 330px,#730f29 331px,#7d112a 340px,#8d112c 350px,#93122d 360px,#8e122c 370px,#89112b 380px,#85112a 390px,#811129 400px,#7d1128 410px,#7c1027 420px,#7b1027 430px,#7a1027 440px,#791027 450px,#781027 460px,#771027 470px,#761027 480px,#6c0e24 490px,#630c21 500px,#5a0b1e 510px,#510a1c 520px,#560a1d 530px,#5f0c20 540px,#650d21 550px,#6c0e23 560px,#730f25 570px,#7a1027 580px,#821129 590px,#89122b 600px,#91132e 610px,#91132e 620px,#92132e 630px,#93132e 640px,#94132f 650px,#88112b 660px,#7d1028 670px,#7d1028 680px)"></i>
<i style="top:421px;height:3px;background:linear-gradient(90deg,#0a4baa 0px,#0a4baa 10px,#0a4aa9 20px,#0a49a8 30px,#0a49a8 40px,#0a48a7 50px,#0a47a7 60px,#0a47a6 70px,#0a46a6 80px,#0a45a5 90px,#0a45a5 100px,#0a43a3 110px,#0a42a1 120px,#0a419f 130px,#0a409e 140px,#0a3f9c 150px,#0a3d9a 160px,#0a3c98 170px,#0a3b97 180px,#0a3a95 190px,#0a3993 200px,#0b3892 210px,#0b3790 220px,#0b368e 230px,#0b368d 240px,#0b358b 250px,#0b358a 260px,#0b3488 270px,#0c3487 280px,#0c307e 290px,#0c2c76 300px,#0c296e 310px,#102566 319px,#152362 320px,#1c215c 321px,#2e1d50 323px,#431843 325px,#581437 327px,#69112d 329px,#6f102a 330px,#730f29 331px,#7d112a 340px,#8d112c 350px,#93122d 360px,#8e122c 370px,#89112b 380px,#85112a 390px,#811129 400px,#7d1128 410px,#7c1027 420px,#7b1027 430px,#7a1027 440px,#791027 450px,#781027 460px,#771027 470px,#761027 480px,#6c0e24 490px,#630c21 500px,#5a0b1e 510px,#510a1c 520px,#560a1d 530px,#5f0c20 540px,#650d21 550px,#6c0e23 560px,#730f25 570px,#7a1027 580px,#821129 590px,#89122b 600px,#91132e 610px,#91132e 620px,#92132e 630px,#93132e 640px,#94132f 650px,#88112b 660px,#7d1028 670px,#7d1028 680px)"></i>
<i style="top:424px;height:3px;background:linear-gradient(90deg,#0a4baa 0px,#0a4baa 10px,#0a4aa9 20px,#0a49a8 30px,#0a49a8 40px,#0a48a7 50px,#0a47a7 60px,#0a47a6 70px,#0a46a6 80px,#0a45a5 90px,#0a45a5 100px,#0a43a3 110px,#0a42a1 120px,#0a419f 130px,#0a409e 140px,#0a3f9c 150px,#0a3d9a 160px,#0a3c98 170px,#0a3b97 180px,#0a3a95 190px,#0a3993 200px,#0b3892 210px,#0b3790 220px,#0b368e 230px,#0b368d 240px,#0b358b 250px,#0b358a 260px,#0b3488 270px,#0c3487 280px,#0c307e 290px,#0c2c76 300px,#0c296e 310px,#0d2668 318px,#152361 320px,#251f56 322px,#381a49 324px,#4e163c 326px,#611231 328px,#70102a 330px,#7d112a 340px,#8d112c 350px,#93122d 360px,#8e122c 370px,#89112b 380px,#85112a 390px,#811129 400px,#7d1128 410px,#7c1027 420px,#7b1027 430px,#7a1027 440px,#791027 450px,#781027 460px,#771027 470px,#761027 480px,#6c0e24 490px,#630c21 500px,#5a0b1e 510px,#510a1c 520px,#560a1d 530px,#5f0c20 540px,#650d21 550px,#6c0e23 560px,#730f25 570px,#7a1027 580px,#821129 590px,#89122b 600px,#91132e 610px,#91132e 620px,#92132e 630px,#93132e 640px,#94132f 650px,#88112b 660px,#7d1028 670px,#7d1028 680px)"></i>
<i style="top:427px;height:3px;background:linear-gradient(90deg,#0a4baa 0px,#0a4baa 10px,#0a4aa9 20px,#0a49a8 30px,#0a49a8 40px,#0a48a7 50px,#0a47a7 60px,#0a47a6 70px,#0a46a6 80px,#0a45a5 90px,#0a45a5 100px,#0a43a3 110px,#0a42a1 120px,#0a419f 130px,#0a409e 140px,#0a3f9c 150px,#0a3d9a 160px,#0a3c98 170px,#0a3b97 180px,#0a3a95 190px,#0a3993 200px,#0b3892 210px,#0b3790 220px,#0b368e 230px,#0b368d 240px,#0b358b 250px,#0b358a 260px,#0b3488 270px,#0c3487 280px,#0c307e 290px,#0c2c76 300px,#0c296e 310px,#0d2668 318px,#152361 320px,#251f56 322px,#381a49 324px,#4e163c 326px,#611231 328px,#70102a 330px,#7d112a 340px,#8d112c 350px,#93122d 360px,#8e122c 370px,#89112b 380px,#85112a 390px,#811129 400px,#7d1128 410px,#7c1027 420px,#7b1027 430px,#7a1027 440px,#791027 450px,#781027 460px,#771027 470px,#761027 480px,#6c0e24 490px,#630c21 500px,#5a0b1e 510px,#510a1c 520px,#560a1d 530px,#5f0c20 540px,#650d21 550px,#6c0e23 560px,#730f25 570px,#7a1027 580px,#821129 590px,#89122b 600px,#91132e 610px,#91132e 620px,#92132e 630px,#93132e 640px,#94132f 650px,#88112b 660px,#7d1028 670px,#7d1028 680px)"></i>
<i style="top:430px;height:3px;background:linear-gradient(90deg,#0a4baa 0px,#0a4baa 10px,#0a4aa9 20px,#0a49a8 30px,#0a49a8 40px,#0a48a7 50px,#0a47a7 60px,#0a47a6 70px,#0a46a6 80px,#0a45a5 90px,#0a45a5 100px,#0a43a3 110px,#0a42a1 120px,#0a419f 130px,#0a409e 140px,#0a3f9c 150px,#0a3d9a 160px,#0a3c98 170px,#0a3b97 180px,#0a3a95 190px,#0a3993 200px,#0b3892 210px,#0b3790 220px,#0b368e 230px,#0b368d 240px,#0b358b 250px,#0b358a 260px,#0b3488 270px,#0c3487 280px,#0c307e 290px,#0c2c76 300px,#0c296e 310px,#0d2668 318px,#152361 320px,#251f56 322px,#381a49 324px,#4e163c 326px,#611231 328px,#70102a 330px,#7d112a 340px,#8d112c 350px,#93122d 360px,#8e122c 370px,#89112b 380px,#85112a 390px,#811129 400px,#7d1128 410px,#7c1027 420px,#7b1027 430px,#7a1027 440px,#791027 450px,#781027 460px,#771027 470px,#761027 480px,#6c0e24 490px,#630c21 500px,#5a0b1e 510px,#510a1c 520px,#560a1d 530px,#5f0c20 540px,#650d21 550px,#6c0e23 560px,#730f25 570px,#7a1027 580px,#821129 590px,#89122b 600px,#91132e 610px,#91132e 620px,#92132e 630px,#93132e 640px,#94132f 650px,#88112b 660px,#7d1028 670px,#7d1028 680px)"></i>
<i style="top:433px;height:3px;background:linear-gradient(90deg,#0a4baa 0px,#0a4baa 10px,#0a4aa9 20px,#0a49a8 30px,#0a49a8 40px,#0a48a7 50px,#0a47a7 60px,#0a47a6 70px,#0a46a6 80px,#0a45a5 90px,#0a45a5 100px,#0a43a3 110px,#0a42a1 120px,#0a419f 130px,#0a409e 140px,#0a3f9c 150px,#0a3d9a 160px,#0a3c98 170px,#0a3b97 180px,#0a3a95 190px,#0a3993 200px,#0b3892 210px,#0b3790 220px,#0b368e 230px,#0b368d 240px,#0b358b 250px,#0b358a 260px,#0b3488 270px,#0c3487 280px,#0c307e 290px,#0c2c76 300px,#0c296e 310px,#0d2668 318px,#152361 320px,#251f56 322px,#381a49 324px,#4e163c 326px,#611231 328px,#70102a 330px,#7d112a 340px,#8d112c 350px,#93122d 360px,#8e122c 370px,#89112b 380px,#85112a 390px,#811129 400px,#7d1128 410px,#7c1027 420px,#7b1027 430px,#7a1027 440px,#791027 450px,#781027 460px,#771027 470px,#761027 480px,#6c0e24 490px,#630c21 500px,#5a0b1e 510px,#510a1c 520px,#560a1d 530px,#5f0c20 540px,#650d21 550px,#6c0e23 560px,#730f25 570px,#7a1027 580px,#821129 590px,#89122b 600px,#91132e 610px,#91132e 620px,#92132e 630px,#93132e 640px,#94132f 650px,#88112b 660px,#7d1028 670px,#7d1028 680px)"></i>
</div>
<div class="t"><span class="j">J</span>UGADORES AMERICANOS CON MÁS PARTIDOS</div>
<div class="h" style="left:158.2px">JUGADOR</div>
<div class="h" style="left:331.2px">PAÍS</div>
<div class="h" style="left:441.5px">PARTIDOS</div>
<div class="row" style="top:111.0px"><span class="n">MESSI</span><span class="c">Argentina</span><span class="v">778</span></div>
<div class="ln" style="top:135.3px;background:linear-gradient(90deg,rgba(238,230,205,.66) 168px,rgba(255,200,175,.68) 178px)"></div>
<div class="row" style="top:135.7px"><span class="n">ALVES</span><span class="c">Brasil</span><span class="v">408</span></div>
<div class="ln" style="top:160.0px;background:linear-gradient(90deg,rgba(238,230,205,.66) 168px,rgba(255,200,175,.68) 178px)"></div>
<div class="row" style="top:160.4px"><span class="n">MASCHERANO</span><span class="c">Argentina</span><span class="v">334</span></div>
<div class="ln" style="top:184.7px;background:linear-gradient(90deg,rgba(238,230,205,.66) 167px,rgba(255,200,175,.68) 177px)"></div>
<div class="row" style="top:185.1px"><span class="n">SUÁREZ</span><span class="c">Uruguay</span><span class="v">283</span></div>
<div class="ln" style="top:209.4px;background:linear-gradient(90deg,rgba(238,230,205,.66) 166px,rgba(255,200,175,.68) 176px)"></div>
<div class="row" style="top:209.8px"><span class="n">MÁRQUEZ</span><span class="c">México</span><span class="v">242</span></div>
<div class="ln" style="top:234.1px;background:linear-gradient(90deg,rgba(238,230,205,.66) 164px,rgba(255,200,175,.68) 174px)"></div>
<div class="row" style="top:234.5px"><span class="n">RIVALDO</span><span class="c">Brasil</span><span class="v">235</span></div>
<div class="ln" style="top:258.8px;background:linear-gradient(90deg,rgba(238,230,205,.66) 162px,rgba(255,200,175,.68) 172px)"></div>
<div class="row" style="top:259.2px"><span class="n">VILLAVERDE</span><span class="c">Uruguay</span><span class="v">224</span></div>
<div class="ln" style="top:283.5px;background:linear-gradient(90deg,rgba(238,230,205,.66) 159px,rgba(255,200,175,.68) 169px)"></div>
<div class="row" style="top:283.9px"><span class="n">RONALDINHO</span><span class="c">Brasil</span><span class="v">207</span></div>
<div class="ln" style="top:308.2px;background:linear-gradient(90deg,rgba(238,230,205,.66) 157px,rgba(255,200,175,.68) 167px)"></div>
<div class="row" style="top:308.6px"><span class="n">ADRIANO</span><span class="c">Brasil</span><span class="v">189</span></div>
<div class="ln" style="top:332.9px;background:linear-gradient(90deg,rgba(238,230,205,.66) 156px,rgba(255,200,175,.68) 166px)"></div>
<div class="row" style="top:333.3px"><span class="n">NEYMAR</span><span class="c">Brasil</span><span class="v">186</span></div>
<div class="ln" style="top:357.6px;background:linear-gradient(90deg,rgba(238,230,205,.66) 155px,rgba(255,200,175,.68) 165px)"></div>
<div class="row hl" style="top:358.0px"><span class="n">ARAUJO</span><span class="c">Uruguay</span><span class="v">185</span></div>
<script>
(function(){
var W=[532.8,57.7,27,60,49.6,67.9,48.3,39.5,113.2,67.9,62.4,58.4,80,48.7,68.4,39.5,95.5,58.4,106.8,39.5,73,39.5,69.5,39.5,66.5,61.7];
var els=document.querySelectorAll('.t,.h,.n,.c');
var t0=els[0].getBoundingClientRect().width;if(Math.abs(t0-W[0])>W[0]*0.06){document.body.className='fb';}
for(var i=0;i<els.length&&i<W.length;i++){var e=els[i];var w=e.getBoundingClientRect().width;
if(w>0&&Math.abs(w-W[i])>W[i]*0.06){e.style.transformOrigin='0 50%';e.style.transform='scaleX('+(W[i]/w).toFixed(4)+')';}}
})();
</script>
</body></html>
